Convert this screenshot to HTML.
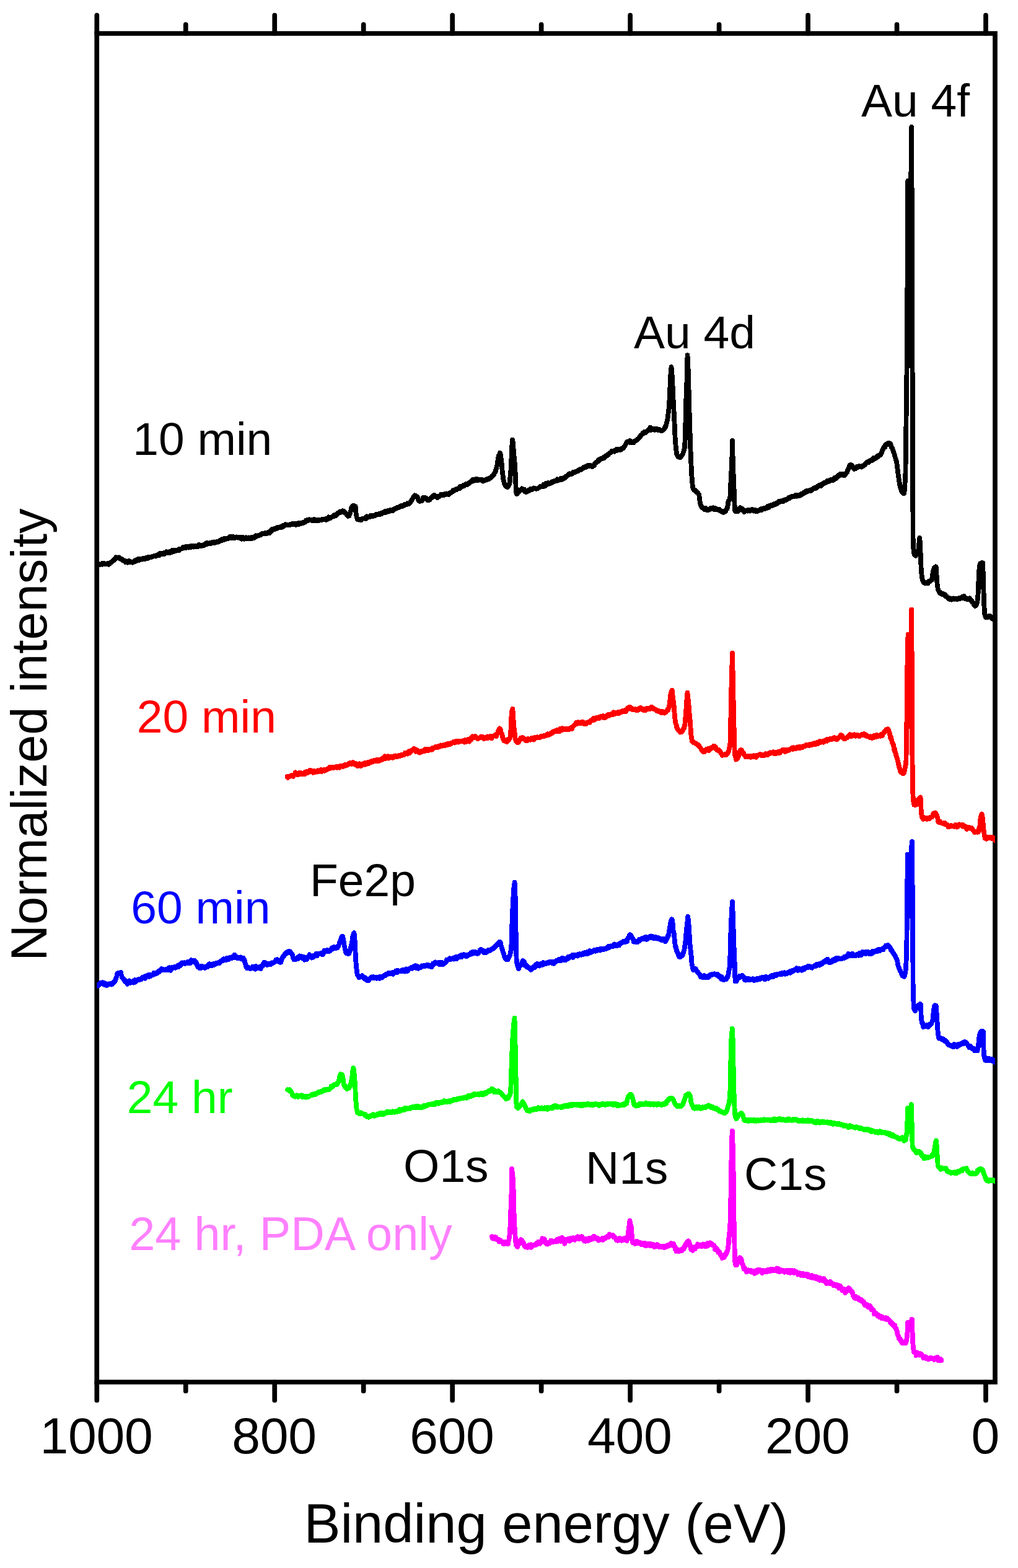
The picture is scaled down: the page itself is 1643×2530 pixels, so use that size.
<!DOCTYPE html>
<html lang="en"><head><meta charset="utf-8"><title>XPS survey spectra</title>
<style>html,body{margin:0;padding:0;background:#fff}body{width:1643px;height:2530px;overflow:hidden}svg{display:block}text{font-family:"Liberation Sans",sans-serif}</style></head><body>
<svg width="1643" height="2530" viewBox="0 0 1643 2530">
<rect width="1643" height="2530" fill="#fff"/>
<defs><clipPath id="plot"><rect x="156.25" y="54.00" width="1449.75" height="2176.00"/></clipPath></defs>
<g stroke="#000" stroke-width="7.70" fill="none" stroke-linecap="round">
<path stroke-linecap="butt" stroke-linejoin="miter" d="M156.25,54.00 H1606.00 V2230.00 H156.25 Z"/>
<path d="M1591.00,54.00 V24.55 M1591.00,2230.00 V2259.45"/>
<path d="M1447.53,54.00 V39.55 M1447.53,2230.00 V2244.45"/>
<path d="M1304.06,54.00 V24.55 M1304.06,2230.00 V2259.45"/>
<path d="M1160.59,54.00 V39.55 M1160.59,2230.00 V2244.45"/>
<path d="M1017.12,54.00 V24.55 M1017.12,2230.00 V2259.45"/>
<path d="M873.65,54.00 V39.55 M873.65,2230.00 V2244.45"/>
<path d="M730.18,54.00 V24.55 M730.18,2230.00 V2259.45"/>
<path d="M586.71,54.00 V39.55 M586.71,2230.00 V2244.45"/>
<path d="M443.24,54.00 V24.55 M443.24,2230.00 V2259.45"/>
<path d="M299.77,54.00 V39.55 M299.77,2230.00 V2244.45"/>
<path d="M156.30,54.00 V24.55 M156.30,2230.00 V2259.45"/>
</g>
<g fill="none" stroke-width="7.80" stroke-linejoin="round" stroke-linecap="round" shape-rendering="crispEdges">
<g clip-path="url(#plot)"><path stroke="#000000" d="M156.0,910.1 L156.7,910.6 L157.4,910.1 L158.2,910.0 L158.9,909.6 L159.6,910.1 L160.3,910.9 L161.0,910.5 L161.8,910.9 L162.5,910.3 L163.2,910.4 L163.9,910.3 L164.6,909.1 L165.4,910.7 L166.1,910.4 L166.8,910.4 L167.5,909.0 L168.2,908.9 L169.0,909.4 L169.7,909.7 L170.4,910.2 L171.1,909.9 L171.8,910.2 L172.6,909.4 L173.3,910.0 L174.0,910.0 L174.7,909.3 L175.4,910.8 L176.2,909.8 L176.9,909.9 L177.6,908.3 L178.3,907.7 L179.0,907.4 L179.8,907.0 L180.5,906.9 L181.2,906.2 L181.9,905.1 L182.6,904.1 L183.4,903.6 L184.1,904.0 L184.8,901.9 L185.5,901.8 L186.2,901.2 L187.0,899.4 L187.7,900.0 L188.4,900.6 L188.7,899.7 L189.1,899.5 L189.8,899.7 L190.6,899.4 L191.3,900.4 L192.0,900.2 L192.7,899.5 L193.4,901.2 L194.2,901.3 L194.9,901.8 L195.6,902.4 L196.3,902.0 L197.0,902.4 L197.8,902.3 L198.5,904.5 L199.2,904.6 L199.9,905.5 L200.6,905.5 L201.4,905.9 L202.1,906.2 L202.8,907.4 L203.5,905.3 L204.2,905.7 L205.0,906.8 L205.7,907.6 L206.4,907.0 L207.1,905.4 L207.8,905.1 L208.6,906.9 L209.3,906.2 L210.0,906.0 L210.7,907.4 L211.4,907.4 L212.2,906.8 L212.9,906.9 L213.6,906.9 L214.3,907.6 L215.0,906.8 L215.8,906.5 L216.5,906.3 L217.2,904.7 L217.9,906.3 L218.6,905.8 L219.4,905.2 L220.1,903.2 L220.8,903.8 L221.5,904.5 L222.2,902.4 L223.0,903.2 L223.7,903.8 L224.4,902.0 L225.1,903.7 L225.8,902.9 L226.6,902.3 L227.3,902.4 L228.0,902.5 L228.7,902.0 L229.4,902.5 L230.2,901.2 L230.9,901.2 L231.6,902.1 L232.3,901.3 L233.0,900.6 L233.8,901.6 L234.5,901.8 L235.2,900.4 L235.9,899.7 L236.6,900.3 L237.4,900.2 L238.1,899.9 L238.8,900.8 L239.5,899.0 L240.2,900.3 L241.0,898.5 L241.7,898.6 L242.4,899.3 L243.1,899.4 L243.8,899.1 L244.6,898.5 L245.3,898.2 L246.0,898.0 L246.7,898.0 L247.4,897.3 L248.2,897.4 L248.9,897.4 L249.6,896.8 L250.3,897.1 L251.0,896.8 L251.8,897.5 L252.5,896.2 L253.2,895.5 L253.9,895.3 L254.6,895.4 L255.4,895.7 L256.1,894.7 L256.8,895.0 L257.5,895.7 L258.2,892.7 L259.0,893.4 L259.7,894.1 L260.4,894.0 L261.1,893.7 L261.8,893.1 L262.6,893.6 L263.3,893.2 L264.0,892.5 L264.7,894.3 L265.4,892.8 L266.2,892.1 L266.9,892.3 L267.6,892.0 L268.3,892.0 L269.0,890.1 L269.8,891.5 L270.5,892.3 L271.2,890.8 L271.9,891.3 L272.6,891.9 L273.4,891.6 L274.1,891.9 L274.8,889.7 L275.5,890.4 L276.2,890.2 L277.0,890.6 L277.7,890.8 L278.4,888.1 L279.1,890.4 L279.8,888.5 L280.6,889.7 L281.3,888.1 L282.0,889.0 L282.7,889.4 L283.4,888.3 L284.2,888.3 L284.9,888.5 L285.6,887.9 L286.3,887.5 L287.0,888.3 L287.8,887.8 L288.5,886.7 L289.2,888.4 L289.9,885.6 L290.6,886.7 L291.4,885.6 L292.1,885.6 L292.8,885.7 L293.5,885.1 L294.2,885.1 L295.0,883.4 L295.7,883.2 L296.4,884.3 L297.1,883.0 L297.8,882.8 L298.6,882.3 L299.3,883.9 L300.0,883.5 L300.7,883.8 L301.4,882.1 L302.2,882.6 L302.9,881.8 L303.6,882.9 L304.3,883.4 L305.0,881.7 L305.8,883.2 L306.5,882.8 L307.2,881.9 L307.9,880.7 L308.6,882.8 L309.4,881.8 L310.1,881.4 L310.8,881.9 L311.5,881.9 L312.2,882.5 L313.0,880.8 L313.7,882.1 L314.4,882.3 L315.1,882.2 L315.8,881.1 L316.6,880.6 L317.3,881.7 L318.0,881.1 L318.7,881.0 L319.4,881.8 L320.2,880.6 L320.9,879.2 L321.6,880.4 L322.3,879.4 L323.0,881.0 L323.8,880.6 L324.5,879.9 L325.2,880.2 L325.9,880.6 L326.6,879.9 L327.4,880.6 L328.1,879.4 L328.8,879.9 L329.5,880.0 L330.2,879.8 L331.0,878.0 L331.7,878.8 L332.4,876.7 L333.1,877.0 L333.8,876.2 L334.6,877.9 L335.3,876.2 L336.0,876.8 L336.7,876.5 L337.4,876.5 L338.2,876.0 L338.9,876.4 L339.6,877.3 L340.3,876.1 L341.0,876.3 L341.8,876.5 L342.5,875.7 L343.2,874.9 L343.9,875.3 L344.6,876.2 L345.4,874.4 L346.1,875.0 L346.8,875.9 L347.5,875.7 L348.2,875.1 L349.0,875.4 L349.7,874.9 L350.4,873.9 L351.1,873.4 L351.8,873.8 L352.6,874.6 L353.3,873.4 L354.0,872.9 L354.7,872.7 L355.4,871.9 L356.2,872.6 L356.9,871.6 L357.6,872.3 L358.3,870.2 L359.0,871.7 L359.8,870.7 L360.5,869.6 L361.2,871.1 L361.9,870.2 L362.6,868.7 L363.4,869.3 L364.1,869.8 L364.8,869.1 L365.5,869.6 L366.2,869.3 L367.0,869.0 L367.7,868.5 L368.4,868.9 L369.1,868.3 L369.8,867.9 L370.6,866.0 L371.3,867.8 L372.0,867.9 L372.7,866.7 L373.4,866.5 L374.2,868.1 L374.9,865.6 L375.6,867.1 L376.3,868.4 L377.0,866.2 L377.8,867.3 L378.5,868.1 L379.2,866.8 L379.9,867.3 L380.6,867.6 L381.4,866.5 L382.1,867.0 L382.8,867.3 L383.5,867.7 L384.2,867.2 L385.0,867.2 L385.7,866.7 L386.4,867.2 L387.1,868.1 L387.8,867.7 L388.6,867.2 L389.3,867.4 L390.0,869.8 L390.7,868.9 L391.4,868.7 L392.2,866.7 L392.9,868.8 L393.6,868.8 L394.3,869.6 L395.0,868.8 L395.8,868.5 L396.5,868.9 L397.2,867.2 L397.9,869.1 L398.6,868.7 L399.4,867.9 L400.1,869.2 L400.8,869.5 L401.5,867.4 L402.2,867.8 L403.0,868.4 L403.7,868.2 L404.4,867.8 L405.1,867.4 L405.8,869.3 L406.6,868.4 L407.3,866.8 L408.0,866.6 L408.7,868.4 L409.4,867.7 L410.2,868.0 L410.9,867.1 L411.6,865.8 L412.3,866.3 L413.0,864.4 L413.8,865.1 L414.5,865.3 L415.2,865.4 L415.9,864.3 L416.6,864.4 L417.4,864.4 L418.1,864.0 L418.8,863.8 L419.5,863.2 L420.2,862.5 L421.0,862.9 L421.7,862.1 L422.4,861.2 L423.1,861.0 L423.8,861.2 L424.6,861.0 L425.3,861.0 L426.0,860.8 L426.7,860.8 L427.4,860.6 L428.2,859.8 L428.9,860.8 L429.6,861.2 L430.3,860.7 L431.0,860.2 L431.8,860.6 L432.5,859.6 L433.2,858.9 L433.9,860.0 L434.6,859.2 L435.4,859.9 L436.1,858.0 L436.8,856.0 L437.5,856.0 L438.2,856.7 L439.0,854.6 L439.7,853.4 L440.4,853.4 L441.1,853.9 L441.8,853.6 L442.6,853.2 L443.3,853.8 L444.0,853.1 L444.7,852.4 L445.4,852.6 L446.2,853.1 L446.9,852.5 L447.6,852.3 L448.3,850.7 L449.0,851.1 L449.8,851.5 L450.5,850.6 L451.2,851.2 L451.9,850.6 L452.6,850.5 L453.4,849.5 L454.1,851.0 L454.8,849.8 L455.5,848.6 L456.2,848.5 L457.0,849.8 L457.7,847.7 L458.4,848.2 L459.1,848.1 L459.8,847.2 L460.6,846.3 L461.3,847.0 L462.0,847.1 L462.7,847.5 L463.4,847.2 L464.2,846.6 L464.9,847.1 L465.6,846.9 L466.3,846.6 L467.0,846.5 L467.8,846.3 L468.5,846.8 L469.2,845.7 L469.9,845.9 L470.6,846.3 L471.4,845.3 L472.1,845.9 L472.8,844.9 L473.5,845.7 L474.2,846.5 L475.0,846.4 L475.7,845.9 L476.4,845.8 L477.1,845.0 L477.8,847.0 L478.6,846.1 L479.3,846.4 L480.0,845.1 L480.7,845.5 L481.4,844.4 L482.2,846.0 L482.9,846.0 L483.6,844.1 L484.3,845.2 L485.0,845.5 L485.8,843.9 L486.5,843.7 L487.2,844.1 L487.9,844.2 L488.6,843.3 L489.4,843.9 L490.1,843.5 L490.8,843.2 L491.5,842.7 L492.2,842.7 L493.0,841.9 L493.7,839.8 L494.4,839.9 L495.1,839.1 L495.8,838.8 L496.6,839.3 L497.3,839.3 L498.0,839.6 L498.7,838.3 L499.4,838.6 L500.2,839.4 L500.9,839.3 L501.6,839.3 L502.3,839.5 L503.0,839.1 L503.8,840.1 L504.5,839.9 L505.2,839.6 L505.9,839.3 L506.6,839.6 L507.4,838.0 L508.1,839.2 L508.8,839.8 L509.5,838.8 L510.2,839.9 L511.0,839.9 L511.7,838.9 L512.4,839.6 L513.1,839.5 L513.8,839.9 L514.6,839.9 L515.3,839.4 L516.0,838.8 L516.7,839.1 L517.4,839.1 L518.2,839.5 L518.9,839.1 L519.6,838.3 L520.3,837.8 L521.0,838.3 L521.8,837.9 L522.5,837.5 L523.2,838.0 L523.9,837.6 L524.6,837.9 L525.4,838.0 L526.1,837.2 L526.8,838.8 L527.5,836.8 L528.2,837.5 L529.0,836.6 L529.7,837.0 L530.4,834.4 L531.1,835.2 L531.8,835.6 L532.6,835.5 L533.3,836.3 L534.0,834.7 L534.7,835.0 L535.4,834.3 L536.2,834.1 L536.9,833.5 L537.6,832.8 L538.3,832.9 L539.0,831.5 L539.8,832.6 L540.5,830.8 L541.2,831.2 L541.9,832.0 L542.6,830.1 L543.4,829.8 L544.1,830.1 L544.8,828.7 L545.5,827.6 L546.2,827.6 L547.0,827.3 L547.7,826.8 L548.4,825.5 L549.1,826.9 L549.8,826.5 L550.6,825.2 L551.3,825.2 L552.0,824.6 L552.7,825.7 L553.4,824.3 L554.2,825.3 L554.9,824.9 L555.6,825.3 L556.3,826.8 L557.0,827.9 L557.8,827.8 L558.5,828.0 L559.2,829.8 L559.9,830.1 L560.6,831.3 L561.4,832.8 L562.2,832.2 L562.8,831.6 L563.5,832.3 L564.2,829.3 L565.0,827.9 L565.7,825.0 L566.4,823.3 L567.1,819.2 L567.8,818.8 L568.6,817.6 L569.3,815.9 L570.0,815.7 L570.7,815.7 L571.4,817.5 L572.2,816.4 L572.9,816.7 L573.6,816.9 L574.3,825.6 L575.0,830.8 L575.8,835.0 L576.5,836.6 L577.2,838.4 L577.9,838.6 L578.6,838.7 L579.4,838.3 L580.1,837.9 L580.8,838.5 L581.5,838.1 L582.2,839.5 L583.0,838.9 L583.7,838.1 L584.4,837.6 L585.1,837.1 L585.8,836.6 L586.6,836.6 L587.3,836.6 L588.0,836.5 L588.7,836.2 L589.4,836.9 L590.2,834.8 L590.9,835.0 L591.6,836.6 L592.3,833.3 L593.0,833.9 L593.8,834.1 L594.5,833.9 L595.2,833.9 L595.9,833.3 L596.6,833.5 L597.4,833.2 L598.1,833.6 L598.8,831.7 L599.5,832.3 L600.2,832.7 L601.0,832.0 L601.7,831.8 L602.4,832.8 L603.1,831.8 L603.8,832.5 L604.6,832.4 L605.3,831.9 L606.0,831.8 L606.7,831.1 L607.4,830.0 L608.2,830.7 L608.9,830.7 L609.6,829.8 L610.3,829.8 L611.0,830.1 L611.8,828.8 L612.5,829.6 L613.2,830.1 L613.9,828.3 L614.6,828.5 L615.4,828.1 L616.1,828.9 L616.8,827.9 L617.5,828.0 L618.2,826.8 L619.0,827.0 L619.7,826.9 L620.4,825.5 L621.1,827.5 L621.8,826.9 L622.6,825.0 L623.3,826.5 L624.0,825.7 L624.7,825.9 L625.4,825.6 L626.2,824.1 L626.9,824.7 L627.6,825.6 L628.3,824.0 L629.0,823.4 L629.8,823.0 L630.5,822.8 L631.2,823.6 L631.9,824.2 L632.6,823.2 L633.4,822.8 L634.1,823.9 L634.8,821.9 L635.5,821.6 L636.2,822.1 L637.0,821.9 L637.7,820.6 L638.4,820.2 L639.1,820.8 L639.8,820.5 L640.6,819.1 L641.3,819.4 L642.0,818.8 L642.7,819.1 L643.4,818.3 L644.2,817.9 L644.9,817.4 L645.6,818.0 L646.3,817.9 L647.0,816.5 L647.8,817.1 L648.5,815.8 L649.2,816.1 L649.9,816.3 L650.6,816.6 L651.4,815.1 L652.1,815.1 L652.8,815.0 L653.5,813.7 L654.2,814.5 L655.0,813.8 L655.7,814.3 L656.4,813.1 L657.1,812.4 L657.8,813.5 L658.6,813.4 L659.3,812.6 L660.0,813.2 L660.7,812.1 L661.4,811.4 L662.2,811.2 L662.9,808.8 L663.6,808.1 L664.3,807.2 L665.0,806.5 L665.8,804.7 L666.5,803.9 L667.2,802.0 L667.9,801.4 L668.6,801.4 L669.4,799.3 L670.1,801.3 L670.8,799.7 L671.5,800.6 L672.2,801.3 L673.0,802.5 L673.7,802.0 L674.4,803.2 L675.1,806.8 L675.8,807.7 L676.6,807.6 L677.3,808.9 L678.0,807.4 L678.7,807.4 L679.4,807.8 L680.2,807.5 L680.9,808.3 L681.6,806.1 L682.3,806.0 L683.0,803.1 L683.8,804.9 L684.5,803.3 L685.2,803.5 L685.9,804.1 L686.6,803.1 L687.4,803.6 L688.1,804.3 L688.8,805.1 L689.5,806.1 L690.2,807.5 L691.0,807.2 L691.7,807.1 L692.4,806.5 L693.1,806.6 L693.8,805.6 L694.6,804.5 L695.3,804.3 L696.0,803.2 L696.7,801.9 L697.4,802.9 L698.2,801.6 L698.9,800.0 L699.6,800.8 L700.3,800.0 L701.0,798.7 L701.8,801.0 L702.5,800.6 L703.2,801.5 L703.9,801.6 L704.6,801.8 L705.4,801.2 L706.1,802.9 L706.8,802.1 L707.5,801.5 L708.2,801.5 L709.0,800.8 L709.7,800.8 L710.4,799.7 L711.1,799.6 L711.8,797.9 L712.6,798.8 L713.3,799.2 L714.0,799.4 L714.7,798.0 L715.4,797.9 L716.2,798.8 L716.9,797.4 L717.6,797.9 L718.3,798.3 L719.0,797.1 L719.8,797.8 L720.5,796.4 L721.2,796.9 L721.9,796.6 L722.6,796.7 L723.4,797.2 L724.1,797.9 L724.8,795.8 L725.5,795.7 L726.2,796.2 L727.0,794.8 L727.7,795.4 L728.4,795.0 L729.1,793.9 L729.8,793.9 L730.6,791.9 L731.3,792.9 L732.0,790.8 L732.7,790.9 L733.4,790.5 L734.2,790.2 L734.9,790.7 L735.6,789.8 L736.3,789.1 L737.0,789.4 L737.8,789.7 L738.5,788.4 L739.2,788.2 L739.9,788.5 L740.6,787.5 L741.4,786.1 L742.1,788.2 L742.8,787.6 L743.5,784.5 L744.2,785.4 L745.0,785.3 L745.7,785.3 L746.4,784.8 L747.1,783.8 L747.8,783.0 L748.6,783.5 L749.3,783.8 L750.0,782.2 L750.7,782.0 L751.4,782.5 L752.2,781.1 L752.9,782.0 L753.6,781.6 L754.3,781.9 L755.0,780.9 L755.8,780.4 L756.5,780.2 L757.2,779.7 L757.9,778.4 L758.6,777.9 L759.4,777.6 L760.1,777.2 L760.8,777.1 L761.5,775.2 L762.2,775.2 L763.0,773.6 L763.7,776.2 L764.4,774.3 L765.1,774.6 L765.8,774.8 L766.6,773.5 L767.3,774.6 L768.0,774.3 L768.7,773.1 L769.4,774.5 L770.2,775.1 L770.9,773.1 L771.6,774.8 L772.3,774.3 L773.0,774.3 L773.8,774.2 L774.5,774.6 L775.2,773.6 L775.9,774.3 L776.6,773.7 L777.4,774.8 L778.1,774.2 L778.8,775.1 L779.5,776.6 L780.2,775.9 L781.0,775.4 L781.7,774.5 L782.4,774.4 L783.1,774.7 L783.8,774.8 L784.6,774.1 L785.3,773.8 L786.0,773.1 L786.7,773.8 L787.4,772.5 L788.2,772.2 L788.9,772.9 L789.6,772.1 L790.3,771.6 L791.0,771.1 L791.8,771.0 L792.5,771.0 L793.2,770.2 L793.9,768.5 L794.6,768.8 L795.4,767.9 L796.1,766.3 L796.8,766.5 L797.5,764.7 L798.2,763.3 L799.0,762.4 L799.7,760.9 L800.4,757.5 L801.1,755.7 L801.8,752.1 L802.6,750.5 L803.3,744.1 L804.0,740.3 L804.7,735.3 L805.4,734.8 L806.2,734.6 L806.9,730.8 L807.6,732.2 L808.3,736.0 L809.0,742.4 L809.8,749.2 L810.5,758.5 L811.2,764.4 L811.9,769.1 L812.6,775.3 L813.4,776.7 L814.1,781.0 L814.8,781.8 L815.5,783.3 L816.2,784.8 L817.0,784.7 L817.7,784.2 L818.4,784.4 L819.1,786.3 L819.8,785.6 L820.6,783.6 L821.3,783.3 L822.0,781.2 L822.7,778.3 L823.4,770.1 L824.2,763.0 L824.9,751.6 L825.6,735.7 L826.3,720.1 L827.0,709.6 L827.8,713.2 L828.5,722.5 L829.2,733.3 L829.9,737.7 L830.6,746.4 L831.4,758.1 L832.1,772.7 L832.8,790.3 L833.5,796.8 L834.0,797.1 L835.0,796.8 L835.7,795.5 L836.4,794.9 L837.1,793.3 L837.8,791.8 L838.6,792.8 L839.3,791.6 L840.0,790.4 L840.7,790.2 L841.4,790.2 L842.2,788.4 L842.9,788.7 L843.6,789.0 L844.3,789.4 L845.0,789.6 L845.8,789.5 L846.5,792.9 L847.2,793.3 L847.9,793.8 L848.6,793.9 L849.4,794.1 L850.1,793.5 L850.8,792.8 L851.5,792.5 L852.2,792.1 L853.0,791.6 L853.7,790.7 L854.4,791.4 L855.1,789.6 L855.8,790.4 L856.6,788.9 L857.3,789.5 L858.0,790.0 L858.7,789.1 L859.4,788.4 L860.2,788.8 L860.9,788.8 L861.6,787.5 L862.3,788.2 L863.0,788.6 L863.8,788.2 L864.5,788.5 L865.2,788.8 L865.9,788.7 L866.6,788.7 L867.4,788.4 L868.1,787.6 L868.8,787.5 L869.5,787.1 L870.2,786.8 L871.0,786.5 L871.7,785.1 L872.4,785.6 L873.1,785.5 L873.8,784.5 L874.6,784.7 L875.3,784.7 L876.0,783.9 L876.7,785.1 L877.4,781.7 L878.2,782.9 L878.9,781.6 L879.6,783.1 L880.3,783.8 L881.0,780.2 L881.8,781.6 L882.5,781.6 L883.2,780.7 L883.9,781.0 L884.6,779.0 L885.4,780.8 L886.1,780.3 L886.8,779.9 L887.5,779.4 L888.2,780.1 L889.0,779.2 L889.7,779.5 L890.4,778.8 L891.1,777.3 L891.8,778.3 L892.6,778.0 L893.3,777.9 L894.0,776.3 L894.7,776.4 L895.4,776.5 L896.2,775.9 L896.9,776.3 L897.6,776.5 L898.3,774.4 L899.0,773.5 L899.8,775.1 L900.5,775.3 L901.2,774.7 L901.9,774.4 L902.6,773.3 L903.4,773.0 L904.1,773.8 L904.8,772.4 L905.5,771.6 L906.2,771.9 L907.0,773.9 L907.7,773.3 L908.4,771.4 L909.1,771.1 L909.8,771.5 L910.6,770.5 L911.3,771.5 L912.0,770.1 L912.7,769.0 L913.4,770.0 L914.2,768.2 L914.9,768.2 L915.6,767.5 L916.3,766.8 L917.0,766.7 L917.8,765.7 L918.5,764.7 L919.2,764.2 L919.9,764.6 L920.6,764.7 L921.4,765.0 L922.1,764.8 L922.8,764.8 L923.5,764.2 L924.2,763.3 L925.0,762.9 L925.7,761.6 L926.4,762.5 L927.1,762.5 L927.8,762.1 L928.6,761.3 L929.3,760.9 L930.0,761.3 L930.7,760.3 L931.4,760.4 L932.2,760.0 L932.9,759.4 L933.6,759.7 L934.3,758.1 L935.0,757.9 L935.8,757.3 L936.5,756.9 L937.2,758.1 L937.9,757.8 L938.6,756.3 L939.4,756.3 L940.1,756.3 L940.8,755.7 L941.5,755.6 L942.2,753.6 L943.0,753.7 L943.7,754.1 L944.4,754.4 L945.1,753.2 L945.8,752.3 L946.6,752.3 L947.3,751.8 L948.0,751.3 L948.7,752.6 L949.4,751.0 L950.2,751.2 L950.9,752.4 L951.6,751.7 L952.3,751.2 L953.0,750.7 L953.8,751.6 L954.5,752.6 L955.2,752.2 L955.9,752.9 L956.6,752.2 L957.0,752.2 L957.4,752.0 L958.1,751.8 L958.8,751.5 L959.5,748.6 L960.2,748.3 L961.0,747.3 L961.7,745.8 L962.4,745.3 L963.1,745.5 L963.8,745.7 L964.6,744.3 L965.3,743.6 L966.0,741.9 L966.7,743.8 L967.4,742.1 L968.2,741.6 L968.9,740.5 L969.6,740.8 L970.3,739.8 L971.0,740.2 L971.8,740.1 L972.5,739.5 L973.2,739.3 L973.9,738.2 L974.6,739.4 L975.4,737.7 L976.1,736.5 L976.8,737.2 L977.5,736.3 L978.2,735.6 L979.0,735.4 L979.7,735.2 L980.4,733.6 L981.1,733.6 L981.8,733.9 L982.6,732.8 L983.3,731.7 L984.0,731.3 L984.7,730.7 L985.4,730.3 L986.2,730.4 L986.9,729.4 L987.6,727.5 L988.3,728.6 L989.0,727.7 L989.8,728.4 L990.5,727.3 L991.2,727.5 L991.9,728.6 L992.6,726.4 L993.4,726.2 L994.1,725.9 L994.8,725.1 L995.5,725.4 L996.2,726.8 L997.0,726.0 L997.7,725.1 L998.4,725.2 L999.1,726.4 L999.8,725.3 L1000.6,725.3 L1001.3,725.4 L1002.0,725.7 L1002.7,725.6 L1003.4,724.5 L1004.2,723.3 L1004.9,722.8 L1005.6,723.2 L1006.3,722.4 L1007.0,720.6 L1007.8,720.4 L1008.5,719.3 L1009.2,718.1 L1009.9,716.6 L1010.6,714.9 L1011.4,714.4 L1012.1,712.8 L1012.8,713.8 L1013.5,712.8 L1014.4,712.2 L1015.0,713.2 L1015.7,712.9 L1016.4,711.2 L1017.1,713.8 L1017.8,713.3 L1018.6,714.3 L1019.3,712.3 L1020.0,713.6 L1020.7,713.7 L1021.4,713.6 L1022.2,713.6 L1022.9,714.0 L1023.6,712.1 L1024.3,711.9 L1025.0,711.3 L1025.8,711.3 L1026.5,710.7 L1027.2,710.7 L1027.9,709.9 L1028.6,709.1 L1029.4,708.0 L1030.1,707.5 L1030.8,707.6 L1031.5,706.6 L1032.2,705.2 L1033.0,704.0 L1033.7,704.2 L1034.4,701.9 L1035.1,701.8 L1035.8,701.4 L1036.6,699.8 L1037.3,700.0 L1038.0,698.3 L1038.7,699.3 L1039.4,698.5 L1040.2,697.0 L1040.9,698.2 L1041.6,696.9 L1042.3,698.0 L1043.0,696.3 L1043.8,696.3 L1044.5,696.1 L1045.2,695.0 L1045.9,694.5 L1046.6,693.0 L1047.4,692.9 L1048.1,691.6 L1048.8,691.3 L1049.5,689.6 L1050.2,694.0 L1051.0,693.3 L1051.7,692.0 L1052.4,693.1 L1053.1,693.2 L1053.8,693.5 L1054.6,691.9 L1055.3,693.5 L1056.0,692.2 L1056.7,693.8 L1057.4,692.1 L1058.2,692.6 L1058.9,692.0 L1059.6,691.6 L1060.3,693.3 L1061.0,693.4 L1061.8,694.1 L1062.5,694.0 L1063.2,693.4 L1063.9,693.1 L1064.6,694.0 L1065.4,694.3 L1066.1,694.4 L1066.8,695.4 L1067.5,695.2 L1068.2,694.7 L1069.0,694.6 L1069.7,693.9 L1070.4,693.5 L1071.1,693.1 L1071.8,692.5 L1072.6,690.5 L1073.3,688.9 L1074.0,689.3 L1074.7,686.6 L1075.4,685.1 L1076.2,680.9 L1076.9,678.7 L1077.6,675.2 L1078.3,669.6 L1079.0,664.1 L1079.8,656.8 L1080.5,644.8 L1081.2,629.8 L1081.9,613.0 L1082.6,600.5 L1083.5,592.1 L1084.1,597.0 L1084.8,608.0 L1085.5,620.3 L1086.2,637.1 L1087.0,651.7 L1087.7,665.9 L1088.4,679.6 L1089.1,694.9 L1089.8,710.0 L1090.6,718.8 L1091.3,725.8 L1092.0,732.2 L1092.7,734.1 L1093.4,735.2 L1094.2,736.9 L1094.9,736.8 L1095.6,737.6 L1096.3,737.6 L1097.0,738.0 L1097.8,738.2 L1098.5,736.4 L1099.2,737.1 L1099.9,735.8 L1100.6,734.3 L1101.4,733.1 L1102.1,732.8 L1102.8,730.2 L1103.5,728.5 L1104.2,725.3 L1105.0,722.1 L1105.7,708.2 L1106.4,682.4 L1107.1,653.4 L1107.8,630.6 L1108.6,612.4 L1109.5,573.1 L1110.0,580.5 L1110.7,597.5 L1111.4,621.0 L1112.2,650.9 L1112.9,676.3 L1113.6,698.3 L1114.3,720.9 L1115.0,738.9 L1115.8,756.2 L1116.5,768.8 L1117.2,778.0 L1117.9,785.2 L1118.6,788.2 L1119.4,789.4 L1120.1,790.9 L1120.8,791.0 L1121.5,790.4 L1122.2,792.4 L1123.0,791.8 L1123.7,794.1 L1124.4,793.3 L1125.1,794.2 L1125.8,794.7 L1126.6,795.5 L1127.3,797.3 L1128.0,797.7 L1128.7,801.3 L1129.4,807.7 L1130.2,812.2 L1130.9,815.1 L1131.6,816.5 L1132.3,817.4 L1133.0,819.3 L1133.8,819.3 L1134.5,819.9 L1135.2,820.0 L1135.9,819.6 L1136.6,821.6 L1137.4,822.3 L1138.1,821.7 L1138.8,821.1 L1139.5,820.1 L1140.2,822.1 L1141.0,822.9 L1141.7,822.3 L1142.4,822.7 L1143.1,822.9 L1143.8,822.6 L1144.6,821.4 L1145.3,822.2 L1146.0,821.8 L1146.7,820.2 L1147.4,820.7 L1148.2,820.0 L1148.9,820.8 L1149.6,821.2 L1150.3,820.1 L1151.0,819.5 L1151.8,821.7 L1152.5,821.1 L1153.2,821.8 L1153.9,820.0 L1154.6,821.5 L1155.4,822.3 L1156.1,822.4 L1156.8,821.2 L1157.5,821.7 L1158.2,821.8 L1159.0,822.8 L1159.7,823.2 L1160.4,822.9 L1161.1,822.2 L1161.8,823.9 L1162.6,823.4 L1163.3,824.5 L1164.0,824.6 L1164.7,825.9 L1165.4,825.9 L1166.2,825.2 L1166.9,825.9 L1167.6,827.0 L1168.3,825.5 L1169.0,825.9 L1169.8,826.0 L1170.5,825.6 L1171.2,824.5 L1171.9,822.5 L1172.6,821.7 L1173.4,821.2 L1174.1,817.9 L1174.8,815.1 L1175.5,808.9 L1176.2,807.7 L1177.0,806.6 L1177.7,804.2 L1178.4,801.6 L1179.1,785.8 L1179.8,770.9 L1180.6,757.3 L1181.3,742.0 L1182.0,711.1 L1182.7,738.9 L1183.4,759.1 L1184.2,780.4 L1184.9,795.0 L1185.6,814.6 L1186.3,824.2 L1187.0,825.3 L1187.8,824.4 L1188.5,824.4 L1189.2,825.0 L1189.9,824.3 L1190.6,825.3 L1191.4,823.3 L1192.1,823.7 L1192.8,821.9 L1193.5,820.7 L1194.2,821.4 L1195.0,819.1 L1195.7,820.8 L1196.4,820.4 L1197.1,821.5 L1197.8,820.6 L1198.6,822.9 L1199.3,823.9 L1200.0,823.6 L1200.7,824.2 L1201.4,826.2 L1202.2,824.7 L1202.9,824.1 L1203.6,823.7 L1204.3,824.2 L1205.0,823.8 L1205.8,823.5 L1206.5,824.5 L1207.2,823.1 L1207.9,823.6 L1208.6,824.3 L1209.4,822.7 L1210.1,824.0 L1210.8,824.5 L1211.5,822.5 L1212.2,822.6 L1213.0,822.7 L1213.7,822.1 L1214.4,823.6 L1215.1,822.2 L1215.8,823.8 L1216.6,824.6 L1217.3,822.8 L1218.0,823.8 L1218.7,822.9 L1219.4,824.8 L1220.2,824.0 L1220.9,824.4 L1221.6,824.6 L1222.3,824.9 L1223.0,824.2 L1223.8,824.2 L1224.5,823.6 L1225.2,823.8 L1225.9,822.6 L1226.6,823.1 L1227.4,821.5 L1228.1,822.1 L1228.8,823.4 L1229.5,822.0 L1230.2,820.9 L1231.0,821.7 L1231.7,820.6 L1232.4,820.0 L1233.1,820.3 L1233.8,821.1 L1234.6,820.6 L1235.3,820.0 L1236.0,819.2 L1236.7,818.8 L1237.4,820.1 L1238.2,819.0 L1238.9,817.9 L1239.6,816.7 L1240.3,816.8 L1241.0,818.9 L1241.8,816.2 L1242.5,816.5 L1243.2,816.4 L1243.9,815.8 L1244.6,815.4 L1245.4,814.5 L1246.1,814.4 L1246.8,816.0 L1247.5,814.2 L1248.2,815.0 L1249.0,813.2 L1249.7,813.8 L1250.4,814.0 L1251.1,814.2 L1251.8,812.5 L1252.6,813.3 L1253.3,812.8 L1254.0,811.7 L1254.7,812.1 L1255.4,810.8 L1256.2,810.5 L1256.9,810.6 L1257.6,808.5 L1258.3,809.8 L1259.0,809.0 L1259.8,808.4 L1260.5,808.8 L1261.2,809.3 L1261.9,808.4 L1262.6,809.2 L1263.4,807.4 L1264.1,807.1 L1264.8,808.7 L1265.5,807.8 L1266.2,807.8 L1267.0,806.4 L1267.7,807.1 L1268.4,806.4 L1269.1,806.3 L1269.8,805.5 L1270.6,805.9 L1271.3,804.3 L1272.0,803.7 L1272.7,803.0 L1273.4,804.4 L1274.2,802.8 L1274.9,802.4 L1275.6,802.1 L1276.3,802.2 L1277.0,801.4 L1277.8,801.8 L1278.5,801.3 L1279.2,801.1 L1279.9,800.6 L1280.6,801.1 L1281.4,800.6 L1282.1,800.8 L1282.8,800.8 L1283.5,800.7 L1284.2,799.0 L1285.0,800.0 L1285.7,799.7 L1286.4,800.6 L1287.1,799.0 L1287.8,799.4 L1288.6,799.5 L1289.3,799.3 L1290.0,800.0 L1290.7,798.7 L1291.4,799.3 L1292.2,797.4 L1292.9,796.7 L1293.6,798.3 L1294.3,797.4 L1295.0,797.0 L1295.8,796.3 L1296.5,796.2 L1297.2,794.7 L1297.9,795.8 L1298.6,794.4 L1299.4,795.0 L1300.1,794.0 L1300.8,792.3 L1301.5,792.4 L1302.2,793.6 L1303.0,792.5 L1303.7,792.0 L1304.4,792.1 L1305.1,791.5 L1305.8,791.2 L1306.6,791.4 L1307.3,791.2 L1308.0,791.9 L1308.7,790.5 L1309.4,791.3 L1310.2,790.7 L1310.9,790.2 L1311.6,789.3 L1312.3,788.4 L1313.0,788.1 L1313.8,787.7 L1314.5,787.1 L1315.2,787.3 L1315.9,786.7 L1316.6,788.0 L1317.4,787.1 L1318.1,786.2 L1318.8,785.0 L1319.5,785.9 L1320.2,785.3 L1321.0,784.4 L1321.7,783.9 L1322.4,782.7 L1323.1,784.0 L1323.8,783.0 L1324.6,784.2 L1325.3,782.0 L1326.0,781.4 L1326.7,782.0 L1327.4,780.7 L1328.2,780.4 L1328.9,779.6 L1329.6,779.1 L1330.3,780.1 L1331.0,779.4 L1331.8,779.5 L1332.5,777.8 L1333.2,777.7 L1333.9,776.8 L1334.6,777.7 L1335.4,775.9 L1336.1,777.0 L1336.8,777.1 L1337.5,777.1 L1338.2,775.3 L1339.0,776.4 L1339.7,775.0 L1340.4,774.8 L1341.1,774.1 L1341.8,775.5 L1342.6,775.5 L1343.3,773.7 L1344.0,773.3 L1344.7,773.2 L1345.4,774.7 L1346.2,773.4 L1346.9,772.0 L1347.6,770.8 L1348.3,771.1 L1349.0,771.9 L1349.8,772.0 L1350.5,770.0 L1351.2,769.2 L1351.9,768.7 L1352.6,767.1 L1353.4,768.3 L1354.1,766.5 L1354.8,767.4 L1355.5,765.2 L1356.2,765.2 L1357.0,766.2 L1357.7,765.5 L1358.4,766.5 L1359.1,766.0 L1359.8,765.2 L1360.6,766.4 L1361.3,766.5 L1362.0,764.7 L1362.7,767.2 L1363.4,766.2 L1364.2,766.0 L1364.9,763.6 L1365.6,763.4 L1366.3,762.5 L1367.0,762.2 L1367.8,759.3 L1368.5,758.5 L1369.2,756.2 L1369.9,755.5 L1370.6,753.9 L1371.4,750.8 L1372.1,750.2 L1372.8,750.2 L1373.1,749.7 L1373.5,750.3 L1374.2,750.4 L1375.0,750.9 L1375.7,752.4 L1376.4,753.9 L1377.1,755.5 L1378.1,756.0 L1378.6,757.0 L1379.3,756.0 L1380.0,754.8 L1380.7,756.2 L1381.4,755.4 L1382.2,754.5 L1382.9,753.6 L1383.6,752.5 L1384.3,752.8 L1385.0,753.9 L1385.8,752.7 L1386.5,752.2 L1387.2,753.1 L1387.9,753.1 L1388.6,753.2 L1389.4,753.2 L1390.1,753.5 L1390.8,751.9 L1391.5,753.0 L1392.2,751.5 L1393.0,752.2 L1393.7,751.3 L1394.4,750.8 L1395.1,750.5 L1395.8,749.2 L1396.6,749.2 L1397.3,748.3 L1398.0,747.1 L1398.7,746.0 L1399.4,745.4 L1400.2,745.2 L1400.9,745.0 L1401.6,744.7 L1402.3,746.3 L1403.0,744.4 L1403.8,744.2 L1404.5,742.8 L1405.2,742.6 L1405.9,742.5 L1406.6,742.5 L1407.4,741.3 L1408.1,742.7 L1408.8,740.9 L1409.5,741.7 L1410.2,739.1 L1411.0,740.3 L1411.7,740.1 L1412.4,739.7 L1413.1,739.6 L1413.8,739.0 L1414.6,738.5 L1415.3,736.7 L1416.0,737.0 L1416.7,735.4 L1417.4,736.8 L1418.2,736.0 L1418.9,735.1 L1419.6,734.0 L1420.3,733.4 L1421.0,734.1 L1421.8,733.0 L1422.5,730.6 L1423.2,730.1 L1423.9,726.9 L1424.6,725.3 L1425.4,724.8 L1426.1,722.9 L1426.8,721.6 L1427.5,720.7 L1428.2,721.5 L1429.0,718.1 L1429.7,717.6 L1430.4,716.9 L1431.1,716.2 L1431.8,716.6 L1432.6,717.2 L1433.3,715.2 L1434.0,716.1 L1434.7,715.9 L1435.4,716.3 L1436.2,715.3 L1436.9,716.1 L1437.6,717.1 L1438.3,720.5 L1439.0,721.9 L1439.8,723.4 L1440.5,723.5 L1441.2,726.8 L1441.9,728.5 L1442.6,730.2 L1443.4,732.7 L1444.1,735.8 L1444.8,737.8 L1445.5,739.8 L1446.2,742.8 L1447.0,745.3 L1447.7,750.3 L1448.4,755.8 L1449.1,761.6 L1449.8,766.5 L1450.6,772.0 L1451.3,777.0 L1452.0,780.4 L1452.7,785.4 L1453.4,787.0 L1454.2,789.3 L1454.9,792.4 L1455.6,793.3 L1456.3,792.5 L1457.0,795.1 L1457.8,796.0 L1458.7,795.9 L1459.2,795.9 L1459.9,790.4 L1460.6,779.6 L1461.4,764.3 L1462.1,714.8 L1462.8,656.0 L1463.5,598.0 L1464.2,484.0 L1465.0,408.2 L1465.3,292.0 L1465.7,305.9 L1466.4,377.3 L1467.1,478.1 L1468.0,590.0 L1468.6,542.4 L1469.3,417.8 L1470.0,326.7 L1470.7,242.8 L1471.2,205.0 L1472.2,445.9 L1472.9,708.6 L1473.6,868.4 L1474.3,884.3 L1475.0,892.3 L1475.8,895.2 L1476.5,896.0 L1477.2,896.3 L1477.9,896.7 L1478.9,895.5 L1479.4,895.1 L1480.1,894.0 L1480.8,892.2 L1481.5,890.5 L1482.2,887.6 L1483.0,881.7 L1483.7,872.6 L1484.3,868.0 L1485.1,879.4 L1485.8,896.5 L1486.6,915.8 L1487.3,925.2 L1488.0,931.7 L1488.7,934.7 L1489.4,936.9 L1490.2,938.1 L1490.9,939.9 L1491.6,940.3 L1492.3,940.7 L1493.0,940.1 L1493.8,940.9 L1494.5,941.0 L1495.2,941.4 L1495.9,940.4 L1496.6,941.4 L1497.4,941.5 L1498.1,940.6 L1498.8,939.0 L1499.5,938.0 L1500.2,937.3 L1501.0,937.4 L1501.7,937.7 L1502.4,936.3 L1503.1,935.7 L1503.8,935.7 L1504.6,932.0 L1505.3,926.1 L1506.0,922.4 L1506.7,919.4 L1507.4,917.5 L1508.2,915.6 L1508.9,915.2 L1509.6,915.8 L1510.3,914.4 L1511.0,915.2 L1511.8,931.5 L1512.5,941.3 L1513.2,946.4 L1513.9,950.7 L1514.6,952.5 L1515.4,954.4 L1516.1,954.8 L1516.8,956.9 L1517.5,955.7 L1518.2,957.1 L1519.0,957.5 L1519.7,958.4 L1520.4,957.6 L1521.1,958.5 L1521.8,957.9 L1522.6,959.0 L1523.3,959.9 L1524.0,958.8 L1524.7,959.8 L1525.4,959.6 L1526.2,961.7 L1526.9,962.7 L1527.6,962.7 L1528.3,962.7 L1529.0,964.3 L1529.8,965.2 L1530.5,965.7 L1531.2,966.0 L1531.9,964.6 L1532.6,965.7 L1533.4,967.2 L1534.1,965.5 L1534.8,967.0 L1535.5,967.5 L1536.2,966.8 L1537.0,967.0 L1537.7,966.0 L1538.4,965.5 L1539.1,966.2 L1539.8,966.1 L1540.6,966.2 L1541.3,966.7 L1542.0,966.2 L1542.7,966.3 L1543.4,966.4 L1544.2,966.0 L1544.9,967.1 L1545.6,966.1 L1546.3,965.7 L1547.0,965.4 L1547.8,965.1 L1548.5,966.3 L1549.2,965.5 L1549.9,964.6 L1550.6,964.9 L1551.4,965.1 L1552.1,964.7 L1552.8,965.0 L1553.5,962.6 L1554.2,962.9 L1555.0,962.4 L1555.7,962.0 L1556.4,963.7 L1557.1,964.6 L1557.8,966.0 L1558.6,965.9 L1559.3,966.5 L1560.0,965.3 L1560.7,965.7 L1561.4,967.0 L1562.2,967.2 L1562.9,966.5 L1563.6,966.2 L1564.3,967.3 L1565.0,965.4 L1565.8,966.5 L1566.5,968.0 L1567.2,968.8 L1567.9,968.6 L1568.6,969.1 L1569.4,972.2 L1570.1,972.3 L1570.8,972.8 L1571.5,974.8 L1572.2,976.6 L1573.0,975.2 L1573.7,978.0 L1574.4,977.5 L1575.1,975.0 L1575.8,975.9 L1576.6,972.8 L1577.3,972.2 L1578.0,965.6 L1578.7,956.9 L1579.4,938.2 L1580.2,922.3 L1580.9,913.8 L1581.6,910.5 L1582.3,909.1 L1583.0,908.7 L1583.8,908.7 L1584.5,908.0 L1585.2,908.9 L1585.9,908.9 L1586.3,908.6 L1586.6,921.8 L1587.4,950.6 L1588.1,972.9 L1588.8,984.4 L1589.5,992.6 L1590.2,993.0 L1591.0,995.9 L1591.7,996.6 L1592.4,996.6 L1593.1,996.4 L1593.8,996.2 L1594.6,995.6 L1595.3,994.2 L1596.0,994.8 L1596.7,994.5 L1597.4,994.3 L1598.2,993.9 L1598.9,994.9 L1599.6,996.4 L1600.3,996.7 L1601.0,997.3 L1601.8,998.9 L1602.5,999.0 L1603.2,999.2 L1603.9,999.7 L1604.6,998.9 L1605.4,999.2 L1605.9,1000.0"/></g>
<g clip-path="url(#plot)"><path stroke="#ff0000" d="M463.7,1252.9 L464.4,1254.8 L465.2,1253.5 L465.9,1253.5 L466.6,1253.0 L467.3,1252.8 L468.0,1252.9 L468.8,1252.3 L469.5,1251.6 L470.2,1251.3 L470.9,1251.0 L471.6,1252.1 L472.4,1252.2 L473.1,1252.8 L473.8,1251.3 L474.5,1250.3 L475.2,1249.8 L476.0,1248.5 L476.7,1246.3 L477.4,1248.6 L478.1,1247.3 L478.8,1248.0 L479.6,1247.6 L480.3,1250.5 L481.0,1249.1 L481.7,1248.5 L482.4,1247.3 L483.2,1249.1 L483.9,1247.6 L484.6,1249.5 L485.3,1247.1 L486.0,1248.3 L486.8,1249.2 L487.5,1247.5 L488.2,1248.2 L488.9,1248.1 L489.6,1248.7 L490.4,1247.3 L491.1,1248.1 L491.8,1249.2 L492.5,1245.9 L493.2,1246.2 L494.0,1247.1 L494.7,1245.9 L495.4,1244.9 L496.1,1247.1 L496.8,1246.3 L497.6,1246.2 L498.3,1245.9 L499.0,1245.4 L499.7,1244.0 L500.4,1242.6 L501.2,1245.2 L501.9,1243.9 L502.6,1244.9 L503.3,1245.3 L504.0,1243.9 L504.8,1244.8 L505.5,1246.7 L506.2,1245.9 L506.9,1243.8 L507.6,1245.1 L508.4,1245.2 L509.1,1245.7 L509.8,1245.7 L510.5,1244.9 L511.2,1244.6 L512.0,1245.5 L512.7,1243.3 L513.4,1245.5 L514.1,1244.6 L514.8,1243.8 L515.6,1243.6 L516.3,1244.2 L517.0,1242.6 L517.7,1241.8 L518.4,1244.1 L519.2,1245.0 L519.9,1243.4 L520.6,1243.5 L521.3,1243.4 L522.0,1242.4 L522.8,1243.5 L523.5,1243.7 L524.2,1242.9 L524.9,1243.5 L525.6,1241.6 L526.4,1242.4 L527.1,1241.1 L527.8,1240.9 L528.5,1241.2 L529.2,1240.7 L530.0,1240.9 L530.7,1240.3 L531.4,1238.4 L532.1,1240.4 L532.8,1237.7 L533.6,1238.9 L534.3,1239.2 L535.0,1238.8 L535.7,1239.2 L536.4,1238.8 L537.2,1237.8 L537.9,1239.3 L538.6,1238.5 L539.3,1237.7 L540.0,1238.4 L540.8,1238.2 L541.5,1238.4 L542.2,1237.4 L542.9,1237.9 L543.6,1237.3 L544.4,1238.7 L545.1,1236.8 L545.8,1238.0 L546.5,1236.7 L547.2,1237.6 L548.0,1238.6 L548.7,1236.1 L549.4,1236.5 L550.1,1235.6 L550.8,1235.7 L551.6,1235.7 L552.3,1236.3 L553.0,1236.9 L553.7,1236.8 L554.4,1235.5 L555.2,1236.0 L555.9,1234.4 L556.6,1236.0 L557.3,1235.1 L558.0,1234.1 L558.8,1234.1 L559.5,1235.0 L560.2,1234.3 L560.9,1234.5 L561.6,1233.3 L562.4,1233.5 L563.1,1232.9 L563.8,1231.4 L564.5,1232.2 L565.2,1231.8 L566.0,1231.0 L566.7,1232.0 L567.4,1232.9 L568.1,1232.1 L568.8,1230.9 L569.6,1230.0 L570.3,1231.1 L571.0,1231.0 L571.7,1232.1 L572.4,1233.4 L573.2,1232.7 L573.9,1231.8 L574.6,1234.5 L575.3,1233.6 L576.0,1234.9 L576.8,1233.1 L577.5,1236.2 L578.2,1233.1 L578.9,1234.4 L579.6,1235.1 L580.4,1232.3 L581.1,1233.9 L581.8,1233.2 L582.5,1236.1 L583.2,1235.2 L584.0,1233.6 L584.7,1232.7 L585.4,1232.4 L586.1,1233.8 L586.8,1232.6 L587.6,1233.3 L588.3,1232.2 L589.0,1230.9 L589.7,1233.7 L590.4,1232.4 L591.2,1231.2 L591.9,1231.3 L592.6,1232.5 L593.3,1231.9 L594.0,1230.0 L594.8,1232.1 L595.5,1230.1 L596.2,1231.0 L596.9,1229.2 L597.6,1229.4 L598.4,1230.4 L599.1,1228.4 L599.8,1229.2 L600.5,1229.1 L601.2,1227.9 L602.0,1229.4 L602.7,1228.4 L603.4,1227.4 L604.1,1228.2 L604.8,1228.3 L605.6,1228.1 L606.3,1226.8 L607.0,1227.5 L607.7,1227.1 L608.4,1225.7 L609.2,1226.3 L609.9,1228.3 L610.6,1225.8 L611.3,1226.8 L612.0,1227.8 L612.8,1225.9 L613.5,1226.1 L614.2,1225.4 L614.9,1226.3 L615.6,1224.6 L616.4,1225.8 L617.1,1224.3 L617.8,1225.0 L618.5,1222.8 L619.2,1222.9 L620.0,1224.3 L620.7,1223.7 L621.4,1220.3 L622.1,1224.0 L622.8,1221.8 L623.6,1223.2 L624.3,1223.2 L625.0,1222.0 L625.7,1221.8 L626.4,1220.3 L627.2,1222.3 L627.9,1223.5 L628.6,1220.7 L629.3,1222.7 L630.0,1222.3 L630.8,1222.4 L631.5,1220.5 L632.2,1221.3 L632.9,1221.6 L633.6,1222.7 L634.4,1220.4 L635.1,1220.7 L635.8,1220.4 L636.5,1221.7 L637.2,1219.5 L638.0,1220.6 L638.7,1219.6 L639.4,1220.3 L640.1,1221.2 L640.8,1219.9 L641.6,1220.9 L642.3,1219.7 L643.0,1220.0 L643.7,1219.7 L644.4,1218.9 L645.2,1219.9 L645.9,1219.9 L646.6,1218.4 L647.3,1219.4 L648.0,1218.5 L648.8,1217.8 L649.5,1217.9 L650.2,1218.2 L650.9,1217.8 L651.6,1218.1 L652.4,1216.8 L653.1,1216.5 L653.8,1214.8 L654.5,1215.4 L655.2,1216.2 L656.0,1214.5 L656.7,1214.5 L657.4,1216.6 L658.1,1214.7 L658.8,1213.6 L659.6,1212.4 L660.3,1213.1 L661.0,1215.4 L661.7,1213.0 L662.4,1213.0 L663.2,1212.6 L663.9,1211.0 L664.6,1211.3 L665.3,1210.5 L666.0,1209.5 L666.8,1210.1 L667.5,1208.0 L668.2,1207.8 L668.9,1208.0 L669.6,1210.2 L670.4,1209.7 L671.1,1212.7 L671.8,1210.7 L672.5,1211.4 L673.2,1210.3 L674.0,1212.0 L674.7,1213.1 L675.4,1213.8 L676.1,1212.5 L676.8,1212.9 L677.6,1214.6 L678.3,1212.9 L679.0,1213.2 L679.7,1213.4 L680.4,1211.7 L681.2,1213.3 L681.9,1211.8 L682.6,1212.3 L683.3,1211.1 L684.0,1211.3 L684.8,1211.9 L685.5,1210.9 L686.2,1209.0 L686.9,1210.2 L687.6,1210.0 L688.4,1210.1 L689.1,1210.3 L689.8,1208.7 L690.5,1211.5 L691.2,1209.1 L692.0,1210.8 L692.7,1209.2 L693.4,1209.0 L694.1,1209.0 L694.8,1208.6 L695.6,1209.1 L696.3,1209.4 L697.0,1209.7 L697.7,1209.4 L698.4,1206.5 L699.2,1207.9 L699.9,1207.5 L700.6,1206.8 L701.3,1206.8 L702.0,1206.4 L702.8,1205.1 L703.5,1205.1 L704.2,1206.4 L704.9,1205.3 L705.6,1206.3 L706.4,1204.5 L707.1,1204.2 L707.8,1204.6 L708.5,1204.3 L709.2,1204.9 L710.0,1203.4 L710.7,1204.3 L711.4,1203.7 L712.1,1202.5 L712.8,1202.9 L713.6,1202.7 L714.3,1203.6 L715.0,1203.6 L715.7,1203.1 L716.4,1201.9 L717.2,1202.9 L717.9,1202.4 L718.6,1201.6 L719.3,1202.7 L720.0,1201.3 L720.8,1201.6 L721.5,1200.9 L722.2,1200.5 L722.9,1201.8 L723.6,1199.9 L724.4,1200.5 L725.1,1200.5 L725.8,1201.0 L726.5,1199.7 L727.2,1200.6 L728.0,1199.1 L728.7,1198.8 L729.4,1198.5 L730.1,1198.6 L730.8,1198.1 L731.6,1197.2 L732.3,1197.5 L733.0,1197.2 L733.7,1198.5 L734.4,1196.5 L735.2,1197.4 L735.9,1196.1 L736.6,1197.5 L737.3,1196.5 L738.0,1196.0 L738.8,1197.4 L739.5,1197.6 L740.2,1197.6 L740.9,1197.0 L741.6,1196.2 L742.4,1195.5 L743.1,1195.6 L743.8,1195.5 L744.5,1196.4 L745.2,1195.5 L746.0,1196.0 L746.7,1195.9 L747.4,1195.6 L748.1,1195.0 L748.8,1194.6 L749.6,1197.6 L750.3,1195.3 L751.0,1193.9 L751.7,1194.2 L752.4,1194.6 L753.2,1196.6 L753.9,1195.0 L754.6,1194.0 L755.3,1196.1 L756.0,1192.9 L756.8,1195.3 L757.5,1196.5 L758.2,1193.9 L758.9,1194.5 L759.6,1194.0 L760.4,1190.5 L761.1,1192.5 L761.8,1190.9 L762.5,1188.2 L763.2,1190.6 L764.0,1188.8 L764.7,1189.5 L765.4,1189.7 L766.1,1189.0 L766.8,1187.9 L767.6,1189.9 L768.3,1190.0 L769.0,1189.9 L769.7,1190.4 L770.4,1191.1 L771.2,1192.3 L771.9,1190.9 L772.6,1190.8 L773.3,1191.2 L774.0,1190.5 L774.8,1189.7 L775.5,1189.2 L776.2,1188.5 L776.9,1190.2 L777.6,1189.2 L778.4,1190.2 L779.1,1188.6 L779.8,1189.1 L780.5,1190.5 L781.2,1191.9 L782.0,1190.9 L782.7,1190.6 L783.4,1191.4 L784.1,1189.6 L784.8,1191.5 L785.6,1189.1 L786.3,1188.5 L787.0,1189.7 L787.7,1189.1 L788.4,1190.7 L789.2,1190.3 L789.9,1190.1 L790.6,1188.0 L791.3,1189.8 L792.0,1189.1 L792.8,1188.2 L793.5,1191.5 L794.2,1188.0 L794.9,1188.3 L795.6,1187.8 L796.4,1187.4 L797.1,1187.8 L797.8,1187.8 L798.5,1186.2 L799.2,1187.6 L800.0,1187.7 L800.7,1187.2 L801.4,1187.9 L802.1,1185.0 L802.8,1183.4 L803.6,1181.5 L804.3,1179.0 L805.0,1177.7 L805.7,1176.9 L806.4,1175.3 L807.2,1175.6 L807.9,1177.4 L808.6,1181.0 L809.3,1183.7 L810.0,1183.8 L810.8,1186.8 L811.5,1191.0 L812.2,1192.6 L812.9,1194.1 L813.6,1195.2 L814.4,1194.0 L815.1,1194.4 L815.8,1196.1 L816.5,1194.7 L817.2,1195.7 L818.0,1197.1 L818.7,1193.4 L819.4,1195.0 L820.1,1195.4 L820.8,1194.6 L821.6,1192.5 L822.3,1191.3 L823.0,1191.0 L823.7,1188.6 L824.4,1178.4 L825.2,1159.2 L825.9,1148.9 L826.6,1145.7 L827.4,1143.8 L828.0,1152.7 L828.8,1164.9 L829.5,1173.5 L830.2,1180.0 L830.9,1184.5 L831.6,1191.3 L832.4,1194.0 L833.1,1196.6 L833.8,1197.0 L834.5,1197.7 L835.2,1197.2 L836.0,1195.4 L836.7,1198.0 L837.4,1195.0 L838.1,1193.8 L838.8,1194.3 L839.6,1193.5 L840.3,1190.7 L841.0,1190.4 L841.7,1190.7 L842.4,1190.4 L843.2,1189.9 L843.9,1190.3 L844.6,1191.7 L845.3,1191.3 L846.0,1193.0 L846.8,1193.1 L847.5,1192.8 L848.2,1195.0 L848.9,1195.1 L849.6,1192.7 L850.4,1193.9 L851.1,1195.1 L851.8,1193.2 L852.5,1191.9 L853.2,1192.9 L854.0,1193.0 L854.7,1192.9 L855.4,1193.6 L856.1,1193.8 L856.8,1193.6 L857.6,1191.2 L858.3,1192.1 L859.0,1193.4 L859.7,1191.9 L860.4,1191.1 L861.2,1191.6 L861.9,1193.5 L862.6,1190.2 L863.3,1190.9 L864.0,1190.8 L864.8,1190.1 L865.5,1190.6 L866.2,1190.1 L866.9,1189.3 L867.6,1189.9 L868.4,1189.7 L869.1,1189.5 L869.8,1190.0 L870.5,1190.0 L871.2,1189.9 L872.0,1189.7 L872.7,1188.0 L873.4,1189.1 L874.1,1188.6 L874.8,1187.8 L875.6,1188.5 L876.3,1188.1 L877.0,1187.9 L877.7,1188.2 L878.4,1186.6 L879.2,1187.3 L879.9,1186.4 L880.6,1186.4 L881.3,1186.1 L882.0,1186.8 L882.8,1186.4 L883.5,1186.0 L884.2,1184.2 L884.9,1185.1 L885.6,1186.1 L886.4,1185.5 L887.1,1184.8 L887.8,1184.3 L888.5,1183.4 L889.2,1184.2 L890.0,1182.5 L890.7,1183.2 L891.4,1181.6 L892.1,1181.4 L892.8,1180.3 L893.6,1181.2 L894.3,1180.1 L895.0,1180.5 L895.7,1180.5 L896.4,1180.1 L897.2,1179.1 L897.9,1179.8 L898.6,1178.3 L899.3,1178.9 L900.0,1179.6 L900.8,1178.7 L901.5,1178.7 L902.2,1178.4 L902.9,1180.0 L903.6,1176.3 L904.4,1176.6 L905.1,1178.6 L905.8,1176.1 L906.5,1177.0 L907.2,1178.2 L908.0,1175.2 L908.7,1176.4 L909.4,1177.1 L910.1,1177.4 L910.8,1175.8 L911.6,1176.8 L912.3,1176.0 L913.0,1176.6 L913.7,1175.9 L914.4,1176.7 L915.2,1176.9 L915.9,1177.1 L916.6,1176.0 L917.3,1175.7 L918.0,1176.5 L918.8,1176.9 L919.5,1176.2 L920.2,1174.8 L920.9,1175.2 L921.6,1174.8 L922.4,1173.8 L923.1,1176.0 L923.8,1173.4 L924.5,1172.7 L925.2,1172.2 L926.0,1170.5 L926.7,1170.5 L927.4,1169.8 L928.1,1169.1 L928.8,1168.9 L929.6,1166.1 L930.3,1168.4 L931.0,1167.9 L931.7,1166.9 L932.4,1166.6 L933.2,1165.2 L933.9,1166.4 L934.6,1166.9 L935.3,1166.6 L936.0,1166.4 L936.8,1165.9 L937.5,1167.2 L938.2,1167.3 L938.9,1164.9 L939.6,1167.4 L940.4,1166.5 L941.1,1165.0 L941.8,1166.1 L942.5,1166.8 L943.2,1168.4 L944.0,1166.6 L944.7,1167.8 L945.4,1166.4 L946.1,1166.5 L946.8,1167.6 L947.6,1165.5 L948.3,1165.8 L949.0,1165.7 L949.7,1165.2 L950.4,1164.6 L951.2,1164.5 L951.9,1165.7 L952.6,1163.2 L953.3,1164.0 L954.0,1162.4 L954.8,1162.9 L955.5,1162.1 L956.2,1160.6 L956.9,1160.4 L957.6,1162.3 L958.4,1158.9 L959.1,1160.4 L959.8,1160.0 L960.5,1160.8 L961.2,1159.8 L962.0,1159.9 L962.7,1158.2 L963.4,1157.8 L964.1,1157.5 L964.8,1158.2 L965.6,1158.6 L966.3,1158.8 L967.0,1157.0 L967.7,1158.8 L968.4,1157.6 L969.2,1157.0 L969.9,1155.7 L970.6,1157.5 L971.3,1157.4 L972.0,1156.6 L972.8,1155.4 L973.5,1155.3 L974.2,1158.4 L974.9,1155.9 L975.6,1158.1 L976.4,1157.0 L977.1,1157.0 L977.8,1157.5 L978.5,1156.1 L979.2,1156.0 L980.0,1153.9 L980.7,1154.5 L981.4,1154.0 L982.1,1154.7 L982.8,1152.8 L983.6,1154.7 L984.3,1152.6 L985.0,1153.4 L985.7,1152.5 L986.4,1152.6 L987.2,1151.9 L987.9,1153.1 L988.6,1152.0 L989.3,1150.9 L990.0,1149.3 L990.8,1152.6 L991.5,1151.0 L992.2,1150.8 L992.9,1150.0 L993.6,1151.6 L994.4,1149.7 L995.1,1151.4 L995.8,1151.3 L996.5,1151.0 L997.2,1150.3 L998.0,1149.0 L998.7,1151.4 L999.4,1149.7 L1000.1,1150.2 L1000.8,1148.7 L1001.6,1148.9 L1002.3,1148.3 L1003.0,1149.1 L1003.7,1148.5 L1004.4,1147.2 L1005.2,1147.1 L1005.9,1147.6 L1006.6,1146.9 L1007.3,1148.2 L1008.0,1148.5 L1008.8,1147.8 L1009.5,1146.0 L1010.2,1147.9 L1010.9,1144.9 L1011.6,1145.1 L1012.4,1143.6 L1013.1,1142.2 L1013.8,1144.2 L1014.5,1141.5 L1015.2,1141.5 L1016.0,1140.5 L1016.7,1140.8 L1017.4,1141.5 L1018.1,1142.0 L1018.8,1143.5 L1019.6,1143.0 L1020.3,1144.9 L1021.0,1144.8 L1021.7,1144.1 L1022.4,1144.2 L1023.2,1145.3 L1023.9,1144.7 L1024.6,1145.2 L1025.3,1144.0 L1026.0,1144.1 L1026.8,1146.0 L1027.5,1145.0 L1028.2,1146.0 L1028.9,1146.3 L1029.6,1144.8 L1030.4,1143.9 L1031.1,1145.3 L1031.8,1144.3 L1032.5,1142.8 L1033.2,1144.2 L1034.0,1141.9 L1034.7,1142.9 L1035.4,1144.2 L1036.1,1144.3 L1036.8,1145.2 L1037.6,1144.4 L1038.3,1145.8 L1039.0,1145.3 L1039.7,1144.0 L1040.4,1144.1 L1041.2,1144.5 L1041.9,1146.3 L1042.6,1145.3 L1043.3,1145.1 L1044.0,1144.8 L1044.8,1142.9 L1045.5,1144.2 L1046.2,1143.8 L1046.9,1143.1 L1047.6,1144.5 L1048.4,1144.3 L1049.1,1144.2 L1049.8,1143.1 L1050.5,1141.3 L1051.2,1142.7 L1052.0,1140.8 L1052.7,1142.1 L1053.4,1142.5 L1054.1,1143.1 L1054.8,1143.0 L1055.6,1144.4 L1056.3,1144.2 L1057.0,1144.5 L1057.7,1144.8 L1058.4,1145.5 L1059.2,1145.4 L1059.9,1147.0 L1060.6,1146.0 L1061.3,1146.5 L1062.0,1147.7 L1062.8,1147.8 L1063.5,1147.8 L1064.2,1147.7 L1064.9,1147.4 L1065.6,1148.1 L1066.4,1149.3 L1067.1,1150.3 L1067.8,1148.2 L1068.5,1149.9 L1069.2,1150.0 L1070.0,1148.3 L1070.7,1150.5 L1071.4,1149.2 L1072.1,1148.8 L1072.8,1150.5 L1073.6,1149.9 L1074.3,1149.5 L1075.0,1148.7 L1075.7,1147.2 L1076.4,1146.8 L1077.2,1144.8 L1077.9,1146.1 L1078.6,1144.5 L1079.3,1142.2 L1080.0,1139.9 L1080.8,1135.3 L1081.5,1128.0 L1082.2,1121.4 L1082.9,1118.3 L1083.6,1115.6 L1084.6,1113.8 L1085.1,1117.0 L1085.8,1124.1 L1086.5,1128.9 L1087.2,1134.5 L1088.0,1142.5 L1088.7,1152.8 L1089.4,1160.0 L1090.1,1164.9 L1090.8,1168.3 L1091.6,1169.2 L1092.3,1173.9 L1093.0,1175.5 L1093.7,1176.8 L1094.4,1176.8 L1095.2,1179.0 L1095.9,1179.2 L1096.6,1179.5 L1097.3,1180.0 L1098.0,1181.5 L1098.8,1181.1 L1099.5,1181.2 L1100.2,1179.9 L1100.9,1180.4 L1101.6,1178.3 L1102.4,1178.1 L1103.1,1175.3 L1103.8,1175.6 L1104.5,1173.5 L1105.2,1170.2 L1106.0,1162.6 L1106.7,1153.9 L1107.4,1144.8 L1108.1,1132.9 L1108.8,1123.6 L1109.5,1117.9 L1110.3,1125.7 L1111.0,1132.0 L1111.7,1139.5 L1112.4,1149.4 L1113.2,1155.0 L1113.9,1164.5 L1114.6,1175.1 L1115.3,1185.3 L1116.0,1190.3 L1116.8,1195.6 L1117.5,1196.0 L1118.2,1197.5 L1118.9,1197.1 L1119.6,1198.6 L1120.4,1198.5 L1121.1,1198.5 L1121.8,1199.2 L1122.5,1199.0 L1123.2,1199.5 L1124.0,1200.7 L1124.7,1201.0 L1125.4,1201.3 L1126.1,1201.7 L1126.8,1201.7 L1127.6,1203.4 L1128.3,1203.3 L1129.0,1205.5 L1129.7,1206.1 L1130.4,1206.5 L1131.2,1207.8 L1131.9,1208.8 L1132.6,1211.0 L1133.3,1211.2 L1134.0,1210.7 L1134.8,1213.2 L1135.5,1213.1 L1136.2,1213.3 L1136.9,1211.8 L1137.6,1212.3 L1138.4,1210.4 L1139.1,1209.4 L1139.8,1210.2 L1140.5,1210.0 L1141.2,1209.8 L1142.0,1208.3 L1142.7,1208.0 L1143.4,1210.0 L1144.1,1210.8 L1144.8,1208.5 L1145.6,1209.5 L1146.3,1208.6 L1147.0,1208.4 L1147.7,1206.5 L1148.4,1207.0 L1149.2,1207.2 L1149.9,1206.6 L1150.6,1206.0 L1151.3,1205.2 L1152.0,1203.6 L1152.8,1204.8 L1153.6,1204.3 L1154.2,1205.0 L1154.9,1205.3 L1155.6,1207.7 L1156.4,1209.9 L1157.1,1210.0 L1157.8,1210.0 L1158.5,1211.0 L1159.2,1210.8 L1160.0,1211.2 L1160.7,1210.2 L1161.4,1212.1 L1162.1,1212.1 L1162.8,1213.1 L1163.6,1215.4 L1164.3,1216.0 L1165.0,1217.5 L1165.7,1219.0 L1166.4,1217.9 L1167.0,1218.6 L1167.9,1218.4 L1168.6,1217.5 L1169.3,1217.2 L1170.0,1217.7 L1170.8,1217.2 L1171.5,1218.4 L1172.2,1218.0 L1172.9,1216.9 L1173.6,1215.1 L1174.4,1215.6 L1175.1,1214.4 L1175.8,1212.4 L1176.5,1210.3 L1177.2,1206.6 L1178.0,1202.6 L1178.7,1196.5 L1179.4,1157.9 L1180.1,1122.1 L1180.8,1093.5 L1181.6,1067.5 L1182.0,1053.6 L1182.3,1068.5 L1183.0,1099.5 L1183.7,1134.3 L1184.4,1164.8 L1185.2,1201.5 L1185.9,1216.6 L1186.6,1220.8 L1187.3,1221.6 L1188.0,1225.6 L1188.4,1224.6 L1188.8,1225.0 L1189.5,1222.1 L1190.2,1223.6 L1190.9,1222.4 L1191.6,1220.3 L1192.4,1219.6 L1193.1,1216.2 L1193.8,1213.5 L1194.5,1212.2 L1195.2,1209.9 L1195.6,1209.8 L1196.0,1211.1 L1196.7,1210.1 L1197.4,1212.0 L1198.1,1212.6 L1198.8,1214.9 L1199.6,1215.3 L1200.3,1215.3 L1201.0,1217.8 L1201.7,1218.6 L1202.4,1219.7 L1203.2,1221.0 L1203.9,1220.7 L1204.6,1221.1 L1205.3,1221.3 L1206.0,1220.5 L1206.8,1221.3 L1207.5,1220.7 L1208.2,1220.1 L1208.9,1221.5 L1209.6,1221.5 L1210.4,1221.4 L1211.1,1219.9 L1211.8,1221.9 L1212.5,1221.4 L1213.2,1219.9 L1214.0,1220.9 L1214.7,1220.8 L1215.4,1220.2 L1216.1,1220.1 L1216.8,1219.0 L1217.6,1221.0 L1218.3,1219.6 L1219.0,1220.1 L1219.7,1221.0 L1220.4,1221.8 L1221.2,1219.3 L1221.9,1218.5 L1222.6,1218.6 L1223.3,1219.3 L1224.0,1218.6 L1224.8,1217.7 L1225.5,1217.3 L1226.2,1217.2 L1226.9,1217.9 L1227.6,1217.1 L1228.4,1218.8 L1229.1,1218.4 L1229.8,1219.2 L1230.5,1218.2 L1231.2,1218.2 L1232.0,1218.2 L1232.7,1218.0 L1233.4,1218.7 L1234.1,1217.3 L1234.8,1218.5 L1235.6,1216.1 L1236.3,1217.7 L1237.0,1216.9 L1237.7,1217.2 L1238.4,1217.2 L1239.2,1218.3 L1239.9,1216.2 L1240.6,1215.4 L1241.3,1215.9 L1242.0,1214.9 L1242.8,1215.8 L1243.5,1214.3 L1244.2,1215.1 L1244.9,1215.5 L1245.6,1214.5 L1246.4,1215.4 L1247.1,1214.7 L1247.8,1213.4 L1248.5,1214.2 L1249.2,1215.6 L1250.0,1213.6 L1250.7,1213.8 L1251.4,1214.9 L1252.1,1215.9 L1252.8,1213.7 L1253.6,1215.4 L1254.3,1214.2 L1255.0,1214.5 L1255.7,1215.3 L1256.4,1212.8 L1257.2,1213.7 L1257.9,1215.2 L1258.6,1215.1 L1259.3,1212.3 L1260.0,1212.3 L1260.8,1211.8 L1261.5,1211.4 L1262.2,1211.7 L1262.9,1210.1 L1263.6,1211.1 L1264.4,1211.3 L1265.1,1209.5 L1265.8,1210.7 L1266.5,1211.2 L1267.2,1213.1 L1268.0,1210.2 L1268.7,1210.4 L1269.4,1211.8 L1270.1,1210.7 L1270.8,1210.4 L1271.6,1209.6 L1272.3,1209.5 L1273.0,1210.6 L1273.7,1209.8 L1274.4,1209.0 L1275.2,1208.7 L1275.9,1208.8 L1276.6,1208.1 L1277.3,1208.3 L1278.0,1208.3 L1278.8,1206.4 L1279.5,1208.8 L1280.2,1206.9 L1280.9,1206.4 L1281.6,1207.9 L1282.4,1207.3 L1283.1,1207.5 L1283.8,1208.3 L1284.5,1207.8 L1285.2,1206.1 L1286.0,1205.8 L1286.7,1205.4 L1287.4,1206.0 L1288.1,1207.2 L1288.8,1205.3 L1289.6,1205.8 L1290.3,1204.9 L1291.0,1206.6 L1291.7,1206.8 L1292.4,1206.3 L1293.2,1205.0 L1293.9,1206.2 L1294.6,1205.2 L1295.3,1206.1 L1296.0,1204.9 L1296.8,1204.1 L1297.5,1204.4 L1298.2,1204.5 L1298.9,1203.3 L1299.6,1203.1 L1300.4,1203.4 L1301.1,1201.9 L1301.8,1202.6 L1302.5,1202.6 L1303.2,1202.3 L1304.0,1202.6 L1304.7,1202.6 L1305.4,1201.6 L1306.1,1203.4 L1306.8,1202.7 L1307.6,1200.7 L1308.3,1201.5 L1309.0,1201.4 L1309.7,1201.1 L1310.4,1202.2 L1311.2,1200.9 L1311.9,1200.0 L1312.6,1199.9 L1313.3,1200.7 L1314.0,1199.4 L1314.8,1200.0 L1315.5,1198.7 L1316.2,1201.2 L1316.9,1198.6 L1317.6,1198.6 L1318.4,1200.0 L1319.1,1197.9 L1319.8,1198.7 L1320.5,1199.9 L1321.2,1197.5 L1322.0,1197.3 L1322.7,1197.2 L1323.4,1195.9 L1324.1,1197.1 L1324.8,1197.7 L1325.6,1196.5 L1326.3,1196.6 L1327.0,1196.7 L1327.7,1195.9 L1328.4,1195.8 L1329.2,1197.6 L1329.9,1196.6 L1330.6,1195.3 L1331.3,1196.2 L1332.0,1195.7 L1332.8,1193.6 L1333.5,1193.3 L1334.2,1194.7 L1334.9,1195.6 L1335.6,1194.8 L1336.4,1194.3 L1337.1,1193.2 L1337.8,1193.7 L1338.5,1192.5 L1339.2,1193.0 L1340.0,1192.7 L1340.7,1192.0 L1341.4,1192.3 L1342.1,1193.1 L1342.8,1192.3 L1343.6,1192.0 L1344.3,1192.1 L1345.0,1191.4 L1345.7,1190.7 L1346.4,1190.1 L1347.2,1192.0 L1347.9,1192.0 L1348.6,1191.3 L1349.3,1192.9 L1350.0,1191.5 L1350.8,1192.0 L1351.5,1192.8 L1352.2,1190.7 L1352.9,1191.2 L1353.6,1190.2 L1354.4,1189.8 L1355.1,1188.7 L1355.8,1188.1 L1356.5,1186.2 L1357.2,1186.6 L1358.0,1186.1 L1358.7,1186.5 L1359.4,1186.9 L1360.1,1189.6 L1360.8,1190.9 L1361.6,1191.8 L1362.3,1192.3 L1363.0,1191.0 L1363.7,1191.4 L1364.4,1191.9 L1365.2,1190.5 L1365.9,1190.7 L1366.6,1189.9 L1367.3,1190.3 L1368.0,1189.1 L1368.8,1188.5 L1369.5,1187.9 L1370.2,1186.8 L1370.9,1186.7 L1371.6,1185.1 L1372.4,1186.1 L1373.1,1186.0 L1373.8,1188.2 L1374.5,1185.9 L1375.2,1186.4 L1376.0,1186.4 L1376.7,1186.9 L1377.4,1186.6 L1378.1,1185.9 L1378.8,1185.3 L1379.6,1185.7 L1380.3,1186.5 L1381.0,1187.7 L1381.7,1186.1 L1382.4,1185.7 L1383.2,1186.8 L1383.9,1185.8 L1384.6,1187.0 L1385.3,1187.1 L1386.0,1187.7 L1386.8,1188.0 L1387.5,1186.5 L1388.2,1186.8 L1388.9,1186.8 L1389.6,1186.3 L1390.4,1185.2 L1391.1,1185.1 L1391.8,1186.3 L1392.5,1184.5 L1393.2,1185.6 L1394.0,1184.8 L1394.7,1184.0 L1395.4,1185.3 L1396.1,1184.8 L1396.8,1187.0 L1397.6,1185.6 L1398.3,1186.9 L1399.0,1186.6 L1399.7,1188.4 L1400.4,1187.8 L1401.2,1188.0 L1401.9,1188.5 L1402.6,1189.2 L1403.3,1189.7 L1404.0,1190.3 L1404.8,1188.3 L1405.5,1189.0 L1406.2,1190.6 L1406.9,1190.6 L1407.6,1189.8 L1408.4,1190.6 L1409.1,1188.2 L1409.8,1189.5 L1410.5,1189.8 L1411.2,1187.1 L1412.0,1188.2 L1412.7,1188.3 L1413.4,1187.6 L1414.1,1189.2 L1414.8,1188.4 L1415.6,1185.9 L1416.3,1186.9 L1417.0,1187.0 L1417.7,1186.8 L1418.4,1187.7 L1419.2,1187.2 L1419.9,1187.2 L1420.6,1186.0 L1421.3,1187.7 L1422.0,1185.3 L1422.8,1186.5 L1423.5,1185.7 L1424.2,1187.1 L1424.9,1184.8 L1425.6,1183.7 L1426.4,1182.8 L1427.1,1181.0 L1427.8,1180.6 L1428.5,1180.4 L1429.2,1180.0 L1430.0,1177.4 L1430.7,1177.2 L1431.4,1178.7 L1432.1,1178.6 L1432.8,1176.3 L1433.3,1177.9 L1434.3,1178.6 L1435.0,1180.8 L1435.7,1183.3 L1436.4,1186.6 L1437.2,1191.2 L1437.9,1188.7 L1438.6,1192.4 L1439.3,1195.1 L1440.0,1198.6 L1440.8,1199.6 L1441.5,1200.2 L1442.2,1202.8 L1442.9,1208.9 L1443.6,1207.4 L1444.4,1213.8 L1445.1,1214.3 L1445.8,1216.4 L1446.5,1219.8 L1447.2,1221.9 L1448.0,1223.9 L1448.7,1227.3 L1449.4,1229.6 L1450.1,1232.9 L1450.8,1235.6 L1451.6,1238.8 L1452.3,1241.1 L1453.0,1244.8 L1453.7,1245.2 L1454.4,1246.1 L1455.2,1246.9 L1455.9,1246.5 L1456.6,1247.8 L1457.3,1246.6 L1458.2,1248.3 L1458.8,1247.5 L1459.5,1244.9 L1460.2,1242.3 L1460.9,1237.5 L1461.6,1234.5 L1462.4,1227.3 L1463.1,1196.9 L1463.8,1127.9 L1464.5,1066.1 L1465.5,1024.0 L1466.0,1042.7 L1466.7,1094.2 L1467.4,1148.8 L1468.0,1172.0 L1468.8,1136.9 L1469.6,1082.7 L1470.3,1040.3 L1471.1,983.6 L1471.7,1062.3 L1472.4,1218.8 L1473.2,1275.7 L1473.9,1291.1 L1474.6,1293.9 L1475.3,1298.6 L1476.0,1296.5 L1476.8,1298.9 L1477.5,1299.2 L1478.2,1298.5 L1478.9,1297.2 L1479.6,1295.7 L1480.4,1292.2 L1481.1,1291.4 L1481.8,1290.0 L1482.5,1289.3 L1483.2,1288.8 L1484.0,1288.0 L1484.7,1287.8 L1485.4,1286.5 L1485.8,1287.7 L1486.8,1309.8 L1487.6,1315.7 L1488.3,1319.3 L1489.0,1318.1 L1489.7,1318.4 L1490.4,1321.8 L1491.2,1318.8 L1491.9,1321.1 L1492.6,1320.4 L1493.3,1319.8 L1494.0,1320.4 L1494.8,1321.0 L1495.5,1319.7 L1496.2,1321.7 L1496.9,1320.3 L1497.6,1321.3 L1498.4,1320.5 L1499.1,1320.9 L1499.8,1321.3 L1500.5,1319.4 L1501.2,1319.0 L1502.0,1318.8 L1502.7,1319.0 L1503.4,1318.5 L1504.1,1318.6 L1504.8,1316.9 L1505.6,1316.3 L1506.3,1312.6 L1507.0,1314.0 L1507.7,1313.2 L1508.4,1311.7 L1509.2,1313.4 L1509.9,1311.5 L1510.6,1312.6 L1511.3,1314.8 L1512.0,1315.4 L1512.8,1317.9 L1513.5,1320.8 L1514.2,1326.0 L1514.9,1324.4 L1515.6,1327.0 L1516.4,1326.5 L1517.1,1325.3 L1517.8,1327.2 L1518.5,1327.2 L1519.2,1327.8 L1520.0,1327.8 L1520.7,1327.7 L1521.4,1327.8 L1522.1,1328.4 L1522.8,1328.7 L1523.6,1329.6 L1524.3,1328.4 L1525.0,1327.7 L1525.7,1330.4 L1526.4,1330.1 L1527.2,1330.3 L1527.9,1330.1 L1528.6,1331.1 L1529.3,1332.8 L1530.0,1331.7 L1530.8,1334.5 L1531.5,1334.4 L1532.2,1333.5 L1532.9,1332.6 L1533.6,1332.7 L1534.4,1332.8 L1535.1,1332.0 L1535.8,1333.4 L1536.5,1332.9 L1537.2,1333.5 L1538.0,1332.9 L1538.7,1332.7 L1539.4,1333.4 L1540.1,1333.7 L1540.8,1332.2 L1541.6,1331.1 L1542.3,1331.9 L1543.0,1331.5 L1543.7,1333.0 L1544.4,1334.6 L1545.2,1331.6 L1545.9,1333.7 L1546.6,1332.5 L1547.3,1332.3 L1548.0,1330.4 L1548.8,1331.3 L1549.5,1331.4 L1550.2,1330.7 L1550.9,1331.5 L1551.6,1330.9 L1552.4,1331.5 L1553.1,1333.4 L1553.8,1333.6 L1554.5,1331.2 L1555.2,1333.4 L1556.0,1332.8 L1556.7,1333.3 L1557.4,1332.8 L1558.1,1333.6 L1558.8,1335.9 L1559.6,1336.5 L1560.3,1337.9 L1561.0,1335.1 L1561.7,1335.5 L1562.4,1335.6 L1563.2,1335.4 L1563.9,1334.9 L1564.6,1336.5 L1565.3,1335.9 L1566.0,1336.5 L1566.8,1336.8 L1567.5,1335.9 L1568.2,1337.1 L1568.9,1336.4 L1569.6,1338.8 L1570.4,1339.8 L1571.1,1340.2 L1571.8,1340.3 L1572.5,1341.9 L1573.2,1343.1 L1574.0,1343.0 L1574.7,1341.8 L1575.4,1342.3 L1576.1,1342.4 L1576.8,1342.7 L1577.6,1341.7 L1578.3,1340.3 L1579.0,1342.6 L1579.7,1341.4 L1580.4,1335.6 L1581.2,1334.7 L1581.9,1327.9 L1582.6,1317.9 L1583.3,1317.4 L1584.0,1314.4 L1584.7,1313.6 L1585.5,1317.8 L1586.2,1323.2 L1586.9,1331.0 L1587.6,1339.4 L1588.4,1345.1 L1589.1,1349.6 L1589.8,1352.3 L1590.5,1352.2 L1591.2,1352.9 L1592.0,1353.7 L1592.7,1352.0 L1593.4,1352.4 L1594.1,1351.0 L1594.8,1352.5 L1595.6,1352.2 L1596.3,1351.8 L1597.0,1351.1 L1597.7,1351.5 L1598.4,1351.2 L1599.2,1352.4 L1599.9,1351.9 L1600.6,1351.0 L1601.3,1353.2 L1602.0,1350.6 L1602.8,1353.6 L1603.5,1353.8 L1604.2,1353.2 L1604.9,1354.5 L1605.6,1355.3 L1605.9,1355.8"/></g>
<g clip-path="url(#plot)"><path stroke="#0000ff" d="M156.0,1589.5 L156.7,1590.3 L157.4,1590.9 L158.2,1590.8 L158.9,1590.1 L159.6,1588.6 L160.3,1588.4 L161.0,1587.5 L161.8,1586.0 L162.5,1586.1 L163.2,1586.9 L163.9,1586.0 L164.6,1585.5 L165.4,1585.2 L166.1,1586.6 L166.8,1586.8 L167.5,1588.0 L168.2,1588.8 L169.0,1586.4 L169.7,1588.6 L170.4,1587.4 L171.1,1588.0 L171.8,1587.8 L172.6,1590.1 L173.3,1589.7 L174.0,1589.5 L174.7,1588.4 L175.4,1587.6 L176.2,1588.3 L176.9,1588.6 L177.6,1587.9 L178.3,1588.2 L179.0,1586.8 L179.8,1588.5 L180.5,1587.0 L181.2,1588.0 L181.9,1586.0 L182.6,1585.1 L183.4,1584.1 L184.1,1585.1 L184.8,1584.7 L185.5,1582.8 L186.2,1581.6 L187.0,1579.2 L187.7,1577.4 L188.4,1575.3 L189.1,1571.4 L189.8,1570.3 L190.6,1570.6 L191.3,1570.4 L192.0,1571.1 L192.7,1570.5 L193.4,1570.2 L194.1,1569.8 L194.9,1568.6 L195.6,1572.8 L196.3,1574.1 L197.0,1577.1 L197.8,1577.6 L198.5,1578.8 L199.2,1579.8 L199.9,1581.0 L200.6,1580.1 L201.4,1581.0 L202.1,1584.2 L202.8,1583.9 L203.5,1583.5 L204.2,1584.0 L205.0,1584.2 L205.7,1587.8 L206.4,1585.3 L207.1,1584.8 L207.8,1584.1 L208.6,1582.5 L209.3,1584.9 L210.0,1586.1 L210.7,1585.6 L211.4,1585.0 L212.2,1584.2 L212.9,1583.6 L213.6,1584.7 L214.3,1584.0 L215.0,1583.1 L215.8,1585.6 L216.5,1582.9 L217.2,1583.0 L217.9,1581.1 L218.6,1584.7 L219.4,1582.6 L220.1,1582.4 L220.8,1582.4 L221.5,1581.0 L222.2,1580.8 L223.0,1581.4 L223.7,1580.0 L224.4,1580.7 L225.1,1581.2 L225.8,1580.3 L226.6,1580.6 L227.3,1579.9 L228.0,1580.2 L228.7,1578.5 L229.4,1578.3 L230.2,1576.7 L230.9,1577.3 L231.6,1576.6 L232.3,1577.0 L233.0,1575.8 L233.8,1576.9 L234.5,1578.7 L235.2,1575.2 L235.9,1576.1 L236.6,1575.7 L237.4,1574.0 L238.1,1574.0 L238.8,1573.5 L239.5,1574.1 L240.2,1572.9 L241.0,1575.8 L241.7,1574.0 L242.4,1574.2 L243.1,1575.0 L243.8,1574.2 L244.6,1572.7 L245.3,1573.0 L246.0,1572.5 L246.7,1572.6 L247.4,1573.0 L248.2,1570.0 L248.9,1570.0 L249.6,1571.0 L250.3,1571.5 L251.0,1570.3 L251.8,1570.3 L252.5,1571.2 L253.2,1570.5 L253.9,1569.4 L254.6,1568.9 L255.4,1567.4 L256.1,1568.8 L256.8,1568.0 L257.5,1566.5 L258.2,1567.1 L259.0,1565.4 L259.7,1564.8 L260.4,1563.1 L261.1,1565.5 L261.8,1564.0 L262.6,1565.0 L263.3,1565.0 L264.0,1564.4 L264.7,1564.9 L265.4,1564.8 L266.2,1564.8 L266.9,1565.2 L267.6,1564.3 L268.3,1565.5 L269.0,1564.8 L269.8,1563.5 L270.5,1564.8 L271.2,1563.9 L271.9,1564.5 L272.6,1561.7 L273.4,1564.0 L274.1,1561.3 L274.8,1562.8 L275.5,1565.9 L276.2,1563.3 L277.0,1563.4 L277.7,1561.4 L278.4,1560.8 L279.1,1561.6 L279.8,1561.8 L280.6,1561.1 L281.3,1560.3 L282.0,1559.8 L282.7,1560.1 L283.4,1561.7 L284.2,1560.0 L284.9,1559.4 L285.6,1559.3 L286.3,1558.5 L287.0,1557.9 L287.8,1559.0 L288.5,1559.9 L289.2,1558.7 L289.9,1556.3 L290.6,1558.4 L291.4,1556.5 L292.1,1557.3 L292.8,1554.9 L293.5,1553.4 L294.2,1554.8 L295.0,1554.3 L295.7,1553.4 L296.4,1553.6 L297.1,1553.9 L297.8,1553.4 L298.6,1554.7 L299.3,1554.3 L300.0,1553.4 L300.7,1553.3 L301.4,1554.3 L302.2,1553.7 L302.9,1552.0 L303.6,1553.2 L304.3,1554.4 L305.0,1552.8 L305.8,1551.4 L306.5,1553.4 L307.2,1554.1 L307.9,1551.6 L308.6,1549.1 L309.4,1549.6 L310.1,1552.6 L310.8,1550.4 L311.5,1551.0 L312.2,1550.6 L313.0,1550.0 L313.7,1551.4 L314.4,1550.0 L315.1,1550.8 L315.8,1551.5 L316.6,1552.5 L317.3,1556.1 L318.0,1555.2 L318.7,1557.3 L319.4,1560.4 L320.2,1558.9 L320.9,1560.9 L321.6,1560.2 L322.3,1562.3 L323.0,1561.4 L323.8,1562.0 L324.5,1560.5 L325.2,1560.9 L325.9,1558.7 L326.6,1561.5 L327.4,1561.0 L328.1,1560.5 L328.8,1560.4 L329.5,1559.9 L330.2,1560.1 L331.0,1561.9 L331.7,1559.4 L332.4,1559.4 L333.1,1560.3 L333.8,1559.7 L334.6,1558.5 L335.3,1560.0 L336.0,1559.2 L336.7,1556.7 L337.4,1558.4 L338.2,1555.4 L338.9,1558.4 L339.6,1555.7 L340.3,1557.8 L341.0,1557.5 L341.8,1557.2 L342.5,1558.0 L343.2,1556.1 L343.9,1555.8 L344.6,1555.0 L345.4,1557.0 L346.1,1554.6 L346.8,1555.2 L347.5,1554.5 L348.2,1555.5 L349.0,1553.5 L349.7,1553.5 L350.4,1553.7 L351.1,1554.4 L351.8,1553.3 L352.6,1554.3 L353.3,1554.1 L354.0,1554.0 L354.7,1552.8 L355.4,1553.0 L356.2,1550.8 L356.9,1550.3 L357.6,1549.9 L358.3,1549.6 L359.0,1548.8 L359.8,1550.2 L360.5,1549.7 L361.2,1547.4 L361.9,1549.1 L362.6,1548.3 L363.4,1547.8 L364.1,1548.2 L364.8,1549.4 L365.5,1548.1 L366.2,1545.9 L367.0,1547.8 L367.7,1546.4 L368.4,1548.5 L369.1,1546.1 L369.8,1546.0 L370.6,1545.5 L371.3,1544.5 L372.0,1544.5 L372.7,1544.5 L373.4,1546.5 L374.2,1544.3 L374.9,1544.6 L375.6,1544.0 L376.3,1544.0 L377.0,1544.0 L377.8,1544.9 L378.5,1540.7 L379.2,1543.0 L379.9,1542.9 L380.6,1544.8 L381.4,1543.6 L382.1,1545.6 L382.8,1546.1 L383.5,1544.8 L384.2,1545.9 L385.0,1545.0 L385.7,1546.2 L386.4,1545.9 L387.1,1546.6 L387.8,1546.2 L388.6,1544.5 L389.3,1546.8 L390.0,1545.5 L390.7,1546.5 L391.4,1545.9 L392.2,1547.3 L392.9,1546.0 L393.6,1549.2 L394.3,1548.3 L395.0,1551.7 L395.8,1555.1 L396.5,1555.4 L397.2,1559.4 L397.9,1560.8 L398.6,1562.2 L399.4,1561.4 L400.1,1560.7 L400.8,1560.6 L401.5,1560.9 L402.2,1561.9 L403.0,1561.6 L403.7,1562.3 L404.4,1563.2 L405.1,1561.5 L405.8,1561.3 L406.6,1562.1 L407.3,1562.2 L408.0,1559.7 L408.7,1561.1 L409.4,1561.8 L410.2,1562.3 L410.9,1561.3 L411.6,1560.8 L412.3,1563.7 L413.0,1558.8 L413.8,1563.1 L414.5,1561.1 L415.2,1561.3 L415.9,1561.6 L416.6,1561.9 L417.4,1560.7 L418.1,1560.2 L418.8,1561.7 L419.5,1562.6 L420.2,1561.0 L421.0,1563.0 L421.7,1559.0 L422.4,1560.0 L423.1,1558.8 L423.8,1558.8 L424.6,1555.9 L425.3,1556.8 L426.0,1555.4 L426.7,1552.9 L427.4,1554.3 L428.2,1553.4 L428.9,1554.5 L429.6,1555.6 L430.3,1555.1 L431.0,1557.1 L431.8,1556.2 L432.5,1555.1 L433.2,1555.4 L433.9,1556.1 L434.6,1554.9 L435.4,1556.1 L436.1,1556.0 L436.8,1556.1 L437.5,1555.2 L438.2,1555.0 L439.0,1553.5 L439.7,1554.6 L440.4,1553.9 L441.1,1553.8 L441.8,1553.5 L442.6,1552.0 L443.3,1551.7 L444.0,1550.8 L444.7,1549.9 L445.4,1548.8 L446.2,1549.3 L446.9,1550.6 L447.6,1548.1 L448.3,1550.8 L449.0,1551.3 L449.8,1551.8 L450.5,1550.9 L451.2,1551.1 L451.9,1552.6 L452.5,1551.6 L453.4,1552.5 L454.1,1549.2 L454.8,1547.4 L455.5,1547.0 L456.2,1544.2 L457.0,1543.3 L457.7,1543.6 L458.4,1542.1 L459.1,1540.1 L459.8,1540.2 L460.6,1538.8 L461.3,1539.2 L462.0,1538.0 L462.7,1536.4 L463.4,1538.3 L464.2,1536.3 L464.9,1536.1 L465.6,1535.2 L466.3,1535.5 L467.0,1535.0 L467.8,1535.7 L468.5,1535.6 L469.2,1536.8 L469.9,1537.7 L470.6,1538.1 L471.4,1539.4 L472.1,1541.2 L472.8,1545.1 L473.5,1545.1 L474.2,1547.9 L475.0,1546.7 L475.7,1546.6 L476.4,1546.9 L477.1,1548.5 L477.8,1546.9 L478.6,1546.5 L479.3,1545.8 L480.0,1545.0 L480.7,1545.5 L481.4,1547.0 L482.2,1545.9 L482.9,1544.3 L483.6,1542.4 L484.3,1545.6 L485.0,1544.9 L485.8,1542.7 L486.5,1544.6 L487.2,1543.9 L487.9,1546.1 L488.6,1545.9 L489.4,1544.9 L490.1,1543.6 L490.8,1545.7 L491.5,1548.7 L492.2,1547.1 L493.0,1546.4 L493.7,1548.0 L494.4,1546.8 L495.1,1548.5 L495.8,1544.5 L496.6,1544.5 L497.3,1545.0 L498.0,1543.5 L498.7,1542.2 L499.4,1540.3 L500.2,1542.1 L500.9,1543.4 L501.6,1543.1 L502.3,1544.2 L503.0,1545.5 L503.8,1544.4 L504.5,1545.1 L505.2,1543.9 L505.9,1542.6 L506.6,1541.7 L507.4,1541.9 L508.1,1541.2 L508.8,1542.6 L509.5,1541.3 L510.2,1538.9 L511.0,1541.7 L511.7,1542.2 L512.4,1539.0 L513.1,1539.7 L513.8,1538.8 L514.6,1539.6 L515.3,1538.9 L516.0,1539.2 L516.7,1538.7 L517.4,1538.1 L518.2,1538.4 L518.9,1537.9 L519.6,1538.0 L520.3,1538.0 L521.0,1540.4 L521.8,1537.9 L522.5,1538.1 L523.2,1534.1 L523.9,1534.7 L524.6,1535.7 L525.4,1535.8 L526.1,1535.0 L526.8,1534.1 L527.5,1533.1 L528.2,1534.9 L529.0,1533.3 L529.7,1535.4 L530.4,1534.9 L531.1,1535.0 L531.8,1534.9 L532.6,1533.7 L533.3,1532.9 L534.0,1533.3 L534.7,1531.1 L535.4,1530.0 L536.2,1531.1 L536.9,1530.5 L537.6,1530.1 L538.3,1528.2 L539.0,1530.6 L539.8,1530.0 L540.5,1528.4 L541.2,1528.6 L541.9,1529.9 L542.6,1530.0 L543.4,1528.3 L544.1,1527.4 L544.8,1529.3 L545.5,1527.2 L546.2,1527.1 L547.0,1524.5 L547.7,1522.2 L548.4,1520.0 L549.1,1519.7 L549.8,1515.9 L550.6,1514.6 L551.3,1512.2 L552.0,1513.4 L552.8,1510.8 L553.4,1511.8 L554.2,1517.1 L554.9,1519.8 L555.6,1525.1 L556.3,1527.7 L557.0,1532.6 L557.8,1535.1 L558.5,1537.7 L559.2,1536.5 L559.9,1537.2 L560.6,1536.6 L561.4,1538.7 L562.1,1537.4 L562.8,1538.9 L563.5,1538.7 L564.2,1533.8 L565.0,1533.3 L565.7,1533.1 L566.4,1527.6 L567.1,1524.7 L567.8,1522.7 L568.6,1517.1 L569.3,1510.6 L570.0,1509.0 L570.7,1506.2 L571.5,1505.3 L572.2,1510.4 L572.9,1521.9 L573.6,1536.6 L574.3,1549.6 L575.0,1560.2 L575.8,1565.9 L576.5,1572.0 L577.2,1573.3 L577.9,1574.5 L578.6,1576.0 L579.4,1577.4 L580.1,1576.5 L580.8,1576.2 L581.5,1576.3 L582.2,1576.3 L583.0,1575.7 L583.7,1576.1 L584.4,1574.2 L585.1,1575.9 L585.8,1577.0 L586.6,1576.6 L587.3,1578.3 L588.0,1578.9 L588.7,1577.8 L589.4,1577.5 L590.2,1579.4 L590.9,1578.8 L591.6,1581.4 L592.3,1580.9 L593.0,1582.0 L593.8,1581.1 L594.5,1580.4 L595.2,1582.1 L595.9,1579.7 L596.6,1579.2 L597.4,1578.6 L598.1,1577.5 L598.8,1577.5 L599.5,1576.5 L600.2,1577.8 L601.0,1578.1 L601.7,1576.9 L602.4,1576.2 L603.1,1577.4 L603.8,1578.4 L604.6,1578.5 L605.3,1578.2 L606.0,1577.1 L606.7,1578.3 L607.4,1577.8 L608.2,1578.7 L608.9,1578.4 L609.6,1576.9 L610.3,1577.9 L611.0,1577.8 L611.8,1578.5 L612.5,1579.0 L613.2,1575.7 L613.9,1576.4 L614.6,1576.1 L615.4,1575.9 L616.1,1575.9 L616.8,1577.5 L617.5,1576.3 L618.2,1575.1 L619.0,1575.2 L619.7,1574.4 L620.4,1573.3 L621.1,1573.4 L621.8,1573.6 L622.6,1573.8 L623.3,1571.5 L624.0,1572.3 L624.7,1572.2 L625.4,1572.0 L626.2,1571.1 L626.9,1570.8 L627.6,1569.6 L628.3,1569.9 L629.0,1570.2 L629.8,1570.0 L630.5,1571.1 L631.2,1570.4 L631.9,1570.3 L632.6,1570.0 L633.4,1570.7 L634.1,1569.1 L634.8,1571.7 L635.5,1568.7 L636.2,1569.1 L637.0,1569.3 L637.7,1569.0 L638.4,1569.2 L639.1,1566.6 L639.8,1568.2 L640.6,1566.8 L641.3,1569.0 L642.0,1565.6 L642.7,1567.1 L643.4,1567.6 L644.2,1566.8 L644.9,1566.9 L645.6,1566.6 L646.3,1566.8 L647.0,1567.2 L647.8,1566.2 L648.5,1567.1 L649.2,1566.1 L649.9,1566.9 L650.6,1564.8 L651.4,1567.5 L652.1,1566.5 L652.8,1566.6 L653.5,1567.6 L654.2,1565.3 L655.0,1565.1 L655.7,1563.5 L656.4,1566.8 L657.1,1565.9 L657.8,1566.9 L658.6,1564.6 L659.3,1564.4 L660.0,1563.6 L660.7,1563.5 L661.4,1563.2 L662.2,1562.1 L662.9,1561.6 L663.6,1561.7 L664.3,1560.7 L665.0,1562.8 L665.8,1560.5 L666.5,1560.7 L667.2,1560.5 L667.9,1559.5 L668.6,1561.0 L669.4,1559.6 L670.1,1560.0 L670.8,1558.0 L671.5,1559.2 L672.2,1558.6 L673.0,1562.4 L673.7,1561.1 L674.4,1562.2 L675.1,1562.7 L675.8,1560.1 L676.6,1561.9 L677.3,1560.8 L678.0,1561.1 L678.7,1560.8 L679.4,1560.9 L680.2,1560.0 L680.9,1558.5 L681.6,1558.8 L682.3,1559.2 L683.0,1558.9 L683.8,1557.8 L684.5,1558.0 L685.2,1558.5 L685.9,1559.4 L686.6,1558.3 L687.4,1557.5 L688.1,1558.2 L688.8,1557.0 L689.5,1558.3 L690.2,1556.6 L691.0,1558.7 L691.7,1557.3 L692.4,1559.2 L693.1,1557.9 L693.8,1557.8 L694.6,1558.5 L695.3,1558.1 L696.0,1558.4 L696.7,1560.2 L697.4,1558.6 L698.2,1557.9 L698.9,1554.6 L699.6,1556.8 L700.3,1555.5 L701.0,1554.0 L701.8,1552.7 L702.5,1552.4 L703.2,1553.0 L703.9,1553.7 L704.6,1554.0 L705.4,1554.1 L706.1,1554.1 L706.8,1553.9 L707.5,1553.6 L708.2,1552.6 L709.0,1556.0 L709.7,1555.0 L710.4,1555.3 L711.1,1554.4 L711.8,1553.4 L712.6,1556.2 L713.3,1554.0 L714.0,1553.4 L714.7,1555.2 L715.4,1555.8 L716.2,1553.8 L716.9,1553.9 L717.6,1554.1 L718.3,1553.1 L719.0,1552.5 L719.8,1552.5 L720.5,1551.4 L721.2,1548.4 L721.9,1548.5 L722.6,1548.5 L723.4,1548.6 L724.1,1547.8 L724.8,1546.9 L725.5,1547.3 L726.2,1546.2 L727.0,1546.8 L727.7,1547.9 L728.4,1547.0 L729.1,1547.1 L729.8,1547.3 L730.6,1546.7 L731.3,1545.7 L732.0,1545.9 L732.7,1547.5 L733.4,1546.3 L734.2,1544.9 L734.9,1547.4 L735.6,1545.2 L736.3,1544.1 L737.0,1547.1 L737.8,1545.4 L738.5,1544.6 L739.2,1545.0 L739.9,1544.8 L740.6,1543.3 L741.4,1544.4 L742.1,1542.9 L742.8,1542.5 L743.5,1541.5 L744.2,1542.7 L745.0,1544.3 L745.7,1540.6 L746.4,1540.5 L747.1,1541.4 L747.8,1542.3 L748.6,1540.3 L749.3,1540.9 L750.0,1540.5 L750.7,1541.0 L751.4,1542.7 L752.2,1541.7 L752.9,1543.2 L753.6,1543.1 L754.3,1541.7 L755.0,1540.9 L755.8,1541.4 L756.5,1540.0 L757.2,1540.0 L757.9,1540.4 L758.6,1540.2 L759.4,1539.6 L760.1,1537.4 L760.8,1538.5 L761.5,1539.0 L762.2,1539.2 L763.0,1538.7 L763.7,1535.7 L764.4,1536.5 L765.1,1537.0 L765.8,1536.4 L766.6,1535.7 L767.3,1536.3 L768.0,1537.9 L768.7,1537.1 L769.4,1537.7 L770.2,1537.6 L770.9,1538.9 L771.6,1537.0 L772.3,1537.5 L773.0,1535.8 L773.8,1535.5 L774.5,1533.0 L775.2,1532.7 L775.9,1531.7 L776.6,1533.0 L777.4,1532.5 L778.1,1534.0 L778.8,1534.9 L779.5,1536.0 L780.2,1534.3 L781.0,1536.9 L781.7,1534.4 L782.4,1535.8 L783.1,1536.5 L783.8,1535.1 L784.6,1537.1 L785.3,1535.8 L786.0,1534.8 L786.7,1533.8 L787.4,1533.3 L788.2,1534.6 L788.9,1533.9 L789.6,1534.0 L790.3,1534.0 L791.0,1532.9 L791.8,1532.8 L792.5,1533.0 L793.2,1531.2 L793.9,1531.2 L794.6,1530.6 L795.4,1531.2 L796.1,1530.2 L796.8,1530.5 L797.5,1529.0 L798.2,1527.8 L799.0,1528.3 L799.7,1527.1 L800.4,1525.9 L801.1,1526.1 L801.8,1525.0 L802.6,1523.5 L803.3,1523.4 L804.0,1522.4 L804.7,1521.4 L805.4,1520.7 L806.2,1519.8 L807.0,1519.9 L807.6,1520.9 L808.3,1523.9 L809.0,1526.5 L809.8,1529.3 L810.5,1531.6 L811.2,1533.9 L811.9,1536.4 L812.6,1537.8 L813.4,1540.4 L814.1,1543.1 L814.8,1544.3 L815.5,1546.2 L816.2,1546.8 L817.0,1548.0 L817.7,1547.9 L818.4,1546.3 L819.1,1548.4 L819.8,1548.0 L820.6,1546.3 L821.3,1543.8 L822.0,1542.8 L822.7,1541.9 L823.4,1539.5 L824.2,1536.3 L824.9,1531.4 L825.6,1521.6 L826.3,1494.1 L827.0,1475.0 L827.8,1458.3 L828.5,1445.2 L829.2,1433.2 L829.9,1429.0 L830.6,1423.8 L831.4,1437.8 L832.1,1463.9 L832.8,1517.4 L833.5,1546.5 L834.2,1553.6 L835.0,1556.8 L835.7,1559.3 L836.4,1560.3 L836.7,1561.6 L837.1,1563.2 L837.8,1561.1 L838.6,1559.5 L839.3,1557.4 L840.0,1557.7 L840.7,1557.7 L841.4,1555.5 L842.2,1555.0 L842.9,1552.9 L843.6,1550.2 L844.3,1552.2 L845.0,1553.9 L845.8,1551.3 L846.5,1557.3 L847.2,1557.3 L847.9,1555.9 L848.6,1558.0 L849.4,1558.8 L850.1,1560.5 L850.8,1558.9 L851.5,1560.1 L852.2,1560.1 L853.0,1561.7 L853.7,1561.5 L854.4,1561.8 L855.1,1562.1 L855.8,1561.7 L856.6,1564.9 L857.3,1562.9 L858.0,1564.1 L858.7,1563.7 L859.4,1562.6 L860.2,1560.8 L860.9,1560.5 L861.6,1559.7 L862.3,1560.0 L863.0,1561.1 L863.8,1558.8 L864.5,1556.9 L865.2,1557.9 L865.9,1558.0 L866.6,1558.0 L867.4,1555.0 L868.1,1556.6 L868.8,1558.2 L869.5,1558.2 L870.2,1558.5 L871.0,1556.3 L871.7,1555.9 L872.4,1555.7 L873.1,1554.6 L873.8,1554.7 L874.6,1556.2 L875.3,1557.0 L876.0,1555.0 L876.7,1553.0 L877.4,1555.8 L878.2,1554.2 L878.9,1553.9 L879.6,1553.6 L880.3,1554.4 L881.0,1555.0 L881.8,1553.6 L882.5,1553.9 L883.2,1554.4 L883.9,1553.2 L884.6,1552.6 L885.4,1553.3 L886.1,1553.6 L886.8,1552.8 L887.5,1551.7 L888.2,1552.5 L889.0,1552.2 L889.7,1553.7 L890.4,1551.5 L891.1,1552.6 L891.8,1551.9 L892.6,1552.2 L893.3,1553.5 L894.0,1554.9 L894.7,1552.4 L895.4,1552.5 L896.2,1552.6 L896.9,1552.1 L897.6,1551.0 L898.3,1550.0 L899.0,1550.3 L899.8,1550.6 L900.5,1550.4 L901.2,1549.2 L901.9,1547.7 L902.6,1549.4 L903.4,1548.6 L904.1,1548.2 L904.8,1549.4 L905.5,1550.2 L906.2,1548.5 L907.0,1549.1 L907.7,1545.5 L908.4,1549.2 L909.1,1546.6 L909.8,1547.0 L910.6,1548.6 L911.3,1547.3 L912.0,1547.0 L912.7,1549.4 L913.4,1548.0 L914.2,1548.3 L914.9,1547.4 L915.6,1545.5 L916.3,1546.3 L917.0,1544.1 L917.8,1546.6 L918.5,1544.7 L919.2,1544.3 L919.9,1544.8 L920.6,1543.3 L921.4,1544.3 L922.1,1542.5 L922.8,1544.0 L923.5,1542.0 L924.2,1540.9 L925.0,1544.8 L925.7,1543.4 L926.4,1541.9 L927.1,1540.6 L927.8,1541.5 L928.6,1541.2 L929.3,1540.7 L930.0,1542.1 L930.7,1540.7 L931.4,1542.2 L932.2,1540.8 L932.9,1542.6 L933.6,1539.6 L934.3,1540.5 L935.0,1540.6 L935.8,1539.2 L936.5,1539.6 L937.2,1539.6 L937.9,1540.7 L938.6,1539.8 L939.4,1540.1 L940.1,1538.5 L940.8,1539.7 L941.5,1537.6 L942.2,1539.8 L943.0,1537.4 L943.7,1539.3 L944.4,1538.5 L945.1,1537.1 L945.8,1537.4 L946.6,1538.0 L947.3,1537.0 L948.0,1535.8 L948.7,1539.1 L949.4,1536.9 L950.2,1538.3 L950.9,1536.7 L951.6,1534.2 L952.3,1537.3 L953.0,1536.1 L953.8,1535.7 L954.5,1536.6 L955.2,1534.5 L955.9,1535.9 L956.6,1534.3 L957.4,1534.0 L958.1,1533.7 L958.8,1533.0 L959.5,1533.0 L960.2,1533.0 L961.0,1534.8 L961.7,1534.2 L962.4,1533.5 L963.1,1534.4 L963.8,1532.2 L964.6,1532.9 L965.3,1533.1 L966.0,1532.3 L966.7,1532.7 L967.4,1532.9 L968.2,1533.5 L968.9,1530.8 L969.6,1530.6 L970.3,1531.0 L971.0,1530.9 L971.8,1531.8 L972.5,1531.8 L973.2,1531.6 L973.9,1532.1 L974.6,1530.9 L975.4,1530.8 L976.1,1530.4 L976.8,1530.2 L977.5,1531.0 L978.2,1530.2 L979.0,1530.6 L979.7,1528.9 L980.4,1528.4 L981.1,1527.8 L981.8,1527.1 L982.6,1528.6 L983.3,1529.2 L984.0,1527.1 L984.7,1527.8 L985.4,1526.5 L986.2,1527.1 L986.9,1527.0 L987.6,1526.2 L988.3,1526.2 L989.0,1525.9 L989.8,1526.9 L990.5,1525.1 L991.2,1525.9 L991.9,1523.4 L992.6,1526.2 L993.4,1523.8 L994.1,1524.5 L994.8,1526.3 L995.5,1524.9 L996.2,1526.2 L997.0,1524.3 L997.7,1525.1 L998.4,1523.3 L999.1,1525.5 L999.8,1524.1 L1000.6,1522.3 L1001.3,1522.8 L1002.0,1522.0 L1002.7,1521.4 L1003.4,1521.1 L1004.2,1520.3 L1004.9,1519.6 L1005.6,1520.6 L1006.3,1518.6 L1007.0,1518.4 L1007.8,1518.9 L1008.5,1520.3 L1009.2,1519.7 L1009.9,1518.9 L1010.6,1517.2 L1011.4,1518.7 L1012.1,1518.8 L1012.8,1514.7 L1013.5,1513.9 L1014.2,1513.3 L1015.0,1513.2 L1015.7,1509.6 L1016.4,1510.7 L1017.1,1508.3 L1017.8,1508.8 L1018.6,1509.5 L1019.3,1510.9 L1020.0,1513.0 L1020.7,1514.1 L1021.4,1514.0 L1022.2,1516.6 L1022.9,1519.6 L1023.6,1519.1 L1024.3,1519.2 L1025.0,1519.5 L1025.8,1520.1 L1026.5,1518.7 L1027.2,1520.1 L1027.9,1520.0 L1028.6,1519.6 L1029.4,1519.9 L1030.1,1518.4 L1030.8,1517.9 L1031.5,1518.4 L1032.2,1515.5 L1033.0,1516.5 L1033.7,1516.9 L1034.4,1515.5 L1035.1,1515.4 L1035.8,1514.6 L1036.6,1513.9 L1037.3,1514.9 L1038.0,1513.6 L1038.7,1513.3 L1039.4,1514.5 L1040.2,1513.7 L1040.9,1513.8 L1041.6,1515.1 L1042.3,1514.4 L1043.0,1511.7 L1043.8,1516.0 L1044.5,1513.4 L1045.2,1513.6 L1045.9,1514.6 L1046.6,1513.9 L1047.4,1513.7 L1048.1,1512.2 L1048.8,1511.2 L1049.5,1513.2 L1050.2,1512.2 L1051.0,1510.5 L1051.7,1513.2 L1052.4,1512.5 L1053.1,1511.8 L1053.8,1511.1 L1054.6,1513.4 L1055.3,1514.1 L1056.0,1513.1 L1056.7,1513.6 L1057.4,1511.7 L1058.2,1513.5 L1058.9,1513.5 L1059.6,1513.9 L1060.3,1514.5 L1061.0,1513.1 L1061.8,1513.7 L1062.5,1513.0 L1063.2,1514.3 L1063.9,1514.9 L1064.6,1514.4 L1065.4,1515.9 L1066.1,1516.2 L1066.8,1514.7 L1067.5,1516.5 L1068.2,1517.2 L1069.0,1516.3 L1069.7,1517.1 L1070.4,1516.5 L1071.1,1515.1 L1071.8,1517.3 L1072.6,1517.8 L1073.3,1515.7 L1074.0,1519.5 L1074.7,1517.8 L1075.4,1514.3 L1076.2,1515.5 L1076.9,1513.8 L1077.6,1512.4 L1078.3,1508.9 L1079.0,1509.0 L1079.8,1504.8 L1080.5,1499.1 L1081.2,1495.2 L1081.9,1492.6 L1082.6,1487.3 L1083.4,1485.1 L1084.1,1483.4 L1084.8,1484.3 L1085.5,1487.6 L1086.2,1497.5 L1087.0,1504.0 L1087.7,1506.3 L1088.4,1513.2 L1089.1,1520.3 L1089.8,1525.2 L1090.6,1529.5 L1091.3,1529.4 L1092.0,1534.0 L1092.7,1536.0 L1093.4,1536.7 L1094.2,1538.3 L1094.9,1541.4 L1095.6,1543.1 L1096.3,1540.5 L1097.0,1544.0 L1097.8,1542.7 L1098.5,1543.8 L1099.2,1542.4 L1099.9,1542.7 L1100.6,1541.5 L1101.4,1541.7 L1102.1,1539.7 L1102.8,1538.3 L1103.5,1534.3 L1104.2,1533.3 L1105.0,1528.2 L1105.7,1524.0 L1106.4,1518.4 L1107.1,1511.1 L1107.8,1501.0 L1108.6,1495.2 L1109.3,1488.1 L1110.2,1478.8 L1110.7,1482.7 L1111.4,1489.5 L1112.2,1500.0 L1112.9,1513.0 L1113.6,1523.8 L1114.3,1529.8 L1115.0,1537.6 L1115.8,1543.6 L1116.5,1554.3 L1117.2,1558.1 L1117.9,1560.5 L1118.6,1564.9 L1119.4,1564.4 L1120.1,1562.8 L1120.8,1564.9 L1121.5,1564.0 L1122.2,1564.7 L1123.0,1563.3 L1123.7,1564.7 L1124.4,1566.3 L1125.1,1567.7 L1125.8,1567.5 L1126.6,1568.7 L1127.3,1570.5 L1128.0,1570.8 L1128.7,1571.6 L1129.4,1573.3 L1130.2,1573.0 L1130.9,1576.2 L1131.6,1574.2 L1132.3,1575.7 L1133.0,1576.5 L1133.8,1575.6 L1134.5,1577.2 L1135.2,1575.3 L1135.9,1575.8 L1136.6,1574.1 L1137.4,1576.8 L1138.1,1577.1 L1138.8,1575.2 L1139.5,1576.0 L1140.2,1576.9 L1141.0,1576.1 L1141.7,1575.7 L1142.4,1577.4 L1143.1,1575.7 L1143.8,1574.5 L1144.6,1576.1 L1145.3,1575.2 L1146.0,1572.8 L1146.7,1573.5 L1147.4,1572.8 L1148.2,1573.0 L1148.9,1573.5 L1149.6,1571.5 L1150.3,1572.6 L1151.0,1572.4 L1151.8,1572.2 L1152.5,1571.5 L1153.2,1571.3 L1153.9,1572.2 L1154.6,1572.7 L1155.4,1572.2 L1156.1,1573.2 L1156.8,1572.6 L1157.5,1573.9 L1158.2,1571.7 L1159.0,1574.9 L1159.7,1574.4 L1160.4,1574.9 L1161.1,1574.3 L1161.8,1576.7 L1162.6,1577.7 L1163.3,1576.8 L1164.0,1579.7 L1164.7,1576.0 L1165.4,1579.7 L1166.2,1578.0 L1166.9,1578.7 L1167.6,1579.4 L1168.3,1581.0 L1169.0,1580.7 L1169.8,1580.2 L1170.5,1579.9 L1171.2,1580.2 L1171.9,1580.4 L1172.6,1578.0 L1173.4,1576.7 L1174.1,1576.7 L1174.8,1575.3 L1175.5,1572.3 L1176.2,1567.3 L1177.0,1563.2 L1177.7,1561.7 L1178.4,1542.7 L1179.1,1514.4 L1179.8,1493.3 L1180.6,1477.9 L1181.3,1464.3 L1182.0,1455.0 L1182.7,1472.4 L1183.4,1493.7 L1184.2,1514.4 L1184.9,1538.8 L1185.6,1551.2 L1186.3,1576.2 L1187.0,1583.6 L1187.8,1583.2 L1188.5,1583.5 L1189.2,1582.2 L1189.9,1581.0 L1190.6,1578.0 L1191.4,1577.9 L1192.1,1577.1 L1192.8,1578.0 L1193.5,1577.2 L1194.2,1574.5 L1195.0,1574.7 L1195.7,1575.2 L1196.4,1574.6 L1197.1,1574.5 L1197.8,1573.9 L1198.6,1575.1 L1199.3,1576.0 L1200.0,1576.9 L1200.7,1576.7 L1201.4,1579.6 L1202.2,1581.5 L1202.9,1580.3 L1203.6,1581.7 L1204.3,1581.4 L1205.0,1581.6 L1205.8,1580.0 L1206.5,1578.7 L1207.2,1580.7 L1207.9,1578.7 L1208.6,1580.4 L1209.4,1580.8 L1210.1,1580.4 L1210.8,1581.3 L1211.5,1580.1 L1212.2,1579.6 L1213.0,1580.4 L1213.7,1580.5 L1214.4,1580.5 L1215.1,1579.3 L1215.8,1580.5 L1216.6,1580.3 L1217.3,1582.3 L1218.0,1579.7 L1218.7,1580.6 L1219.4,1580.9 L1220.2,1581.0 L1220.9,1579.6 L1221.6,1580.8 L1222.3,1581.0 L1223.0,1578.7 L1223.8,1579.4 L1224.5,1579.4 L1225.2,1578.9 L1225.9,1578.4 L1226.6,1579.9 L1227.4,1577.5 L1228.1,1578.5 L1228.8,1577.5 L1229.5,1578.5 L1230.2,1577.0 L1231.0,1577.2 L1231.7,1578.2 L1232.4,1577.1 L1233.1,1579.1 L1233.8,1577.5 L1234.6,1580.3 L1235.3,1578.3 L1236.0,1576.0 L1236.7,1577.2 L1237.4,1576.5 L1238.2,1577.8 L1238.9,1578.2 L1239.6,1578.7 L1240.3,1578.3 L1241.0,1578.1 L1241.8,1576.7 L1242.5,1576.3 L1243.2,1576.6 L1243.9,1575.3 L1244.6,1574.5 L1245.4,1575.6 L1246.1,1574.4 L1246.8,1576.0 L1247.5,1574.3 L1248.2,1576.3 L1249.0,1573.8 L1249.7,1573.9 L1250.4,1572.5 L1251.1,1572.9 L1251.8,1574.0 L1252.6,1572.5 L1253.3,1574.2 L1254.0,1573.2 L1254.7,1572.1 L1255.4,1571.6 L1256.2,1572.2 L1256.9,1571.8 L1257.6,1572.4 L1258.3,1572.4 L1259.0,1570.8 L1259.8,1571.6 L1260.5,1570.8 L1261.2,1571.3 L1261.9,1570.0 L1262.6,1572.0 L1263.4,1570.7 L1264.1,1570.8 L1264.8,1571.2 L1265.5,1571.2 L1266.2,1569.2 L1267.0,1571.8 L1267.7,1570.7 L1268.4,1570.2 L1269.1,1569.6 L1269.8,1571.0 L1270.6,1570.8 L1271.3,1569.0 L1272.0,1569.1 L1272.7,1569.4 L1273.4,1569.1 L1274.2,1567.9 L1274.9,1568.8 L1275.6,1569.8 L1276.3,1567.1 L1277.0,1568.6 L1277.8,1566.8 L1278.5,1567.1 L1279.2,1565.6 L1279.9,1567.4 L1280.6,1565.8 L1281.4,1565.7 L1282.1,1564.7 L1282.8,1564.7 L1283.5,1565.4 L1284.2,1565.5 L1285.0,1564.9 L1285.7,1562.2 L1286.4,1563.3 L1287.1,1565.1 L1287.8,1566.0 L1288.6,1564.6 L1289.3,1562.9 L1290.0,1563.4 L1290.7,1564.7 L1291.4,1563.3 L1292.2,1563.9 L1292.9,1564.8 L1293.6,1564.5 L1294.3,1565.6 L1295.0,1562.8 L1295.8,1564.1 L1296.5,1562.5 L1297.2,1562.0 L1297.9,1564.1 L1298.6,1562.7 L1299.4,1561.1 L1300.1,1560.9 L1300.8,1561.7 L1301.5,1561.4 L1302.2,1561.3 L1303.0,1560.4 L1303.7,1561.0 L1304.4,1558.9 L1305.1,1559.0 L1305.8,1559.0 L1306.6,1559.4 L1307.3,1559.6 L1308.0,1560.6 L1308.7,1560.2 L1309.4,1560.8 L1310.2,1561.0 L1310.9,1561.6 L1311.6,1560.4 L1312.3,1559.5 L1313.0,1559.7 L1313.8,1559.2 L1314.5,1558.4 L1315.2,1559.5 L1315.9,1557.2 L1316.6,1557.3 L1317.4,1556.3 L1318.1,1558.2 L1318.8,1557.7 L1319.5,1556.4 L1320.2,1557.3 L1321.0,1556.3 L1321.7,1556.3 L1322.4,1557.5 L1323.1,1554.8 L1323.8,1554.7 L1324.6,1555.6 L1325.3,1555.2 L1326.0,1554.2 L1326.7,1555.6 L1327.4,1554.6 L1328.2,1552.6 L1328.9,1552.1 L1329.6,1551.7 L1330.3,1552.5 L1331.0,1551.9 L1331.8,1550.0 L1332.5,1551.8 L1333.2,1551.6 L1333.9,1549.9 L1334.6,1549.6 L1335.4,1547.6 L1336.1,1550.2 L1336.8,1551.0 L1337.5,1552.6 L1338.2,1553.4 L1339.0,1551.4 L1339.7,1552.3 L1340.4,1553.2 L1341.1,1552.4 L1341.8,1551.2 L1342.6,1551.0 L1343.3,1550.1 L1344.0,1550.9 L1344.7,1548.7 L1345.4,1549.4 L1346.2,1547.7 L1346.9,1548.8 L1347.6,1547.3 L1348.3,1549.7 L1349.0,1546.4 L1349.8,1546.7 L1350.5,1545.8 L1351.2,1547.2 L1351.9,1545.9 L1352.6,1547.7 L1353.4,1547.3 L1354.1,1547.1 L1354.8,1546.5 L1355.5,1547.5 L1356.2,1547.6 L1357.0,1547.4 L1357.7,1547.1 L1358.4,1546.6 L1359.1,1546.4 L1359.8,1546.0 L1360.6,1546.5 L1361.3,1546.5 L1362.0,1545.1 L1362.7,1543.7 L1363.4,1543.9 L1364.2,1545.1 L1364.9,1544.1 L1365.6,1543.8 L1366.3,1542.7 L1367.0,1543.7 L1367.8,1543.5 L1368.5,1541.5 L1369.2,1539.0 L1369.9,1539.8 L1370.6,1541.0 L1371.4,1541.2 L1372.1,1539.6 L1372.8,1539.7 L1373.5,1542.4 L1374.2,1541.2 L1375.0,1539.2 L1375.7,1538.7 L1376.4,1542.0 L1377.1,1541.3 L1377.8,1540.7 L1378.6,1540.8 L1379.3,1541.8 L1380.0,1540.7 L1380.7,1541.4 L1381.4,1541.5 L1382.2,1541.8 L1382.9,1541.3 L1383.6,1539.6 L1384.3,1541.5 L1385.0,1541.2 L1385.8,1541.6 L1386.5,1540.4 L1387.2,1540.2 L1387.9,1537.5 L1388.6,1540.0 L1389.4,1539.6 L1390.1,1541.1 L1390.8,1538.3 L1391.5,1538.9 L1392.2,1536.0 L1393.0,1538.4 L1393.7,1538.6 L1394.4,1538.3 L1395.1,1536.7 L1395.8,1537.4 L1396.6,1536.2 L1397.3,1539.0 L1398.0,1536.3 L1398.7,1537.7 L1399.4,1537.9 L1400.2,1537.7 L1400.9,1536.0 L1401.6,1536.9 L1402.3,1538.7 L1403.0,1537.8 L1403.8,1537.2 L1404.5,1539.1 L1405.2,1537.3 L1405.9,1537.6 L1406.6,1538.6 L1407.4,1538.7 L1408.1,1535.2 L1408.8,1536.1 L1409.5,1536.7 L1410.2,1535.4 L1411.0,1535.0 L1411.7,1536.0 L1412.4,1534.4 L1413.1,1535.0 L1413.8,1534.1 L1414.6,1534.9 L1415.3,1533.3 L1416.0,1535.0 L1416.7,1533.3 L1417.4,1533.5 L1418.2,1531.5 L1418.9,1531.7 L1419.6,1534.5 L1420.3,1532.1 L1421.0,1532.9 L1421.8,1531.9 L1422.5,1532.5 L1423.2,1531.1 L1423.9,1531.3 L1424.6,1532.2 L1425.4,1532.2 L1426.1,1529.7 L1426.8,1529.5 L1427.5,1528.5 L1428.2,1528.6 L1429.0,1527.5 L1429.7,1525.8 L1430.4,1527.3 L1431.1,1527.4 L1431.8,1525.7 L1432.6,1524.8 L1433.3,1525.7 L1434.0,1527.5 L1434.7,1528.1 L1435.4,1527.7 L1436.2,1528.5 L1436.9,1529.3 L1437.6,1531.7 L1438.3,1533.7 L1439.0,1532.6 L1439.8,1534.7 L1440.5,1536.9 L1441.2,1537.0 L1441.9,1538.6 L1442.6,1538.9 L1443.4,1540.3 L1444.1,1540.8 L1444.8,1542.6 L1445.5,1544.5 L1446.2,1545.6 L1447.0,1547.2 L1447.7,1549.0 L1448.4,1551.9 L1449.1,1556.9 L1449.8,1559.1 L1450.6,1560.9 L1451.3,1563.2 L1452.0,1564.2 L1452.7,1566.8 L1453.4,1566.5 L1454.2,1568.9 L1454.9,1570.9 L1455.6,1570.7 L1456.3,1573.9 L1457.0,1573.5 L1457.8,1574.5 L1458.5,1575.4 L1459.2,1575.9 L1459.9,1574.7 L1460.6,1571.1 L1461.4,1567.9 L1462.1,1561.5 L1462.8,1546.3 L1463.5,1513.7 L1464.2,1435.8 L1464.9,1378.5 L1465.7,1397.6 L1466.4,1430.4 L1467.1,1455.3 L1467.8,1474.1 L1468.2,1478.0 L1468.6,1473.0 L1469.3,1441.7 L1470.0,1411.9 L1470.7,1381.9 L1471.4,1364.3 L1472.0,1358.0 L1472.9,1461.1 L1473.6,1587.0 L1474.3,1613.5 L1475.0,1627.1 L1475.8,1629.1 L1476.5,1628.6 L1477.2,1631.4 L1477.9,1628.5 L1478.6,1627.8 L1479.4,1626.3 L1480.1,1625.9 L1480.8,1623.6 L1481.5,1622.8 L1482.2,1621.7 L1483.0,1621.5 L1483.7,1623.5 L1484.4,1621.9 L1485.1,1620.1 L1486.1,1621.0 L1486.6,1637.9 L1487.3,1646.0 L1488.0,1649.7 L1488.7,1649.5 L1489.4,1653.2 L1490.2,1657.0 L1490.9,1654.8 L1491.6,1654.2 L1492.3,1655.7 L1493.0,1655.8 L1493.8,1655.5 L1494.5,1656.0 L1495.2,1654.1 L1495.9,1654.3 L1496.6,1654.0 L1497.4,1655.7 L1498.1,1657.5 L1498.8,1653.4 L1499.5,1653.8 L1500.2,1654.7 L1501.0,1653.7 L1501.7,1652.4 L1502.4,1652.9 L1503.1,1651.7 L1503.8,1649.9 L1504.6,1648.6 L1505.3,1646.3 L1506.0,1638.4 L1506.7,1633.5 L1507.4,1627.6 L1508.2,1623.7 L1508.9,1622.3 L1509.6,1624.3 L1510.3,1623.2 L1510.8,1622.6 L1511.8,1636.3 L1512.5,1647.2 L1513.2,1659.7 L1513.9,1666.5 L1514.6,1673.1 L1515.4,1675.6 L1516.1,1674.0 L1516.8,1674.3 L1517.5,1674.5 L1518.2,1675.8 L1519.0,1675.5 L1519.7,1676.1 L1520.4,1676.6 L1521.1,1677.7 L1521.8,1676.1 L1522.6,1677.9 L1523.3,1678.4 L1524.0,1678.1 L1524.7,1679.6 L1525.4,1680.3 L1526.2,1678.8 L1526.9,1680.2 L1527.6,1680.1 L1528.3,1681.5 L1529.0,1683.1 L1529.8,1685.1 L1530.5,1685.3 L1531.2,1686.1 L1531.9,1686.1 L1532.6,1686.3 L1533.4,1687.0 L1534.1,1687.1 L1534.8,1687.7 L1535.5,1686.9 L1536.2,1688.4 L1537.0,1686.8 L1537.7,1688.9 L1538.4,1689.3 L1539.1,1687.5 L1539.8,1687.7 L1540.6,1685.0 L1541.3,1686.9 L1542.0,1687.0 L1542.7,1687.1 L1543.4,1685.9 L1544.2,1688.0 L1544.9,1688.8 L1545.6,1686.7 L1546.3,1687.3 L1547.0,1686.8 L1547.8,1684.7 L1548.5,1686.2 L1549.2,1686.2 L1549.9,1684.1 L1550.6,1684.0 L1551.4,1684.7 L1552.1,1683.5 L1552.8,1684.4 L1553.5,1683.0 L1554.2,1683.8 L1555.0,1684.2 L1555.7,1681.7 L1556.4,1682.0 L1557.1,1681.1 L1557.8,1681.9 L1558.6,1681.5 L1559.3,1682.0 L1560.0,1682.8 L1560.7,1684.4 L1561.4,1685.6 L1562.2,1686.3 L1562.9,1688.2 L1563.6,1688.8 L1564.3,1690.0 L1565.0,1689.8 L1565.8,1687.9 L1566.5,1689.9 L1567.2,1689.7 L1567.9,1689.5 L1568.6,1690.9 L1569.4,1692.1 L1570.1,1691.7 L1570.8,1692.2 L1571.5,1693.6 L1572.2,1691.6 L1573.0,1695.4 L1573.7,1693.0 L1574.4,1693.8 L1575.1,1694.4 L1575.8,1694.4 L1576.8,1694.9 L1577.3,1695.4 L1578.0,1692.9 L1578.7,1689.7 L1579.4,1682.9 L1580.2,1674.9 L1580.9,1671.3 L1581.6,1667.6 L1582.3,1665.6 L1583.0,1665.8 L1583.8,1665.6 L1584.5,1663.5 L1585.2,1664.7 L1585.9,1664.6 L1586.7,1664.3 L1587.4,1690.3 L1588.1,1703.5 L1588.8,1706.9 L1589.5,1707.6 L1590.2,1710.7 L1591.0,1708.3 L1591.7,1707.0 L1592.4,1708.5 L1593.1,1709.7 L1593.8,1711.5 L1594.6,1709.9 L1595.3,1707.5 L1596.0,1710.2 L1596.7,1711.0 L1597.4,1711.4 L1598.2,1709.3 L1598.9,1709.0 L1599.6,1709.2 L1600.3,1711.3 L1601.0,1708.8 L1601.8,1711.2 L1602.5,1712.2 L1603.2,1710.4 L1603.9,1713.1 L1604.6,1712.0 L1605.4,1713.9 L1605.9,1713.5"/></g>
<g clip-path="url(#plot)"><path stroke="#00ff00" d="M464.0,1758.3 L464.7,1758.6 L465.4,1758.6 L466.1,1758.9 L466.9,1759.8 L467.6,1758.3 L468.3,1759.5 L469.0,1759.8 L469.7,1760.5 L470.5,1762.5 L471.2,1764.1 L471.9,1767.1 L472.6,1766.5 L473.3,1767.3 L474.1,1768.8 L474.8,1768.1 L475.5,1768.7 L476.2,1769.5 L476.9,1768.7 L477.7,1768.2 L478.4,1768.3 L479.1,1767.5 L479.8,1769.1 L480.5,1769.1 L481.3,1769.9 L482.0,1767.8 L482.7,1767.8 L483.4,1767.7 L484.1,1768.2 L484.9,1767.8 L485.6,1768.4 L486.3,1767.8 L487.0,1767.3 L487.7,1769.8 L488.5,1768.7 L489.2,1770.3 L489.9,1769.6 L490.6,1770.2 L491.3,1769.1 L492.1,1769.7 L492.8,1770.6 L493.5,1770.7 L494.2,1770.0 L494.9,1770.2 L495.7,1768.7 L496.4,1769.8 L497.1,1769.2 L497.8,1768.7 L498.5,1769.5 L499.3,1768.7 L500.0,1768.1 L500.7,1767.9 L501.4,1767.4 L502.1,1766.9 L502.9,1766.7 L503.6,1765.9 L504.3,1766.7 L505.0,1766.9 L505.7,1766.3 L506.5,1765.2 L507.2,1764.9 L507.9,1765.5 L508.6,1764.9 L509.3,1765.8 L510.1,1764.8 L510.8,1764.8 L511.5,1763.7 L512.2,1763.9 L512.9,1762.6 L513.7,1761.9 L514.4,1762.7 L515.1,1761.4 L515.8,1761.5 L516.5,1762.3 L517.3,1762.5 L518.0,1761.2 L518.7,1760.6 L519.4,1761.1 L520.1,1761.0 L520.9,1760.4 L521.6,1759.1 L522.3,1759.1 L523.0,1759.8 L523.7,1758.1 L524.5,1758.8 L525.2,1759.5 L525.9,1759.2 L526.6,1758.0 L527.3,1758.2 L528.1,1758.2 L528.8,1757.5 L529.5,1758.3 L530.2,1757.5 L530.9,1758.3 L531.7,1756.7 L532.4,1756.3 L533.1,1755.6 L533.8,1755.3 L534.5,1752.8 L535.3,1754.5 L536.0,1752.9 L536.7,1752.4 L537.4,1752.4 L538.1,1750.9 L538.9,1750.6 L539.6,1750.1 L540.3,1750.4 L541.0,1750.3 L541.7,1750.5 L542.5,1749.6 L543.2,1748.9 L543.9,1749.7 L544.6,1748.4 L545.3,1748.1 L546.1,1746.1 L546.8,1742.8 L547.5,1741.1 L548.2,1737.6 L548.9,1735.3 L549.7,1733.1 L550.4,1733.5 L551.1,1733.7 L551.8,1733.6 L552.5,1735.4 L553.3,1738.3 L554.0,1742.5 L554.7,1749.4 L555.4,1750.3 L556.1,1753.0 L556.9,1751.7 L557.6,1752.9 L558.3,1755.2 L559.0,1754.7 L559.7,1753.9 L560.5,1757.1 L561.2,1756.2 L561.9,1756.0 L562.6,1753.7 L563.3,1755.5 L564.1,1754.2 L564.8,1753.2 L565.5,1751.6 L566.2,1748.6 L566.9,1745.3 L567.7,1741.3 L568.4,1736.1 L569.1,1730.1 L569.8,1724.9 L570.3,1723.2 L571.3,1728.2 L572.0,1736.7 L572.7,1745.5 L573.4,1756.9 L574.1,1771.9 L574.9,1783.3 L575.6,1789.6 L576.3,1792.4 L577.0,1795.4 L577.7,1795.3 L578.5,1795.8 L579.2,1795.5 L579.9,1797.0 L580.6,1795.9 L581.3,1796.0 L582.1,1795.2 L582.8,1795.5 L583.5,1797.2 L584.2,1795.9 L584.9,1797.4 L585.7,1797.3 L586.4,1797.5 L587.1,1797.7 L587.8,1797.9 L588.5,1799.1 L589.3,1798.9 L590.0,1798.4 L590.7,1799.7 L591.4,1801.6 L592.1,1800.2 L592.9,1801.3 L593.6,1801.6 L594.3,1802.5 L595.0,1801.1 L595.7,1802.6 L596.5,1800.7 L597.2,1801.4 L597.9,1800.3 L598.6,1801.0 L599.3,1800.2 L600.1,1799.3 L600.8,1800.4 L601.5,1799.3 L602.2,1800.3 L602.9,1798.0 L603.7,1800.7 L604.4,1799.4 L605.1,1800.5 L605.8,1799.7 L606.5,1799.1 L607.3,1798.7 L608.0,1798.4 L608.7,1799.1 L609.4,1798.4 L610.1,1797.3 L610.9,1798.0 L611.6,1798.4 L612.3,1798.0 L613.0,1798.0 L613.7,1798.0 L614.5,1795.8 L615.2,1797.5 L615.9,1798.3 L616.6,1797.4 L617.3,1796.7 L618.1,1796.0 L618.8,1796.2 L619.5,1797.8 L620.2,1796.0 L620.9,1796.5 L621.7,1796.0 L622.4,1796.3 L623.1,1794.9 L623.8,1794.2 L624.5,1795.2 L625.3,1795.4 L626.0,1793.5 L626.7,1795.0 L627.4,1795.2 L628.1,1794.9 L628.9,1794.7 L629.6,1793.6 L630.3,1794.2 L631.0,1793.9 L631.7,1795.2 L632.5,1794.7 L633.2,1794.8 L633.9,1793.3 L634.6,1793.4 L635.3,1794.3 L636.1,1794.0 L636.8,1794.6 L637.5,1793.4 L638.2,1793.2 L638.9,1794.1 L639.7,1792.8 L640.4,1792.9 L641.1,1793.9 L641.8,1794.0 L642.5,1792.4 L643.3,1791.6 L644.0,1792.0 L644.7,1790.1 L645.4,1792.5 L646.1,1792.8 L646.9,1791.7 L647.6,1790.6 L648.3,1790.2 L649.0,1790.4 L649.7,1790.7 L650.5,1790.9 L651.2,1790.9 L651.9,1791.1 L652.6,1790.0 L653.3,1790.3 L654.1,1787.5 L654.8,1788.2 L655.5,1789.0 L656.2,1788.1 L656.9,1788.4 L657.7,1788.6 L658.4,1788.9 L659.1,1788.5 L659.8,1788.4 L660.5,1788.0 L661.3,1788.3 L662.0,1788.6 L662.7,1787.3 L663.4,1787.7 L664.1,1787.4 L664.9,1786.9 L665.6,1786.2 L666.3,1786.3 L667.0,1786.3 L667.7,1786.8 L668.5,1786.7 L669.2,1786.9 L669.9,1786.2 L670.6,1785.3 L671.3,1786.3 L672.1,1784.6 L672.8,1786.7 L673.5,1787.3 L674.2,1785.6 L674.9,1786.0 L675.7,1785.1 L676.4,1786.6 L677.1,1786.6 L677.8,1787.1 L678.5,1787.3 L679.3,1786.7 L680.0,1787.5 L680.7,1787.1 L681.4,1785.9 L682.1,1786.3 L682.9,1784.6 L683.6,1784.0 L684.3,1784.1 L685.0,1785.9 L685.7,1783.7 L686.5,1783.5 L687.2,1783.8 L687.9,1783.7 L688.6,1784.0 L689.3,1784.1 L690.1,1782.9 L690.8,1782.5 L691.5,1782.1 L692.2,1781.8 L692.9,1781.6 L693.7,1781.7 L694.4,1782.0 L695.1,1782.3 L695.8,1782.0 L696.5,1781.4 L697.3,1781.9 L698.0,1780.6 L698.7,1782.4 L699.4,1781.7 L700.1,1782.4 L700.9,1781.1 L701.6,1780.0 L702.3,1782.0 L703.0,1780.4 L703.7,1779.7 L704.5,1778.7 L705.2,1778.6 L705.9,1780.1 L706.6,1780.2 L707.3,1779.4 L708.1,1780.8 L708.8,1779.5 L709.5,1779.9 L710.2,1778.6 L710.9,1778.6 L711.7,1778.3 L712.4,1779.4 L713.1,1778.9 L713.8,1778.7 L714.5,1778.8 L715.3,1778.4 L716.0,1778.5 L716.7,1776.2 L717.4,1778.5 L718.1,1778.4 L718.9,1778.5 L719.6,1777.7 L720.3,1777.1 L721.0,1776.7 L721.7,1778.1 L722.5,1776.8 L723.2,1777.8 L723.9,1777.3 L724.6,1776.4 L725.3,1777.1 L726.1,1777.8 L726.8,1777.0 L727.5,1775.6 L728.2,1776.6 L728.9,1776.2 L729.7,1776.4 L730.4,1775.6 L731.1,1774.7 L731.8,1773.7 L732.5,1774.1 L733.3,1774.7 L734.0,1774.4 L734.7,1774.1 L735.4,1774.2 L736.1,1774.7 L736.9,1774.6 L737.6,1774.2 L738.3,1772.5 L739.0,1772.7 L739.7,1773.0 L740.5,1773.3 L741.2,1772.4 L741.9,1771.9 L742.6,1772.8 L743.3,1772.1 L744.1,1771.8 L744.8,1771.9 L745.5,1771.5 L746.2,1772.2 L746.9,1772.4 L747.7,1771.4 L748.4,1770.8 L749.1,1771.7 L749.8,1770.6 L750.5,1770.8 L751.3,1770.4 L752.0,1770.1 L752.7,1771.7 L753.4,1770.6 L754.1,1770.8 L754.9,1770.7 L755.6,1769.8 L756.3,1768.0 L757.0,1769.7 L757.7,1769.6 L758.5,1767.8 L759.2,1768.1 L759.9,1769.3 L760.6,1768.6 L761.3,1768.5 L762.1,1767.0 L762.8,1767.8 L763.5,1767.0 L764.2,1767.3 L764.9,1765.7 L765.7,1766.5 L766.4,1764.9 L767.1,1765.8 L767.8,1766.0 L768.5,1766.2 L769.3,1765.9 L770.0,1765.7 L770.7,1766.4 L771.4,1765.9 L772.1,1764.9 L772.9,1766.1 L773.6,1766.5 L774.3,1765.4 L775.0,1764.6 L775.7,1766.2 L776.5,1765.7 L777.2,1763.8 L777.9,1765.1 L778.6,1764.7 L779.3,1766.6 L780.1,1764.8 L780.8,1763.9 L781.5,1765.1 L782.2,1765.4 L782.9,1763.1 L783.7,1764.1 L784.4,1763.5 L785.1,1764.0 L785.8,1763.2 L786.5,1761.8 L787.3,1762.1 L788.0,1761.4 L788.7,1759.8 L789.4,1759.6 L790.1,1760.6 L790.9,1760.0 L791.6,1760.5 L792.3,1758.5 L793.0,1758.5 L793.7,1756.9 L794.5,1759.0 L795.2,1757.4 L795.9,1758.2 L796.6,1759.6 L797.3,1759.3 L798.1,1762.5 L798.8,1760.4 L799.5,1760.0 L800.2,1761.0 L800.9,1761.9 L801.7,1760.7 L802.4,1762.2 L803.1,1762.3 L803.8,1760.3 L804.5,1762.1 L805.3,1761.8 L806.0,1762.1 L806.7,1762.5 L807.4,1763.2 L808.1,1763.0 L808.9,1764.3 L809.6,1764.1 L810.3,1766.2 L811.0,1767.0 L811.7,1768.3 L812.5,1768.6 L813.2,1769.5 L813.9,1769.7 L814.6,1770.0 L815.3,1771.6 L816.1,1770.4 L816.8,1773.2 L817.5,1772.6 L818.2,1770.7 L818.9,1772.1 L819.7,1772.2 L820.4,1771.4 L821.1,1769.4 L821.8,1769.0 L822.5,1766.2 L823.3,1766.0 L824.0,1763.0 L824.7,1747.6 L825.4,1724.3 L826.1,1703.9 L826.9,1683.4 L827.6,1672.2 L828.3,1662.5 L829.0,1652.9 L829.7,1648.1 L830.5,1642.7 L831.2,1668.1 L831.9,1699.1 L832.6,1737.3 L833.3,1779.6 L834.1,1786.6 L834.8,1787.0 L835.5,1787.1 L836.0,1788.0 L836.9,1787.4 L837.7,1786.2 L838.4,1785.3 L839.1,1784.1 L839.8,1783.9 L840.5,1783.5 L841.3,1780.9 L842.0,1780.4 L842.7,1779.4 L843.4,1777.4 L844.1,1779.1 L844.9,1779.9 L845.6,1780.3 L846.3,1782.4 L847.0,1784.4 L847.7,1784.9 L848.5,1787.2 L849.2,1789.4 L849.9,1790.4 L850.6,1791.5 L851.3,1792.1 L852.1,1791.8 L852.8,1791.9 L853.5,1791.6 L854.2,1792.7 L854.9,1793.2 L855.7,1790.6 L856.4,1791.8 L857.1,1791.2 L857.8,1790.4 L858.5,1790.6 L859.3,1790.1 L860.0,1790.9 L860.7,1789.9 L861.4,1789.1 L862.1,1789.9 L862.9,1788.7 L863.6,1790.1 L864.3,1789.5 L865.0,1789.8 L865.7,1790.4 L866.5,1789.6 L867.2,1789.0 L867.9,1788.7 L868.6,1787.2 L869.3,1788.8 L870.1,1787.7 L870.8,1789.0 L871.5,1788.2 L872.2,1789.4 L872.9,1788.8 L873.7,1787.5 L874.4,1788.0 L875.1,1788.1 L875.8,1789.2 L876.5,1788.6 L877.3,1788.2 L878.0,1787.6 L878.7,1788.1 L879.4,1787.4 L880.1,1789.0 L880.9,1788.6 L881.6,1787.5 L882.3,1787.9 L883.0,1788.7 L883.7,1789.9 L884.5,1787.0 L885.2,1787.3 L885.9,1788.9 L886.6,1788.1 L887.3,1788.1 L888.1,1788.3 L888.8,1787.0 L889.5,1787.9 L890.2,1787.4 L890.9,1786.7 L891.7,1788.2 L892.4,1786.2 L893.1,1784.9 L893.8,1786.2 L894.5,1784.5 L895.3,1785.4 L896.0,1783.9 L896.7,1785.8 L897.4,1785.6 L898.1,1784.5 L898.9,1786.6 L899.6,1785.4 L900.3,1785.5 L901.0,1786.5 L901.7,1786.0 L902.5,1786.5 L903.2,1786.0 L903.9,1785.9 L904.6,1786.0 L905.3,1786.8 L906.1,1786.1 L906.8,1786.7 L907.5,1785.9 L908.2,1784.8 L908.9,1784.7 L909.7,1785.7 L910.4,1785.4 L911.1,1783.9 L911.8,1785.3 L912.5,1783.9 L913.3,1784.7 L914.0,1783.5 L914.7,1783.3 L915.4,1784.2 L916.1,1784.7 L916.9,1785.2 L917.6,1783.4 L918.3,1783.2 L919.0,1782.4 L919.7,1782.5 L920.5,1783.5 L921.2,1782.0 L921.9,1784.1 L922.6,1782.0 L923.3,1782.1 L924.1,1783.8 L924.8,1783.2 L925.5,1781.8 L926.2,1782.7 L926.9,1782.1 L927.7,1782.4 L928.4,1781.8 L929.1,1781.6 L929.8,1782.8 L930.5,1781.7 L931.3,1782.9 L932.0,1782.8 L932.7,1782.8 L933.4,1782.7 L934.1,1782.3 L934.9,1782.7 L935.6,1784.0 L936.3,1783.1 L937.0,1782.2 L937.7,1783.4 L938.5,1782.6 L939.2,1784.0 L939.9,1782.6 L940.6,1783.9 L941.3,1782.1 L942.1,1782.6 L942.8,1781.5 L943.5,1783.0 L944.2,1782.2 L944.9,1783.4 L945.7,1783.2 L946.4,1782.2 L947.1,1781.8 L947.8,1781.0 L948.5,1780.9 L949.3,1781.1 L950.0,1781.5 L950.7,1782.6 L951.4,1782.4 L952.1,1782.2 L952.9,1782.9 L953.6,1782.9 L954.3,1782.6 L955.0,1782.4 L955.7,1781.5 L956.5,1783.5 L957.2,1781.9 L957.9,1783.2 L958.6,1782.6 L959.3,1782.8 L960.1,1781.7 L960.8,1781.1 L961.5,1782.0 L962.2,1781.7 L962.9,1781.9 L963.7,1781.6 L964.4,1781.8 L965.1,1782.1 L965.8,1782.5 L966.5,1782.1 L967.3,1784.4 L968.0,1781.9 L968.7,1782.6 L969.4,1782.2 L970.1,1781.7 L970.9,1781.7 L971.6,1782.4 L972.3,1781.0 L973.0,1781.9 L973.7,1781.6 L974.5,1782.1 L975.2,1781.3 L975.9,1781.5 L976.6,1782.9 L977.3,1781.7 L978.1,1781.7 L978.8,1780.9 L979.5,1781.8 L980.2,1781.2 L980.9,1782.3 L981.7,1780.7 L982.4,1781.2 L983.1,1781.1 L983.8,1781.4 L984.5,1780.9 L985.3,1780.5 L986.0,1781.1 L986.7,1781.9 L987.4,1781.5 L988.1,1782.4 L988.9,1780.8 L989.6,1780.7 L990.3,1783.3 L991.0,1782.6 L991.7,1782.3 L992.5,1782.4 L993.2,1780.8 L993.9,1781.6 L994.6,1781.5 L995.3,1782.6 L996.1,1783.9 L996.8,1782.5 L997.5,1782.2 L998.2,1783.0 L998.9,1784.2 L999.7,1784.0 L1000.4,1783.4 L1001.1,1782.7 L1001.8,1782.4 L1002.5,1782.6 L1003.3,1782.5 L1004.0,1782.1 L1004.7,1783.0 L1005.4,1782.6 L1006.1,1781.3 L1006.9,1782.6 L1007.6,1781.6 L1008.3,1782.5 L1009.0,1781.0 L1009.7,1781.0 L1010.5,1781.1 L1011.2,1780.7 L1011.9,1776.7 L1012.6,1773.6 L1013.3,1771.8 L1014.1,1769.3 L1014.8,1768.3 L1015.5,1767.7 L1016.2,1767.1 L1016.9,1765.9 L1017.7,1766.5 L1018.4,1766.1 L1019.1,1766.2 L1019.8,1768.5 L1020.5,1771.1 L1021.3,1772.8 L1022.0,1776.6 L1022.7,1779.7 L1023.4,1782.1 L1024.1,1782.9 L1024.9,1781.9 L1025.6,1782.6 L1026.3,1782.6 L1027.0,1784.6 L1027.7,1783.3 L1028.5,1783.3 L1029.2,1783.3 L1029.9,1783.2 L1030.6,1782.0 L1031.3,1783.6 L1032.1,1782.7 L1032.8,1780.8 L1033.5,1782.2 L1034.2,1781.9 L1034.9,1781.9 L1035.7,1781.2 L1036.4,1781.1 L1037.1,1782.5 L1037.8,1781.7 L1038.5,1781.6 L1039.3,1781.6 L1040.0,1782.0 L1040.7,1781.5 L1041.4,1780.7 L1042.1,1780.3 L1042.9,1779.5 L1043.6,1781.6 L1044.3,1780.6 L1045.0,1781.8 L1045.7,1781.4 L1046.5,1781.3 L1047.2,1782.3 L1047.9,1780.5 L1048.6,1782.1 L1049.3,1782.6 L1050.1,1781.6 L1050.8,1782.1 L1051.5,1780.6 L1052.2,1781.6 L1052.9,1781.2 L1053.7,1782.1 L1054.4,1781.8 L1055.1,1782.6 L1055.8,1780.5 L1056.5,1781.0 L1057.3,1781.7 L1058.0,1781.6 L1058.7,1781.9 L1059.4,1782.0 L1060.1,1781.5 L1060.9,1782.8 L1061.6,1780.6 L1062.3,1781.8 L1063.0,1782.1 L1063.7,1781.3 L1064.5,1782.4 L1065.2,1782.1 L1065.9,1781.5 L1066.6,1781.6 L1067.3,1782.6 L1068.1,1783.4 L1068.8,1782.6 L1069.5,1782.1 L1070.2,1781.0 L1070.9,1781.6 L1071.7,1782.1 L1072.4,1780.9 L1073.1,1781.3 L1073.8,1779.8 L1074.5,1779.2 L1075.3,1780.5 L1076.0,1776.8 L1076.7,1776.9 L1077.4,1775.5 L1078.1,1776.1 L1078.9,1773.4 L1079.6,1773.0 L1080.3,1773.3 L1081.0,1772.9 L1081.7,1772.2 L1082.5,1772.6 L1083.2,1772.9 L1083.9,1771.6 L1084.6,1773.3 L1085.3,1772.5 L1086.1,1773.9 L1086.8,1774.5 L1087.5,1776.7 L1088.2,1778.1 L1088.9,1779.7 L1089.7,1781.4 L1090.4,1782.7 L1091.1,1782.8 L1091.8,1783.8 L1092.5,1784.1 L1093.3,1785.0 L1094.0,1784.2 L1094.7,1783.7 L1095.4,1784.6 L1096.1,1784.2 L1096.9,1784.3 L1097.6,1784.7 L1098.3,1785.4 L1099.0,1784.6 L1099.7,1784.2 L1100.5,1783.6 L1101.2,1783.0 L1101.9,1782.3 L1102.6,1779.7 L1103.3,1779.5 L1104.1,1775.9 L1104.8,1775.2 L1105.5,1772.6 L1106.2,1770.5 L1106.9,1767.3 L1107.7,1766.7 L1108.4,1766.7 L1109.1,1766.1 L1109.8,1765.4 L1110.5,1765.0 L1111.3,1766.0 L1112.0,1765.1 L1112.7,1765.8 L1113.4,1767.9 L1114.1,1768.9 L1114.9,1774.7 L1115.6,1779.5 L1116.3,1780.9 L1117.0,1783.0 L1117.7,1783.7 L1118.5,1785.6 L1119.2,1787.8 L1119.9,1788.3 L1120.6,1787.8 L1121.3,1788.6 L1122.1,1787.2 L1122.8,1787.8 L1123.5,1787.0 L1124.2,1788.1 L1124.9,1785.8 L1125.7,1786.6 L1126.4,1785.7 L1127.1,1788.0 L1127.8,1787.6 L1128.5,1786.1 L1129.3,1787.9 L1130.0,1786.5 L1130.7,1786.6 L1131.4,1788.7 L1132.1,1786.6 L1132.9,1787.5 L1133.6,1786.3 L1134.3,1786.3 L1135.0,1787.5 L1135.7,1786.7 L1136.5,1787.3 L1137.2,1786.2 L1137.9,1786.6 L1138.6,1787.2 L1139.3,1785.9 L1140.1,1785.4 L1140.8,1784.9 L1141.5,1784.8 L1142.2,1785.1 L1142.9,1784.6 L1143.7,1783.6 L1144.4,1785.1 L1145.1,1785.4 L1145.8,1786.1 L1146.5,1784.7 L1147.3,1785.5 L1148.0,1786.2 L1148.7,1787.4 L1149.4,1786.9 L1150.1,1785.8 L1150.9,1787.9 L1151.6,1787.6 L1152.3,1788.0 L1153.0,1787.8 L1153.7,1788.9 L1154.5,1788.6 L1155.2,1788.7 L1155.9,1788.2 L1156.6,1789.9 L1157.3,1789.4 L1158.1,1790.2 L1158.8,1790.1 L1159.5,1791.4 L1160.2,1790.8 L1160.9,1793.3 L1161.7,1793.3 L1162.4,1793.2 L1163.1,1792.8 L1163.8,1793.8 L1164.5,1794.4 L1165.3,1793.9 L1166.0,1794.2 L1166.7,1794.9 L1167.4,1795.7 L1168.1,1795.9 L1168.9,1796.1 L1169.6,1795.2 L1170.3,1796.0 L1171.0,1794.5 L1171.7,1794.6 L1172.5,1792.6 L1173.2,1791.8 L1173.9,1790.0 L1174.6,1786.2 L1175.3,1783.8 L1176.1,1781.4 L1176.8,1778.8 L1177.5,1773.8 L1178.2,1768.3 L1178.9,1741.4 L1179.7,1694.5 L1180.4,1676.4 L1181.1,1667.8 L1181.8,1659.8 L1182.5,1670.2 L1183.3,1701.7 L1184.0,1743.5 L1184.7,1768.4 L1185.4,1784.1 L1186.1,1798.4 L1186.9,1802.4 L1187.6,1803.5 L1188.3,1805.2 L1189.0,1804.6 L1189.7,1803.7 L1190.5,1802.3 L1191.2,1800.3 L1191.9,1799.1 L1192.6,1799.2 L1193.3,1797.9 L1194.1,1797.7 L1194.8,1796.9 L1195.5,1796.8 L1196.0,1795.9 L1196.9,1796.0 L1197.7,1797.9 L1198.4,1798.6 L1199.1,1800.3 L1199.8,1803.3 L1200.5,1804.5 L1201.3,1807.7 L1202.3,1808.5 L1202.7,1808.4 L1203.4,1808.2 L1204.1,1807.1 L1204.9,1807.2 L1205.6,1808.1 L1206.3,1808.6 L1207.0,1807.9 L1207.7,1808.8 L1208.5,1807.0 L1209.2,1808.8 L1209.9,1807.3 L1210.6,1806.9 L1211.3,1807.7 L1212.1,1807.2 L1212.8,1807.7 L1213.5,1808.4 L1214.2,1807.1 L1214.9,1808.2 L1215.7,1808.4 L1216.4,1807.7 L1217.1,1808.6 L1217.8,1806.7 L1218.5,1807.5 L1219.3,1808.4 L1220.0,1808.9 L1220.7,1807.9 L1221.4,1807.4 L1222.1,1807.8 L1222.9,1808.4 L1223.6,1807.3 L1224.3,1807.7 L1225.0,1808.5 L1225.7,1807.9 L1226.5,1808.1 L1227.2,1807.0 L1227.9,1806.8 L1228.6,1808.5 L1229.3,1808.3 L1230.1,1807.6 L1230.8,1806.6 L1231.5,1806.7 L1232.2,1806.8 L1232.9,1807.6 L1233.7,1806.3 L1234.4,1807.6 L1235.1,1806.6 L1235.8,1807.0 L1236.5,1807.5 L1237.3,1807.0 L1238.0,1806.6 L1238.7,1807.6 L1239.4,1806.5 L1240.1,1807.3 L1240.9,1807.6 L1241.6,1807.0 L1242.3,1806.8 L1243.0,1808.0 L1243.7,1808.0 L1244.5,1807.3 L1245.2,1807.7 L1245.9,1807.8 L1246.6,1807.5 L1247.3,1807.0 L1248.1,1806.0 L1248.8,1808.0 L1249.5,1807.5 L1250.2,1805.4 L1250.9,1807.9 L1251.7,1808.1 L1252.4,1806.9 L1253.1,1807.1 L1253.8,1805.6 L1254.5,1807.1 L1255.3,1807.0 L1256.0,1805.7 L1256.7,1805.5 L1257.4,1806.3 L1258.1,1805.1 L1258.9,1806.9 L1259.6,1807.1 L1260.3,1807.0 L1261.0,1807.5 L1261.7,1807.1 L1262.5,1806.5 L1263.2,1805.9 L1263.9,1807.0 L1264.6,1806.2 L1265.3,1806.7 L1266.1,1807.0 L1266.8,1807.1 L1267.5,1808.0 L1268.2,1807.2 L1268.9,1807.9 L1269.7,1807.6 L1270.4,1806.2 L1271.1,1807.0 L1271.8,1806.0 L1272.5,1807.6 L1273.3,1805.3 L1274.0,1807.2 L1274.7,1807.0 L1275.4,1806.6 L1276.1,1806.9 L1276.9,1807.8 L1277.6,1807.7 L1278.3,1806.9 L1279.0,1806.7 L1279.7,1806.0 L1280.5,1807.7 L1281.2,1807.2 L1281.9,1806.7 L1282.6,1805.7 L1283.3,1806.5 L1284.1,1805.9 L1284.8,1806.4 L1285.5,1807.8 L1286.2,1807.8 L1286.9,1807.0 L1287.7,1807.5 L1288.4,1808.0 L1289.1,1808.8 L1289.8,1807.7 L1290.5,1807.7 L1291.3,1807.8 L1292.0,1807.8 L1292.7,1808.8 L1293.4,1808.6 L1294.1,1807.9 L1294.9,1809.4 L1295.6,1807.3 L1296.3,1809.5 L1297.0,1808.6 L1297.7,1808.2 L1298.5,1808.0 L1299.2,1809.0 L1299.9,1807.7 L1300.6,1809.3 L1301.3,1809.2 L1302.1,1809.2 L1302.8,1808.2 L1303.5,1809.1 L1304.2,1807.4 L1304.9,1808.9 L1305.7,1807.6 L1306.4,1808.3 L1307.1,1809.5 L1307.8,1809.1 L1308.5,1808.1 L1309.3,1808.6 L1310.0,1808.7 L1310.7,1808.1 L1311.4,1809.3 L1312.1,1809.4 L1312.9,1809.7 L1313.6,1810.8 L1314.3,1810.2 L1315.0,1810.1 L1315.7,1810.4 L1316.5,1809.4 L1317.2,1811.6 L1317.9,1810.3 L1318.6,1809.1 L1319.3,1809.8 L1320.1,1810.2 L1320.8,1809.4 L1321.5,1810.3 L1322.2,1810.4 L1322.9,1811.6 L1323.7,1809.9 L1324.4,1810.0 L1325.1,1809.6 L1325.8,1810.4 L1326.5,1810.6 L1327.3,1809.5 L1328.0,1811.4 L1328.7,1810.7 L1329.4,1810.1 L1330.1,1810.8 L1330.9,1810.3 L1331.6,1811.1 L1332.3,1811.4 L1333.0,1811.6 L1333.7,1811.5 L1334.5,1811.3 L1335.2,1810.3 L1335.9,1811.0 L1336.6,1812.1 L1337.3,1811.1 L1338.1,1811.6 L1338.8,1811.1 L1339.5,1811.6 L1340.2,1811.9 L1340.9,1812.7 L1341.7,1811.1 L1342.4,1812.2 L1343.1,1813.4 L1343.8,1812.9 L1344.5,1813.8 L1345.3,1813.0 L1346.0,1813.1 L1346.7,1812.3 L1347.4,1813.1 L1348.1,1812.7 L1348.9,1813.2 L1349.6,1813.1 L1350.3,1812.9 L1351.0,1814.1 L1351.7,1813.9 L1352.5,1814.0 L1353.2,1812.7 L1353.9,1813.7 L1354.6,1813.3 L1355.3,1813.3 L1356.1,1814.8 L1356.8,1814.0 L1357.5,1815.0 L1358.2,1814.6 L1358.9,1814.5 L1359.7,1814.6 L1360.4,1814.7 L1361.1,1815.3 L1361.8,1816.9 L1362.5,1815.9 L1363.3,1815.7 L1364.0,1816.7 L1364.7,1816.7 L1365.4,1815.8 L1366.1,1816.9 L1366.9,1816.4 L1367.6,1816.4 L1368.3,1817.3 L1369.0,1819.1 L1369.7,1818.6 L1370.5,1817.5 L1371.2,1818.7 L1371.9,1816.1 L1372.6,1818.1 L1373.3,1817.2 L1374.1,1818.6 L1374.8,1818.5 L1375.5,1817.8 L1376.2,1818.1 L1376.9,1818.8 L1377.7,1818.7 L1378.4,1818.7 L1379.1,1819.2 L1379.8,1819.1 L1380.5,1820.0 L1381.3,1819.3 L1382.0,1818.4 L1382.7,1819.4 L1383.4,1819.1 L1384.1,1818.8 L1384.9,1819.9 L1385.6,1820.0 L1386.3,1819.9 L1387.0,1821.3 L1387.7,1819.6 L1388.5,1820.5 L1389.2,1819.8 L1389.9,1820.5 L1390.6,1820.9 L1391.3,1821.4 L1392.1,1821.5 L1392.8,1821.9 L1393.5,1821.7 L1394.2,1822.6 L1394.9,1821.8 L1395.7,1823.3 L1396.4,1822.1 L1397.1,1822.9 L1397.8,1822.7 L1398.5,1822.1 L1399.3,1822.5 L1400.0,1823.4 L1400.7,1822.4 L1401.4,1822.0 L1402.1,1822.3 L1402.9,1822.9 L1403.6,1824.7 L1404.3,1823.9 L1405.0,1823.2 L1405.7,1823.4 L1406.5,1826.4 L1407.2,1824.0 L1407.9,1825.1 L1408.6,1824.7 L1409.3,1824.9 L1410.1,1824.8 L1410.8,1825.7 L1411.5,1825.3 L1412.2,1825.6 L1412.9,1826.9 L1413.7,1826.2 L1414.4,1826.1 L1415.1,1826.3 L1415.8,1827.0 L1416.5,1827.4 L1417.3,1828.0 L1418.0,1825.7 L1418.7,1826.0 L1419.4,1827.1 L1420.1,1825.4 L1420.9,1825.9 L1421.6,1826.9 L1422.3,1825.7 L1423.0,1827.8 L1423.7,1827.6 L1424.5,1827.0 L1425.2,1826.8 L1425.9,1827.2 L1426.6,1827.7 L1427.3,1827.6 L1428.1,1826.8 L1428.8,1828.6 L1429.5,1828.7 L1430.2,1828.8 L1430.9,1827.9 L1431.7,1829.1 L1432.4,1828.0 L1433.1,1828.3 L1433.8,1829.7 L1434.5,1830.7 L1435.3,1829.3 L1436.0,1829.1 L1436.7,1830.6 L1437.4,1829.9 L1438.1,1832.1 L1438.9,1831.5 L1439.6,1830.9 L1440.3,1830.8 L1441.0,1833.4 L1441.7,1832.1 L1442.5,1832.6 L1443.2,1833.9 L1443.9,1834.3 L1444.6,1833.9 L1445.3,1833.8 L1446.1,1834.4 L1446.8,1834.4 L1447.5,1834.7 L1448.2,1836.3 L1448.9,1836.8 L1449.7,1836.2 L1450.4,1836.5 L1451.1,1838.0 L1451.8,1838.1 L1452.5,1837.4 L1453.3,1836.6 L1454.0,1836.5 L1454.7,1836.9 L1455.4,1835.7 L1456.1,1835.2 L1456.9,1836.8 L1457.6,1836.7 L1458.3,1839.5 L1459.0,1840.7 L1459.7,1840.4 L1460.5,1839.8 L1461.2,1839.8 L1461.9,1838.4 L1462.6,1834.0 L1463.3,1829.9 L1464.1,1820.8 L1465.0,1787.8 L1465.5,1798.2 L1466.2,1809.2 L1466.9,1817.3 L1467.7,1824.2 L1468.3,1826.0 L1469.1,1817.3 L1469.8,1804.1 L1470.7,1782.0 L1471.3,1795.0 L1472.0,1829.0 L1472.7,1850.6 L1473.4,1852.5 L1474.1,1853.1 L1474.9,1855.2 L1475.6,1855.0 L1476.3,1855.1 L1477.0,1855.8 L1477.7,1857.8 L1478.5,1859.8 L1479.2,1858.5 L1479.9,1860.0 L1480.6,1859.6 L1481.3,1859.6 L1482.1,1859.2 L1482.8,1857.9 L1483.5,1857.9 L1484.2,1858.7 L1484.9,1859.2 L1485.7,1859.2 L1486.4,1860.7 L1487.1,1863.5 L1487.8,1862.8 L1488.5,1865.6 L1489.3,1866.2 L1490.0,1867.0 L1490.7,1867.2 L1491.4,1869.2 L1492.1,1865.8 L1492.9,1868.7 L1493.6,1868.0 L1494.3,1866.9 L1495.0,1867.4 L1495.7,1868.6 L1496.5,1867.2 L1497.2,1867.6 L1497.9,1868.3 L1498.6,1868.0 L1499.3,1866.9 L1500.1,1867.2 L1500.8,1866.5 L1501.5,1866.5 L1502.2,1866.6 L1502.9,1865.6 L1503.7,1865.3 L1504.4,1863.9 L1505.1,1865.2 L1505.8,1862.2 L1506.5,1860.3 L1507.3,1858.6 L1508.0,1856.3 L1508.7,1851.1 L1509.4,1847.1 L1510.1,1843.1 L1510.9,1840.4 L1511.3,1841.4 L1512.3,1858.4 L1513.0,1869.3 L1513.7,1880.9 L1514.5,1881.9 L1515.2,1883.5 L1515.9,1884.1 L1516.6,1884.7 L1517.3,1884.5 L1518.1,1886.8 L1518.8,1885.3 L1519.5,1886.1 L1520.2,1884.3 L1520.9,1885.6 L1521.7,1885.6 L1522.4,1885.4 L1523.1,1885.6 L1523.8,1885.8 L1524.5,1885.5 L1525.3,1885.3 L1526.0,1886.2 L1526.7,1885.1 L1527.4,1886.9 L1528.1,1888.9 L1528.9,1889.5 L1529.6,1890.6 L1530.3,1891.0 L1531.0,1890.3 L1531.7,1890.9 L1532.5,1891.1 L1533.2,1891.0 L1533.9,1892.3 L1534.6,1892.8 L1535.3,1892.5 L1536.1,1892.6 L1536.8,1891.8 L1537.5,1891.5 L1538.2,1892.3 L1538.9,1891.4 L1539.7,1891.3 L1540.4,1891.6 L1541.1,1893.4 L1541.8,1891.7 L1542.5,1891.5 L1543.3,1892.3 L1544.0,1893.0 L1544.7,1890.9 L1545.4,1892.1 L1546.1,1889.8 L1546.9,1891.4 L1547.6,1890.6 L1548.3,1891.1 L1549.0,1889.6 L1549.7,1889.0 L1550.5,1889.2 L1551.2,1889.3 L1551.9,1887.5 L1552.6,1889.5 L1553.3,1887.6 L1554.1,1886.6 L1554.8,1886.7 L1555.5,1885.8 L1556.2,1885.7 L1556.9,1885.5 L1557.7,1886.3 L1558.4,1886.1 L1559.1,1885.4 L1559.8,1885.0 L1560.5,1886.7 L1561.3,1889.2 L1562.0,1890.3 L1562.7,1890.2 L1563.4,1891.3 L1564.1,1891.7 L1564.9,1892.2 L1565.6,1893.7 L1566.3,1893.8 L1567.0,1893.5 L1567.7,1892.8 L1568.5,1892.5 L1569.2,1894.3 L1569.9,1892.4 L1570.6,1893.8 L1571.3,1894.3 L1572.1,1893.3 L1572.8,1894.3 L1573.5,1893.6 L1574.2,1893.9 L1574.9,1893.7 L1575.7,1893.4 L1576.4,1892.7 L1577.1,1891.9 L1577.8,1888.6 L1578.5,1888.7 L1579.3,1889.3 L1580.0,1887.5 L1580.7,1886.2 L1581.4,1886.0 L1582.1,1886.9 L1582.9,1886.6 L1583.6,1886.0 L1584.3,1886.8 L1585.0,1887.5 L1585.7,1887.4 L1586.5,1889.5 L1587.2,1891.3 L1587.9,1893.7 L1588.6,1895.9 L1589.3,1897.0 L1590.1,1899.5 L1590.8,1902.3 L1591.5,1903.9 L1592.2,1904.7 L1592.9,1902.8 L1593.7,1905.1 L1594.4,1904.5 L1595.1,1905.6 L1595.8,1904.3 L1596.5,1905.5 L1597.3,1904.2 L1598.0,1904.3 L1598.7,1904.6 L1599.4,1905.4 L1600.1,1904.0 L1600.9,1903.5 L1601.6,1904.4 L1602.3,1904.5 L1603.0,1905.3 L1603.7,1904.4 L1604.5,1904.3 L1605.2,1905.4 L1605.9,1906.2 L1606.4,1906.0"/></g>
<g clip-path="url(#plot)"><path stroke="#ff00ff" d="M794.0,1995.2 L794.7,1997.6 L795.5,1998.5 L796.2,1996.8 L796.9,1995.9 L797.6,1997.4 L798.3,1998.1 L799.1,1999.0 L799.8,1996.3 L800.5,1996.3 L801.2,1999.0 L801.9,1999.0 L802.7,2000.6 L803.4,2000.4 L804.1,1999.5 L804.8,1999.8 L805.5,2003.6 L806.3,2000.7 L807.0,2000.7 L807.7,2000.9 L808.4,2003.0 L809.1,2003.7 L809.9,2003.6 L810.6,2004.5 L811.3,2005.5 L812.0,2006.5 L812.7,2007.3 L813.5,2006.5 L814.2,2004.1 L814.9,2007.0 L815.6,2004.4 L816.3,2005.7 L817.1,2004.0 L817.8,2005.5 L818.5,2004.1 L819.2,2004.6 L819.9,2007.4 L820.7,2002.2 L821.4,2001.1 L822.1,1995.0 L822.8,1991.0 L823.5,1978.2 L824.3,1955.3 L825.0,1938.0 L825.7,1919.0 L826.2,1885.9 L827.1,1896.2 L827.9,1901.5 L828.6,1918.5 L829.3,1950.3 L830.0,1967.9 L830.7,1981.4 L831.5,1993.2 L832.2,2003.1 L832.9,2008.9 L833.6,2009.9 L834.6,2011.3 L835.1,2011.8 L835.8,2010.3 L836.5,2007.7 L837.2,2007.9 L837.9,2006.0 L838.7,2006.0 L839.4,2001.9 L840.1,2001.6 L840.9,2000.2 L841.5,2000.8 L842.3,2001.7 L843.0,2003.1 L843.7,2003.7 L844.4,2004.6 L845.1,2006.4 L845.9,2008.7 L846.6,2010.9 L847.3,2011.3 L848.0,2012.1 L848.7,2012.2 L849.5,2012.1 L850.2,2011.3 L850.9,2011.8 L851.6,2012.8 L852.3,2010.0 L853.1,2009.3 L853.8,2012.2 L854.5,2010.0 L855.2,2010.8 L855.9,2010.6 L856.7,2008.3 L857.4,2012.7 L858.1,2012.0 L858.8,2010.1 L859.5,2010.9 L860.3,2010.1 L861.0,2008.6 L861.7,2009.0 L862.4,2009.0 L863.1,2009.4 L863.9,2008.4 L864.6,2007.3 L865.3,2008.6 L866.0,2005.8 L866.7,2007.5 L867.5,2007.6 L868.2,2005.8 L868.9,2003.8 L869.6,2004.6 L870.3,2005.7 L871.1,2005.8 L871.8,2006.7 L872.5,2003.3 L873.2,2003.9 L873.9,2003.9 L874.7,2001.9 L875.4,1998.3 L876.1,2001.3 L876.8,2002.5 L877.5,2000.7 L878.3,1998.7 L879.0,1999.9 L879.7,2001.6 L880.4,2005.4 L881.1,2004.2 L881.9,2004.5 L882.6,2007.0 L883.3,2005.3 L884.0,2007.6 L884.7,2004.4 L885.5,2004.4 L886.2,2005.6 L886.9,2006.1 L887.6,2004.9 L888.3,2004.3 L889.1,2001.5 L889.8,2002.8 L890.5,2002.8 L891.2,2002.9 L891.9,2004.1 L892.7,2003.0 L893.4,2004.2 L894.1,2003.3 L894.8,2002.6 L895.5,2003.0 L896.3,2003.2 L897.0,2003.5 L897.7,2001.6 L898.4,2001.6 L899.1,2000.0 L899.9,2003.2 L900.6,2002.4 L901.3,1999.9 L902.0,1999.5 L902.7,1998.6 L903.5,2000.3 L904.2,2000.3 L904.9,2002.7 L905.6,2000.4 L906.3,1999.1 L907.1,1997.1 L907.8,2001.9 L908.5,2000.8 L909.2,1999.2 L909.9,2001.8 L910.7,2000.2 L911.4,2006.7 L912.1,2004.2 L912.8,2003.6 L913.5,2002.6 L914.3,2000.0 L915.0,2002.2 L915.7,2000.2 L916.4,2002.5 L917.1,1998.9 L917.9,2000.0 L918.6,2002.4 L919.3,2002.6 L920.0,1999.0 L920.7,1998.3 L921.5,2000.9 L922.2,2000.7 L922.9,1998.2 L923.6,1998.4 L924.3,1998.2 L925.1,1997.4 L925.8,1997.8 L926.5,1999.9 L927.2,1999.1 L927.9,2000.6 L928.7,1997.8 L929.4,1997.7 L930.1,1996.6 L930.8,1997.5 L931.5,1996.0 L932.3,1995.4 L933.0,1998.3 L933.7,1999.2 L934.4,1998.4 L935.1,1998.9 L935.9,1997.4 L936.6,1996.0 L937.3,1996.7 L938.0,1996.0 L938.7,1995.0 L939.5,1995.5 L940.2,1997.2 L940.9,1999.5 L941.6,2000.3 L942.3,1999.9 L943.1,2002.5 L943.8,2001.2 L944.5,2001.8 L945.2,2002.6 L945.9,2000.1 L946.7,1998.6 L947.4,2001.8 L948.1,1999.9 L948.8,2002.2 L949.5,2000.8 L950.3,2001.5 L951.0,2001.0 L951.7,1997.5 L952.4,2000.6 L953.1,1998.8 L953.9,1998.4 L954.6,1998.5 L955.3,1999.7 L956.0,1999.6 L956.7,1999.4 L957.5,1996.0 L958.2,1997.0 L958.9,1994.7 L959.6,1997.3 L960.3,1998.0 L961.1,1996.4 L961.8,1997.7 L962.5,1998.0 L963.2,1999.3 L963.9,1997.5 L964.7,1997.9 L965.4,1998.4 L966.1,2001.6 L966.8,2000.9 L967.5,1999.4 L968.3,1999.8 L969.0,1999.6 L969.7,1999.7 L970.4,1999.1 L971.1,1998.8 L971.9,1997.6 L972.6,1998.2 L973.3,2000.8 L974.0,1999.3 L974.7,1998.6 L975.5,1998.0 L976.2,1998.1 L976.9,1998.1 L977.6,1996.6 L978.3,1997.2 L979.1,1996.8 L979.8,1995.2 L980.5,1994.7 L981.2,1994.1 L981.9,1993.7 L982.7,1995.7 L983.4,1991.4 L984.1,1993.5 L984.8,1992.7 L985.5,1992.4 L986.3,1993.0 L987.0,1994.1 L987.7,1992.6 L988.4,1992.6 L989.1,1992.6 L989.9,1993.9 L990.6,1996.2 L991.3,1995.6 L992.0,1995.8 L992.7,1996.6 L993.5,1997.6 L994.2,1997.8 L994.9,2001.0 L995.6,2000.1 L996.3,1999.5 L997.1,2001.6 L997.8,1999.1 L998.5,2000.9 L999.2,2001.0 L999.9,1998.2 L1000.7,1998.2 L1001.4,1999.0 L1002.1,2001.3 L1002.8,2001.7 L1003.5,1998.7 L1004.3,2001.5 L1005.0,1999.7 L1005.7,1999.7 L1006.4,1999.4 L1007.1,1999.6 L1007.9,1997.8 L1008.6,1998.6 L1009.3,1998.2 L1010.0,2000.2 L1010.7,2001.8 L1011.5,2002.0 L1012.2,1997.5 L1012.9,1994.7 L1013.6,1993.2 L1014.3,1986.2 L1015.1,1981.2 L1015.8,1974.1 L1016.5,1969.4 L1017.2,1973.4 L1017.9,1976.8 L1018.7,1979.2 L1019.4,1987.2 L1020.1,1999.6 L1020.8,2003.9 L1021.5,2005.2 L1022.3,2004.8 L1023.0,2005.4 L1023.7,2004.4 L1024.4,2004.0 L1025.1,2006.9 L1025.9,2005.5 L1026.6,2005.5 L1027.3,2003.0 L1028.0,2004.7 L1028.7,2005.9 L1029.5,2003.3 L1030.2,2006.2 L1030.9,2004.4 L1031.6,2005.4 L1032.3,2004.9 L1033.1,2005.6 L1033.8,2007.1 L1034.5,2005.5 L1035.2,2008.2 L1035.9,2005.8 L1036.7,2005.9 L1037.4,2008.2 L1038.1,2006.3 L1038.8,2007.3 L1039.5,2008.9 L1040.3,2009.4 L1041.0,2005.9 L1041.7,2008.7 L1042.4,2010.4 L1043.1,2009.6 L1043.9,2007.9 L1044.6,2007.5 L1045.3,2007.9 L1046.0,2007.0 L1046.7,2008.1 L1047.5,2008.2 L1048.2,2008.3 L1048.9,2010.0 L1049.6,2008.3 L1050.3,2006.9 L1051.1,2010.0 L1051.8,2007.6 L1052.5,2008.4 L1053.2,2008.9 L1053.9,2008.8 L1054.7,2008.1 L1055.4,2009.2 L1056.1,2012.2 L1056.8,2009.0 L1057.5,2009.7 L1058.3,2011.4 L1059.0,2011.1 L1059.7,2011.2 L1060.4,2011.5 L1061.1,2008.2 L1061.9,2009.6 L1062.6,2010.9 L1063.3,2011.4 L1064.0,2012.4 L1064.7,2011.5 L1065.5,2010.7 L1066.2,2011.2 L1066.9,2010.9 L1067.6,2011.5 L1068.3,2012.1 L1069.1,2011.0 L1069.8,2010.5 L1070.5,2010.5 L1071.2,2012.8 L1071.9,2013.1 L1072.7,2012.8 L1073.4,2012.6 L1074.1,2012.6 L1074.8,2011.5 L1075.5,2012.1 L1076.3,2009.7 L1077.0,2010.4 L1077.7,2009.3 L1078.4,2010.6 L1079.1,2008.6 L1079.9,2008.7 L1080.6,2008.8 L1081.3,2009.5 L1082.0,2006.6 L1082.7,2006.1 L1083.5,2008.0 L1084.4,2006.9 L1084.9,2007.6 L1085.6,2006.7 L1086.3,2008.0 L1087.1,2006.7 L1087.8,2010.8 L1088.5,2010.3 L1089.2,2010.9 L1089.9,2015.5 L1090.7,2014.7 L1091.4,2018.7 L1092.1,2015.6 L1092.8,2015.3 L1093.5,2016.5 L1094.3,2018.9 L1095.0,2017.4 L1095.7,2018.4 L1096.4,2018.8 L1097.1,2017.1 L1097.9,2018.3 L1098.6,2017.4 L1099.3,2016.3 L1100.0,2018.5 L1100.7,2017.9 L1101.5,2016.8 L1102.2,2015.2 L1102.9,2013.3 L1103.6,2015.7 L1104.3,2013.8 L1105.1,2010.5 L1105.8,2010.8 L1106.5,2007.2 L1107.2,2007.3 L1107.9,2005.8 L1108.7,2004.6 L1109.4,2003.3 L1110.1,2002.6 L1110.6,2002.3 L1111.5,2002.9 L1112.3,2004.6 L1113.0,2007.2 L1113.7,2010.3 L1114.4,2012.9 L1115.1,2015.8 L1115.9,2011.4 L1116.6,2015.2 L1117.3,2014.6 L1118.0,2017.7 L1118.7,2016.2 L1119.5,2013.1 L1120.2,2015.6 L1120.9,2014.1 L1121.6,2015.2 L1122.3,2011.7 L1123.1,2011.8 L1123.8,2010.8 L1124.5,2010.1 L1125.2,2009.1 L1125.9,2007.5 L1126.7,2010.3 L1127.4,2010.9 L1128.1,2009.7 L1128.8,2008.5 L1129.5,2010.0 L1130.3,2010.4 L1131.0,2009.5 L1131.7,2009.7 L1132.4,2011.4 L1133.1,2008.4 L1133.9,2009.1 L1134.6,2007.4 L1135.3,2008.7 L1136.0,2008.6 L1136.7,2008.1 L1137.5,2008.3 L1138.2,2011.1 L1138.9,2008.5 L1139.6,2008.5 L1140.3,2011.1 L1141.1,2008.2 L1141.8,2006.0 L1142.5,2008.5 L1143.2,2006.7 L1143.9,2009.6 L1144.7,2006.0 L1145.4,2006.6 L1146.1,2005.2 L1146.8,2007.2 L1147.5,2005.8 L1147.9,2007.0 L1148.3,2006.6 L1149.0,2006.6 L1149.7,2008.9 L1150.4,2009.6 L1151.1,2009.3 L1151.9,2009.1 L1152.6,2009.8 L1153.3,2012.4 L1154.0,2015.9 L1154.7,2013.3 L1155.5,2013.7 L1156.2,2014.6 L1156.9,2015.0 L1157.6,2016.0 L1158.3,2017.8 L1159.1,2020.6 L1159.8,2019.8 L1160.5,2020.2 L1161.2,2020.0 L1161.9,2023.5 L1162.7,2024.7 L1163.4,2024.6 L1164.1,2026.0 L1164.8,2028.2 L1165.5,2030.0 L1165.9,2028.9 L1166.3,2029.1 L1167.0,2028.1 L1167.7,2028.3 L1168.4,2027.2 L1169.1,2028.8 L1169.9,2023.8 L1170.6,2023.6 L1171.3,2024.5 L1172.0,2021.5 L1172.7,2022.3 L1173.5,2019.1 L1174.2,2017.4 L1174.9,2014.3 L1175.6,2008.7 L1176.3,1998.5 L1177.1,1992.4 L1177.8,1984.0 L1178.5,1972.2 L1179.2,1948.5 L1179.9,1897.7 L1180.7,1857.6 L1181.4,1832.2 L1181.9,1824.7 L1182.8,1850.9 L1183.5,1878.9 L1184.3,1956.1 L1185.0,1987.8 L1185.7,2018.6 L1186.4,2036.4 L1187.2,2040.9 L1187.9,2039.4 L1188.6,2039.7 L1189.3,2041.2 L1190.0,2038.3 L1190.7,2037.6 L1191.5,2036.5 L1192.2,2035.5 L1192.9,2034.8 L1193.6,2034.0 L1194.3,2029.3 L1195.1,2032.2 L1195.4,2030.5 L1195.8,2030.3 L1196.5,2034.9 L1197.2,2034.0 L1197.9,2039.3 L1198.7,2041.1 L1199.4,2041.6 L1200.1,2045.8 L1200.8,2047.7 L1201.5,2047.7 L1202.3,2046.1 L1203.0,2049.2 L1203.7,2049.9 L1204.4,2048.8 L1205.1,2052.4 L1205.9,2049.9 L1206.6,2049.7 L1207.3,2049.8 L1208.0,2049.3 L1208.7,2049.4 L1209.5,2050.7 L1210.2,2051.2 L1210.9,2050.5 L1211.6,2051.3 L1212.3,2050.1 L1213.1,2052.6 L1213.8,2051.3 L1214.5,2052.6 L1215.2,2051.3 L1215.9,2051.7 L1216.7,2052.5 L1217.4,2050.6 L1218.1,2054.9 L1218.8,2051.7 L1219.5,2051.4 L1220.3,2050.4 L1221.0,2053.0 L1221.7,2052.6 L1222.4,2051.2 L1223.1,2049.1 L1223.9,2050.1 L1224.6,2051.5 L1225.3,2050.1 L1226.0,2049.3 L1226.7,2049.3 L1227.5,2049.8 L1228.2,2050.7 L1228.9,2049.9 L1229.6,2050.7 L1230.3,2054.1 L1231.1,2052.8 L1231.8,2049.5 L1232.5,2051.1 L1233.2,2050.8 L1233.9,2050.5 L1234.7,2052.0 L1235.4,2050.3 L1236.1,2050.3 L1236.8,2050.2 L1237.5,2050.5 L1238.3,2052.1 L1239.0,2051.5 L1239.7,2048.9 L1240.4,2049.9 L1241.1,2049.4 L1241.9,2051.3 L1242.6,2050.5 L1243.3,2051.2 L1244.0,2050.0 L1244.7,2047.7 L1245.5,2050.5 L1246.2,2050.2 L1246.9,2050.4 L1247.6,2048.2 L1248.3,2049.8 L1249.1,2048.8 L1249.8,2048.8 L1250.5,2050.0 L1251.2,2050.0 L1251.9,2048.5 L1252.7,2047.5 L1253.4,2046.5 L1254.1,2048.8 L1254.8,2050.8 L1255.5,2049.5 L1256.3,2047.0 L1257.0,2048.8 L1257.7,2050.5 L1258.4,2052.1 L1259.1,2051.7 L1259.9,2050.8 L1260.6,2050.7 L1261.3,2049.3 L1262.0,2050.1 L1262.7,2050.3 L1263.5,2049.9 L1264.2,2050.9 L1264.9,2050.4 L1265.6,2051.4 L1266.3,2052.8 L1267.1,2052.0 L1267.8,2051.7 L1268.5,2050.9 L1269.2,2049.5 L1269.9,2051.2 L1270.7,2052.0 L1271.4,2050.1 L1272.1,2052.9 L1272.8,2051.0 L1273.5,2051.8 L1274.3,2051.0 L1275.0,2049.9 L1275.7,2053.8 L1276.4,2050.0 L1277.1,2052.5 L1277.9,2050.7 L1278.6,2051.7 L1279.3,2050.4 L1280.0,2050.9 L1280.7,2052.5 L1281.5,2053.7 L1282.2,2050.3 L1282.9,2051.4 L1283.6,2052.8 L1284.3,2051.3 L1285.1,2053.6 L1285.8,2052.4 L1286.5,2054.8 L1287.2,2055.1 L1287.9,2056.5 L1288.7,2055.7 L1289.4,2053.9 L1290.1,2056.3 L1290.8,2054.3 L1291.5,2056.6 L1292.3,2057.6 L1293.0,2056.6 L1293.7,2055.4 L1294.4,2057.6 L1295.1,2056.5 L1295.9,2055.0 L1296.6,2056.2 L1297.3,2058.5 L1298.0,2056.6 L1298.7,2057.3 L1299.5,2056.9 L1300.2,2055.5 L1300.9,2057.1 L1301.6,2058.4 L1302.3,2058.4 L1303.1,2058.1 L1303.8,2056.0 L1304.5,2060.2 L1305.2,2059.7 L1305.9,2060.2 L1306.7,2060.7 L1307.4,2058.7 L1308.1,2058.6 L1308.8,2059.8 L1309.5,2061.6 L1310.3,2057.7 L1311.0,2059.6 L1311.7,2059.2 L1312.4,2060.9 L1313.1,2062.3 L1313.9,2060.4 L1314.6,2059.5 L1315.3,2061.4 L1316.0,2061.2 L1316.7,2059.9 L1317.5,2063.1 L1318.2,2061.6 L1318.9,2063.3 L1319.6,2061.1 L1320.3,2064.3 L1321.1,2061.5 L1321.8,2064.7 L1322.5,2061.6 L1323.2,2065.7 L1323.9,2063.9 L1324.7,2062.8 L1325.4,2064.7 L1326.1,2065.8 L1326.8,2064.5 L1327.5,2065.4 L1328.3,2066.5 L1329.0,2066.3 L1329.7,2063.0 L1330.4,2066.4 L1331.1,2067.7 L1331.9,2067.8 L1332.6,2068.9 L1333.3,2067.1 L1334.0,2071.2 L1334.7,2069.3 L1335.5,2069.0 L1336.2,2070.1 L1336.9,2070.2 L1337.6,2069.4 L1338.3,2068.8 L1339.1,2071.0 L1339.8,2070.5 L1340.5,2068.0 L1341.2,2069.3 L1341.9,2071.5 L1342.7,2071.4 L1343.4,2071.9 L1344.1,2072.6 L1344.8,2072.3 L1345.5,2074.2 L1346.3,2071.8 L1347.0,2072.1 L1347.7,2073.1 L1348.4,2073.8 L1349.1,2074.0 L1349.9,2075.0 L1350.6,2072.9 L1351.3,2075.2 L1352.0,2074.8 L1352.7,2073.6 L1353.5,2075.3 L1354.2,2078.6 L1354.9,2077.7 L1355.6,2076.8 L1356.3,2075.0 L1357.1,2077.4 L1357.8,2077.9 L1358.5,2079.2 L1359.2,2082.3 L1359.9,2080.8 L1360.7,2080.7 L1361.4,2079.6 L1362.1,2079.7 L1362.8,2081.3 L1363.5,2081.5 L1364.3,2086.1 L1365.0,2082.3 L1365.7,2082.1 L1366.4,2083.9 L1367.1,2081.9 L1367.9,2079.4 L1368.6,2081.6 L1369.3,2079.3 L1370.0,2078.2 L1370.7,2080.4 L1371.5,2081.0 L1372.2,2080.6 L1372.9,2082.5 L1373.6,2083.6 L1374.3,2083.3 L1375.1,2084.0 L1375.8,2085.3 L1376.5,2089.1 L1377.2,2091.6 L1377.9,2092.1 L1378.7,2093.3 L1379.4,2094.5 L1380.1,2092.8 L1380.8,2094.5 L1381.5,2091.9 L1382.3,2094.9 L1383.0,2094.9 L1383.7,2094.6 L1384.4,2094.5 L1385.1,2094.1 L1385.9,2095.9 L1386.6,2097.7 L1387.3,2096.1 L1388.0,2097.7 L1388.7,2096.7 L1389.5,2098.2 L1390.2,2097.2 L1390.9,2099.4 L1391.6,2099.2 L1392.3,2100.5 L1393.1,2100.0 L1393.8,2100.1 L1394.5,2101.9 L1395.2,2104.3 L1395.9,2105.8 L1396.7,2104.2 L1397.4,2106.2 L1398.1,2106.7 L1398.8,2106.8 L1399.5,2104.9 L1400.3,2107.6 L1401.0,2106.5 L1401.7,2109.5 L1402.4,2109.5 L1403.1,2109.8 L1403.9,2106.6 L1404.6,2110.9 L1405.3,2111.6 L1406.0,2109.8 L1406.7,2113.1 L1407.5,2112.6 L1408.2,2113.0 L1408.9,2113.1 L1409.6,2113.5 L1410.3,2115.2 L1411.1,2120.4 L1411.8,2117.9 L1412.5,2118.7 L1413.2,2118.4 L1413.9,2119.1 L1414.7,2119.8 L1415.4,2120.1 L1416.1,2122.8 L1416.8,2121.9 L1417.5,2123.8 L1418.3,2121.9 L1419.0,2124.8 L1419.7,2124.1 L1420.4,2125.3 L1421.1,2124.7 L1421.9,2124.1 L1422.6,2126.9 L1423.3,2125.3 L1424.0,2125.9 L1424.7,2125.3 L1425.5,2126.9 L1426.2,2126.4 L1426.9,2127.5 L1427.6,2127.8 L1428.3,2126.8 L1429.1,2126.1 L1429.8,2128.5 L1430.5,2129.2 L1431.2,2129.0 L1431.9,2126.9 L1432.7,2129.2 L1433.4,2129.1 L1434.1,2129.2 L1434.8,2129.9 L1435.5,2130.0 L1436.3,2132.0 L1437.0,2134.2 L1437.7,2133.6 L1438.4,2133.3 L1439.1,2135.7 L1439.9,2136.8 L1440.6,2135.1 L1441.3,2137.1 L1442.0,2139.2 L1442.7,2138.8 L1443.5,2139.5 L1444.2,2138.3 L1444.9,2141.5 L1445.6,2143.5 L1446.3,2143.4 L1447.1,2145.9 L1447.8,2148.5 L1448.5,2153.3 L1449.2,2154.5 L1449.9,2155.4 L1450.7,2159.6 L1451.4,2160.5 L1452.1,2161.6 L1452.8,2160.0 L1453.5,2163.0 L1454.3,2164.8 L1455.0,2163.2 L1455.7,2166.3 L1456.4,2167.3 L1457.1,2167.2 L1457.9,2165.4 L1458.6,2165.5 L1459.3,2167.4 L1460.0,2167.5 L1460.7,2167.6 L1461.5,2167.5 L1462.2,2165.4 L1462.9,2163.3 L1463.6,2158.7 L1464.3,2154.7 L1464.9,2134.0 L1465.8,2135.0 L1466.5,2137.4 L1467.2,2142.2 L1467.9,2145.5 L1468.4,2146.0 L1469.4,2139.6 L1470.1,2134.3 L1470.8,2134.6 L1471.5,2128.7 L1472.0,2129.0 L1473.0,2162.8 L1473.7,2171.1 L1474.4,2177.2 L1475.1,2181.5 L1475.9,2180.9 L1476.6,2182.9 L1477.3,2182.8 L1478.0,2183.5 L1478.7,2187.2 L1479.5,2182.1 L1480.2,2184.8 L1480.9,2182.7 L1481.6,2185.8 L1482.3,2185.7 L1483.1,2183.5 L1483.8,2186.6 L1484.5,2184.2 L1485.2,2185.8 L1485.9,2185.0 L1486.7,2184.5 L1487.4,2185.5 L1488.1,2186.5 L1488.8,2187.9 L1489.5,2188.0 L1490.3,2191.4 L1491.0,2189.0 L1491.7,2189.3 L1492.4,2189.5 L1493.1,2189.8 L1493.9,2189.2 L1494.6,2189.9 L1495.3,2192.3 L1496.0,2191.4 L1496.7,2191.2 L1497.5,2191.9 L1498.2,2192.9 L1498.9,2192.4 L1499.6,2192.7 L1500.3,2191.2 L1501.1,2191.6 L1501.8,2191.1 L1502.5,2191.9 L1503.2,2191.1 L1503.9,2191.7 L1504.7,2192.0 L1505.4,2192.0 L1506.1,2192.0 L1506.8,2191.8 L1507.5,2194.0 L1508.3,2192.0 L1509.0,2191.3 L1509.7,2192.8 L1510.4,2191.3 L1511.1,2191.5 L1511.9,2193.1 L1512.6,2191.3 L1513.3,2189.7 L1514.0,2194.2 L1514.7,2195.4 L1515.5,2192.4 L1516.2,2193.5 L1516.9,2195.5 L1517.6,2192.6 L1518.3,2194.1 L1519.1,2193.9 L1519.5,2195.2"/></g>
</g>
<text x="155.50" y="2344.60" font-size="82.30px" fill="#000" text-anchor="middle" letter-spacing="-0.3">1000</text>
<text x="442.44" y="2344.60" font-size="82.30px" fill="#000" text-anchor="middle" letter-spacing="-0.3">800</text>
<text x="729.38" y="2344.60" font-size="82.30px" fill="#000" text-anchor="middle" letter-spacing="-0.3">600</text>
<text x="1016.32" y="2344.60" font-size="82.30px" fill="#000" text-anchor="middle" letter-spacing="-0.3">400</text>
<text x="1303.26" y="2344.60" font-size="82.30px" fill="#000" text-anchor="middle" letter-spacing="-0.3">200</text>
<text x="1590.20" y="2344.60" font-size="82.30px" fill="#000" text-anchor="middle" letter-spacing="-0.3">0</text>
<text x="214.20" y="734.10" font-size="75.00px" fill="#000" text-anchor="start">10 min</text>
<text x="220.85" y="1181.60" font-size="75.00px" fill="#ff0000" text-anchor="start">20 min</text>
<text x="211.30" y="1489.70" font-size="75.00px" fill="#0000ff" text-anchor="start">60 min</text>
<text x="204.85" y="1795.70" font-size="75.00px" fill="#00ff00" text-anchor="start">24 hr</text>
<text x="208.25" y="2017.30" font-size="75.70px" fill="#ff80ff" text-anchor="start">24 hr, PDA only</text>
<text x="500.00" y="1446.00" font-size="75.00px" fill="#000" text-anchor="start">Fe2p</text>
<text x="651.05" y="1907.00" font-size="75.00px" fill="#000" text-anchor="start">O1s</text>
<text x="945.00" y="1909.70" font-size="75.00px" fill="#000" text-anchor="start">N1s</text>
<text x="1201.05" y="1920.00" font-size="75.00px" fill="#000" text-anchor="start">C1s</text>
<text x="1023.00" y="562.40" font-size="75.00px" fill="#000" text-anchor="start">Au 4d</text>
<text x="1390.00" y="187.60" font-size="75.00px" fill="#000" text-anchor="start">Au 4f</text>
<text x="881.50" y="2488.70" font-size="88.50px" fill="#000" text-anchor="middle">Binding energy (eV)</text>
<text x="0.00" y="0.00" font-size="81.10px" fill="#000" text-anchor="middle" transform="translate(75.2,1185.6) rotate(-90)">Normalized intensity</text>
</svg></body></html>
